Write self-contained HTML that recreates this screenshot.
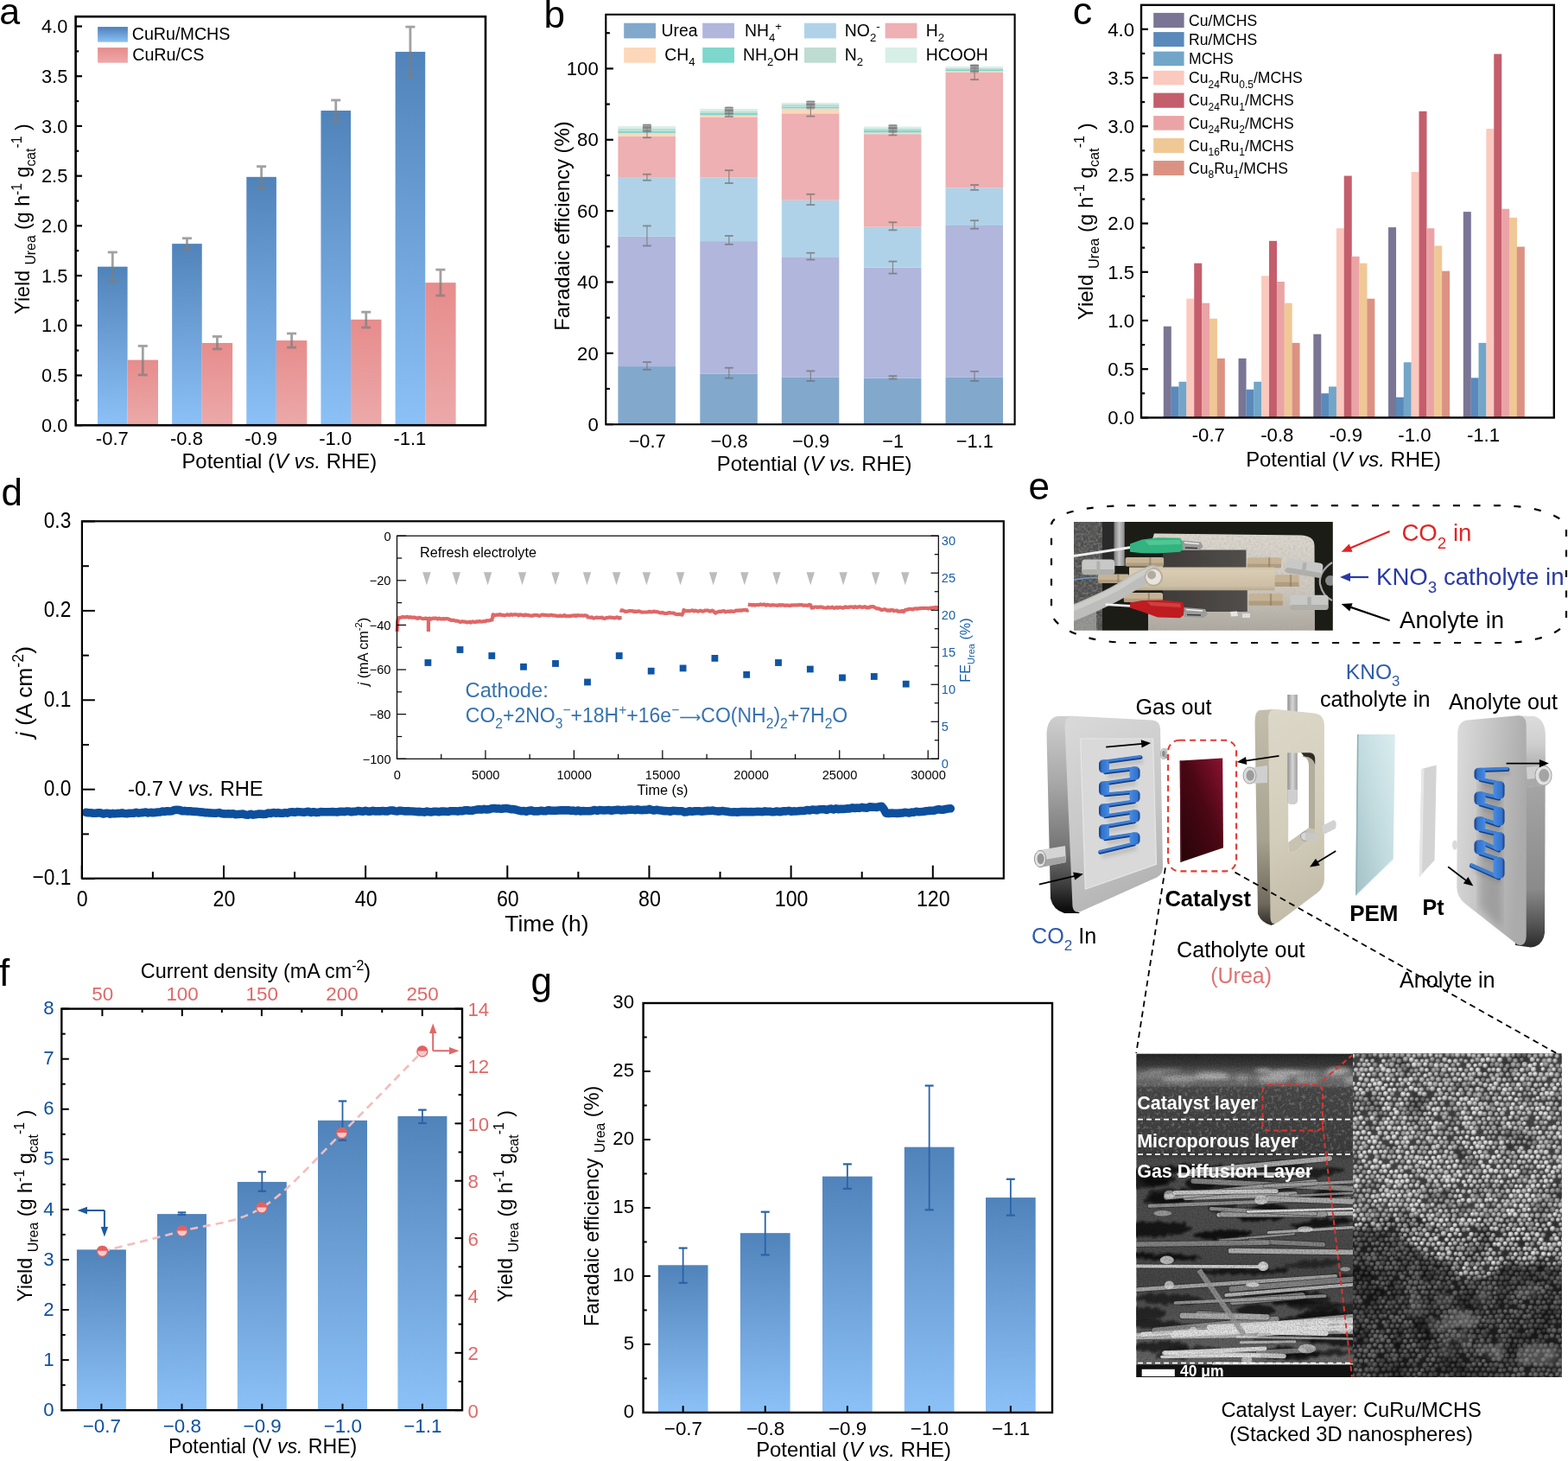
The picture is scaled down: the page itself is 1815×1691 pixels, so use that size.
<!DOCTYPE html>
<html><head><meta charset="utf-8"><title>Figure</title>
<style>html,body{margin:0;padding:0;background:#fff;} svg{display:block;}</style></head>
<body><svg width="1815" height="1691" viewBox="0 0 1815 1691" font-family="'Liberation Sans', Arial, sans-serif">
<defs><linearGradient id="lg1" x1="0" y1="0" x2="0" y2="1"><stop offset="0" stop-color="#5083ba"/><stop offset="1" stop-color="#8cc1f7"/></linearGradient><linearGradient id="lg2" x1="0" y1="0" x2="0" y2="1"><stop offset="0" stop-color="#e78c8c"/><stop offset="1" stop-color="#eca9a9"/></linearGradient><linearGradient id="lg3" x1="0" y1="0" x2="0" y2="1"><stop offset="0" stop-color="#4d7fba"/><stop offset="1" stop-color="#8cc1f7"/></linearGradient><linearGradient id="lg4" x1="0" y1="0" x2="0" y2="1"><stop offset="0" stop-color="#e78c8c"/><stop offset="1" stop-color="#eda9a9"/></linearGradient><clipPath id="phclip"><rect x="1243.0" y="604.0" width="299.8" height="125.7"/></clipPath><filter id="fabric" x="0" y="0" width="100%" height="100%"><feTurbulence type="fractalNoise" baseFrequency="0.35" numOctaves="2" seed="4"/><feColorMatrix type="matrix" values="0 0 0 0 0.45  0 0 0 0 0.43  0 0 0 0 0.4  1.0 1.0 1.0 0 -1.25"/><feComposite in2="SourceAlpha" operator="in"/></filter><filter id="pblur"><feGaussianBlur stdDeviation="0.5"/></filter><linearGradient id="lg5" x1="0" y1="0" x2="1" y2="0"><stop offset="0" stop-color="#7a7a7a"/><stop offset="0.5" stop-color="#c4c4c4"/><stop offset="1" stop-color="#8a8a8a"/></linearGradient><linearGradient id="lg6" x1="0" y1="0" x2="0" y2="1"><stop offset="0" stop-color="#dcd7ce"/><stop offset="0.55" stop-color="#cfc9bf"/><stop offset="1" stop-color="#a9a49b"/></linearGradient><linearGradient id="lg7" x1="0" y1="0" x2="1" y2="0"><stop offset="0" stop-color="#3e3b39"/><stop offset="1" stop-color="#524e4b"/></linearGradient><linearGradient id="lg8" x1="0" y1="0" x2="0" y2="1"><stop offset="0" stop-color="#cfc3ab"/><stop offset="0.15" stop-color="#d9ccb3"/><stop offset="0.8" stop-color="#cdbfa5"/><stop offset="1" stop-color="#b8aa90"/></linearGradient><linearGradient id="lg9" x1="0" y1="0" x2="0" y2="1"><stop offset="0" stop-color="#cfcfcf"/><stop offset="0.35" stop-color="#a6a6a6"/><stop offset="0.7" stop-color="#707070"/><stop offset="0.86" stop-color="#3c3c3c"/><stop offset="1" stop-color="#060606"/></linearGradient><linearGradient id="lg10" x1="0.2" y1="0" x2="0.5" y2="1"><stop offset="0" stop-color="#d8d8d8"/><stop offset="0.6" stop-color="#c6c6c6"/><stop offset="1" stop-color="#b2b2b2"/></linearGradient><filter id="blur2" x="-20%" y="-20%" width="140%" height="140%"><feGaussianBlur stdDeviation="2"/></filter><linearGradient id="bendL" x1="0" y1="0" x2="1" y2="0"><stop offset="0" stop-color="#143a7e"/><stop offset="0.3" stop-color="#3474cc"/><stop offset="0.7" stop-color="#3d80d8"/><stop offset="1" stop-color="#4a8ee2"/></linearGradient><linearGradient id="bendR" x1="0" y1="0" x2="1" y2="0"><stop offset="0" stop-color="#4a8ee2"/><stop offset="0.35" stop-color="#3d80d8"/><stop offset="0.75" stop-color="#3474cc"/><stop offset="1" stop-color="#143a7e"/></linearGradient><linearGradient id="lg11" x1="1" y1="0" x2="0" y2="1"><stop offset="0" stop-color="#8c1230"/><stop offset="0.45" stop-color="#4a0714"/><stop offset="1" stop-color="#250407"/></linearGradient><linearGradient id="lg12" x1="0" y1="0" x2="0" y2="1"><stop offset="0" stop-color="#c4beac"/><stop offset="0.6" stop-color="#a8a290"/><stop offset="0.9" stop-color="#6e695c"/><stop offset="1" stop-color="#2e2c26"/></linearGradient><linearGradient id="lg13" x1="0" y1="0" x2="1" y2="0"><stop offset="0" stop-color="#8e8e8e"/><stop offset="0.5" stop-color="#d6d6d6"/><stop offset="1" stop-color="#9c9c9c"/></linearGradient><linearGradient id="lg14" x1="0" y1="0" x2="0.15" y2="1"><stop offset="0" stop-color="#dcd8c9"/><stop offset="0.6" stop-color="#d3cdbb"/><stop offset="1" stop-color="#c2bca9"/></linearGradient><linearGradient id="lg15" x1="1" y1="0" x2="0" y2="1"><stop offset="0" stop-color="#daedf0"/><stop offset="0.5" stop-color="#c2dbdf"/><stop offset="1" stop-color="#a3c1c6"/></linearGradient><linearGradient id="lg16" x1="0" y1="0" x2="0" y2="1"><stop offset="0" stop-color="#dcdcdc"/><stop offset="0.12" stop-color="#cfcfcf"/><stop offset="0.25" stop-color="#a8a8a8"/><stop offset="0.75" stop-color="#8a8a8a"/><stop offset="0.9" stop-color="#555"/><stop offset="1" stop-color="#2a2a2a"/></linearGradient><linearGradient id="lg17" x1="0" y1="0" x2="1" y2="0.25"><stop offset="0" stop-color="#dcdcdc"/><stop offset="0.55" stop-color="#c2c2c2"/><stop offset="1" stop-color="#ababab"/></linearGradient><filter id="blur4"><feGaussianBlur stdDeviation="4"/></filter><clipPath id="semL"><rect x="1315.2" y="1219.4" width="250.8" height="374.6"/></clipPath><filter id="fine" x="0" y="0" width="100%" height="100%"><feTurbulence type="fractalNoise" baseFrequency="0.6" numOctaves="2" seed="2"/><feColorMatrix type="matrix" values="0 0 0 0 0  0 0 0 0 0  0 0 0 0 0  0 0 0 -1.6 1.0"/></filter><filter id="grain" x="0" y="0" width="100%" height="100%"><feTurbulence type="fractalNoise" baseFrequency="0.25" numOctaves="3" seed="9"/><feColorMatrix type="matrix" values="0 0 0 0 1  0 0 0 0 1  0 0 0 0 1  2.2 0 0 0 -1.15"/></filter><filter id="soft"><feGaussianBlur stdDeviation="0.7"/></filter><filter id="soft2"><feGaussianBlur stdDeviation="2.2"/></filter><linearGradient id="lg18" x1="0" y1="0" x2="0" y2="1"><stop offset="0" stop-color="#262626"/><stop offset="0.035" stop-color="#3c3c3c"/><stop offset="0.05" stop-color="#555555"/><stop offset="0.075" stop-color="#7c7c7c"/><stop offset="0.095" stop-color="#5c5c5c"/><stop offset="0.11" stop-color="#4a4a4a"/><stop offset="0.30" stop-color="#3e3e3e"/><stop offset="0.31" stop-color="#3a3a3a"/><stop offset="0.33" stop-color="#4c4c4c"/><stop offset="0.5" stop-color="#4e4e4e"/><stop offset="0.7" stop-color="#464646"/><stop offset="0.85" stop-color="#5a5a5a"/><stop offset="1" stop-color="#6a6a6a"/></linearGradient><filter id="edge2" x="-10%" y="-10%" width="120%" height="120%"><feTurbulence type="fractalNoise" baseFrequency="0.12" numOctaves="2" seed="17" result="t"/><feDisplacementMap in="SourceGraphic" in2="t" scale="9" xChannelSelector="R" yChannelSelector="G" result="d"/><feGaussianBlur in="d" stdDeviation="0.9"/></filter><clipPath id="semR"><rect x="1566.0" y="1219.2" width="241.9" height="374.8"/></clipPath><radialGradient id="sph" cx="0.4" cy="0.36" r="0.62"><stop offset="0" stop-color="#ececec"/><stop offset="0.5" stop-color="#b0b0b0"/><stop offset="1" stop-color="#404040"/></radialGradient><pattern id="spheres" x="0" y="0" width="6.0" height="10.4" patternUnits="userSpaceOnUse"><rect width="6.0" height="10.4" fill="#474747"/><circle cx="3.0" cy="2.6" r="2.85" fill="url(#sph)"/><circle cx="0" cy="7.8" r="2.85" fill="url(#sph)"/><circle cx="6.0" cy="7.8" r="2.85" fill="url(#sph)"/></pattern><filter id="warp" x="0" y="0" width="100%" height="100%"><feTurbulence type="fractalNoise" baseFrequency="0.035" numOctaves="2" seed="3" result="t"/><feDisplacementMap in="SourceGraphic" in2="t" scale="6" xChannelSelector="R" yChannelSelector="G"/></filter><filter id="blotch" x="0" y="0" width="100%" height="100%"><feTurbulence type="fractalNoise" baseFrequency="0.03" numOctaves="3" seed="8"/><feColorMatrix type="matrix" values="0 0 0 0 0  0 0 0 0 0  0 0 0 0 0  -2.4 0 0 0 1.3"/></filter><filter id="edge" x="-5%" y="-5%" width="110%" height="110%"><feTurbulence type="fractalNoise" baseFrequency="0.05" numOctaves="3" seed="6" result="t"/><feDisplacementMap in="SourceGraphic" in2="t" scale="28" xChannelSelector="R" yChannelSelector="G" result="d"/><feGaussianBlur in="d" stdDeviation="2"/></filter><radialGradient id="sA" cx="0.4" cy="0.35" r="0.65"><stop offset="0" stop-color="#f0f0f0"/><stop offset="0.45" stop-color="#bdbdbd"/><stop offset="1" stop-color="#3a3a3a"/></radialGradient><radialGradient id="sB" cx="0.4" cy="0.35" r="0.65"><stop offset="0" stop-color="#d2d2d2"/><stop offset="0.45" stop-color="#9e9e9e"/><stop offset="1" stop-color="#333"/></radialGradient><radialGradient id="sC" cx="0.4" cy="0.35" r="0.65"><stop offset="0" stop-color="#b0b0b0"/><stop offset="0.5" stop-color="#7c7c7c"/><stop offset="1" stop-color="#2c2c2c"/></radialGradient><linearGradient id="lg19" x1="0" y1="0" x2="0" y2="1"><stop offset="0" stop-color="#5083ba"/><stop offset="1" stop-color="#8cc1f7"/></linearGradient><linearGradient id="lg20" x1="0" y1="0" x2="0" y2="1"><stop offset="0" stop-color="#5083ba"/><stop offset="1" stop-color="#8cc1f7"/></linearGradient></defs>
<rect width="1815" height="1691" fill="#fff"/>
<text x="-0.80" y="27.70" font-size="43">a</text>
<rect x="113.00" y="308.67" width="34.60" height="183.53" fill="url(#lg1)"/>
<rect x="147.60" y="416.60" width="35.40" height="75.60" fill="url(#lg2)"/>
<rect x="199.15" y="282.13" width="34.60" height="210.07" fill="url(#lg1)"/>
<rect x="233.75" y="396.97" width="35.40" height="95.23" fill="url(#lg2)"/>
<rect x="285.30" y="204.79" width="34.60" height="287.41" fill="url(#lg1)"/>
<rect x="319.90" y="394.09" width="35.40" height="98.11" fill="url(#lg2)"/>
<rect x="371.45" y="128.03" width="34.60" height="364.17" fill="url(#lg1)"/>
<rect x="406.05" y="369.85" width="35.40" height="122.35" fill="url(#lg2)"/>
<rect x="457.60" y="59.93" width="34.60" height="432.27" fill="url(#lg1)"/>
<rect x="492.20" y="327.14" width="35.40" height="165.06" fill="url(#lg2)"/>
<g stroke="#7e7e7e" opacity="0.72"><line x1="130.30" y1="291.94" x2="130.30" y2="325.99" stroke-width="2.8"/><line x1="124.80" y1="291.94" x2="135.80" y2="291.94" stroke-width="2.8"/><line x1="124.80" y1="325.99" x2="135.80" y2="325.99" stroke-width="2.8"/></g>
<g stroke="#7e7e7e" opacity="0.72"><line x1="165.30" y1="400.44" x2="165.30" y2="433.91" stroke-width="2.8"/><line x1="159.80" y1="400.44" x2="170.80" y2="400.44" stroke-width="2.8"/><line x1="159.80" y1="433.91" x2="170.80" y2="433.91" stroke-width="2.8"/></g>
<g stroke="#7e7e7e" opacity="0.72"><line x1="216.45" y1="275.78" x2="216.45" y2="288.47" stroke-width="2.8"/><line x1="210.95" y1="275.78" x2="221.95" y2="275.78" stroke-width="2.8"/><line x1="210.95" y1="288.47" x2="221.95" y2="288.47" stroke-width="2.8"/></g>
<g stroke="#7e7e7e" opacity="0.72"><line x1="251.45" y1="389.47" x2="251.45" y2="403.90" stroke-width="2.8"/><line x1="245.95" y1="389.47" x2="256.95" y2="389.47" stroke-width="2.8"/><line x1="245.95" y1="403.90" x2="256.95" y2="403.90" stroke-width="2.8"/></g>
<g stroke="#7e7e7e" opacity="0.72"><line x1="302.60" y1="192.67" x2="302.60" y2="218.07" stroke-width="2.8"/><line x1="297.10" y1="192.67" x2="308.10" y2="192.67" stroke-width="2.8"/><line x1="297.10" y1="218.07" x2="308.10" y2="218.07" stroke-width="2.8"/></g>
<g stroke="#7e7e7e" opacity="0.72"><line x1="337.60" y1="386.01" x2="337.60" y2="402.17" stroke-width="2.8"/><line x1="332.10" y1="386.01" x2="343.10" y2="386.01" stroke-width="2.8"/><line x1="332.10" y1="402.17" x2="343.10" y2="402.17" stroke-width="2.8"/></g>
<g stroke="#7e7e7e" opacity="0.72"><line x1="388.75" y1="115.91" x2="388.75" y2="141.31" stroke-width="2.8"/><line x1="383.25" y1="115.91" x2="394.25" y2="115.91" stroke-width="2.8"/><line x1="383.25" y1="141.31" x2="394.25" y2="141.31" stroke-width="2.8"/></g>
<g stroke="#7e7e7e" opacity="0.72"><line x1="423.75" y1="361.19" x2="423.75" y2="379.08" stroke-width="2.8"/><line x1="418.25" y1="361.19" x2="429.25" y2="361.19" stroke-width="2.8"/><line x1="418.25" y1="379.08" x2="429.25" y2="379.08" stroke-width="2.8"/></g>
<g stroke="#7e7e7e" opacity="0.72"><line x1="474.90" y1="31.08" x2="474.90" y2="88.21" stroke-width="2.8"/><line x1="469.40" y1="31.08" x2="480.40" y2="31.08" stroke-width="2.8"/><line x1="469.40" y1="88.21" x2="480.40" y2="88.21" stroke-width="2.8"/></g>
<g stroke="#7e7e7e" opacity="0.72"><line x1="509.90" y1="312.14" x2="509.90" y2="342.15" stroke-width="2.8"/><line x1="504.40" y1="312.14" x2="515.40" y2="312.14" stroke-width="2.8"/><line x1="504.40" y1="342.15" x2="515.40" y2="342.15" stroke-width="2.8"/></g>
<rect x="87.60" y="19.20" width="474.40" height="473.00" fill="none" stroke="#000" stroke-width="2.6"/>
<line x1="87.60" y1="492.20" x2="95.00" y2="492.20" stroke="#000" stroke-width="2.2"/>
<text x="78.30" y="499.90" font-size="21.8" text-anchor="end">0.0</text>
<line x1="87.60" y1="463.34" x2="91.20" y2="463.34" stroke="#000" stroke-width="2.2"/>
<line x1="87.60" y1="434.49" x2="95.00" y2="434.49" stroke="#000" stroke-width="2.2"/>
<text x="78.30" y="442.19" font-size="21.8" text-anchor="end">0.5</text>
<line x1="87.60" y1="405.63" x2="91.20" y2="405.63" stroke="#000" stroke-width="2.2"/>
<line x1="87.60" y1="376.77" x2="95.00" y2="376.77" stroke="#000" stroke-width="2.2"/>
<text x="78.30" y="384.47" font-size="21.8" text-anchor="end">1.0</text>
<line x1="87.60" y1="347.92" x2="91.20" y2="347.92" stroke="#000" stroke-width="2.2"/>
<line x1="87.60" y1="319.06" x2="95.00" y2="319.06" stroke="#000" stroke-width="2.2"/>
<text x="78.30" y="326.76" font-size="21.8" text-anchor="end">1.5</text>
<line x1="87.60" y1="290.21" x2="91.20" y2="290.21" stroke="#000" stroke-width="2.2"/>
<line x1="87.60" y1="261.35" x2="95.00" y2="261.35" stroke="#000" stroke-width="2.2"/>
<text x="78.30" y="269.05" font-size="21.8" text-anchor="end">2.0</text>
<line x1="87.60" y1="232.49" x2="91.20" y2="232.49" stroke="#000" stroke-width="2.2"/>
<line x1="87.60" y1="203.64" x2="95.00" y2="203.64" stroke="#000" stroke-width="2.2"/>
<text x="78.30" y="211.34" font-size="21.8" text-anchor="end">2.5</text>
<line x1="87.60" y1="174.78" x2="91.20" y2="174.78" stroke="#000" stroke-width="2.2"/>
<line x1="87.60" y1="145.93" x2="95.00" y2="145.93" stroke="#000" stroke-width="2.2"/>
<text x="78.30" y="153.62" font-size="21.8" text-anchor="end">3.0</text>
<line x1="87.60" y1="117.07" x2="91.20" y2="117.07" stroke="#000" stroke-width="2.2"/>
<line x1="87.60" y1="88.21" x2="95.00" y2="88.21" stroke="#000" stroke-width="2.2"/>
<text x="78.30" y="95.91" font-size="21.8" text-anchor="end">3.5</text>
<line x1="87.60" y1="59.36" x2="91.20" y2="59.36" stroke="#000" stroke-width="2.2"/>
<line x1="87.60" y1="30.50" x2="95.00" y2="30.50" stroke="#000" stroke-width="2.2"/>
<text x="78.30" y="38.20" font-size="21.8" text-anchor="end">4.0</text>
<text x="129.80" y="514.60" font-size="22" text-anchor="middle">-0.7</text>
<text x="215.95" y="514.60" font-size="22" text-anchor="middle">-0.8</text>
<text x="302.10" y="514.60" font-size="22" text-anchor="middle">-0.9</text>
<text x="388.25" y="514.60" font-size="22" text-anchor="middle">-1.0</text>
<text x="474.40" y="514.60" font-size="22" text-anchor="middle">-1.1</text>
<text x="323.30" y="542.30" font-size="23.9" text-anchor="middle"><tspan>Potential (</tspan><tspan font-style="italic">V</tspan><tspan> </tspan><tspan font-style="italic">vs.</tspan><tspan> RHE)</tspan></text>
<text transform="translate(34.30,253.50) rotate(-90)" font-size="23.2" text-anchor="middle"><tspan>Yield </tspan><tspan dy="6.96" font-size="15.78">Urea</tspan><tspan dy="-6.96"> (g h</tspan><tspan dy="-9.28" font-size="15.78">-1</tspan><tspan dy="9.28"> g</tspan><tspan dy="6.96" font-size="15.78">cat</tspan><tspan dy="-16.24" font-size="15.78">-1</tspan><tspan dy="9.28"> )</tspan></text>
<rect x="113.10" y="31.10" width="34.80" height="17.60" fill="url(#lg3)"/>
<rect x="113.10" y="55.10" width="34.80" height="17.60" fill="url(#lg4)"/>
<text x="152.70" y="46.30" font-size="19.7">CuRu/MCHS</text>
<text x="153.20" y="70.30" font-size="19.7">CuRu/CS</text>
<text x="629.60" y="32.20" font-size="44">b</text>
<rect x="715.40" y="424.08" width="66.50" height="67.12" fill="#82a8cc"/>
<rect x="715.40" y="273.77" width="66.50" height="150.31" fill="#b0b6dc"/>
<rect x="715.40" y="205.82" width="66.50" height="67.95" fill="#b0d2e8"/>
<rect x="715.40" y="157.64" width="66.50" height="48.18" fill="#eeb0b2"/>
<rect x="715.40" y="153.94" width="66.50" height="3.71" fill="#fdd7b9"/>
<rect x="715.40" y="151.47" width="66.50" height="2.47" fill="#7dd7cd"/>
<rect x="715.40" y="148.99" width="66.50" height="2.47" fill="#bedcd2"/>
<rect x="715.40" y="146.11" width="66.50" height="2.88" fill="#d7efe7"/>
<rect x="810.30" y="432.72" width="66.50" height="58.48" fill="#82a8cc"/>
<rect x="810.30" y="279.12" width="66.50" height="153.60" fill="#b0b6dc"/>
<rect x="810.30" y="205.41" width="66.50" height="73.71" fill="#b0d2e8"/>
<rect x="810.30" y="135.40" width="66.50" height="70.01" fill="#eeb0b2"/>
<rect x="810.30" y="133.35" width="66.50" height="2.06" fill="#fdd7b9"/>
<rect x="810.30" y="130.88" width="66.50" height="2.47" fill="#7dd7cd"/>
<rect x="810.30" y="128.40" width="66.50" height="2.47" fill="#bedcd2"/>
<rect x="810.30" y="125.93" width="66.50" height="2.47" fill="#d7efe7"/>
<rect x="904.80" y="436.43" width="66.50" height="54.77" fill="#82a8cc"/>
<rect x="904.80" y="297.24" width="66.50" height="139.19" fill="#b0b6dc"/>
<rect x="904.80" y="231.77" width="66.50" height="65.48" fill="#b0d2e8"/>
<rect x="904.80" y="131.29" width="66.50" height="100.48" fill="#eeb0b2"/>
<rect x="904.80" y="125.52" width="66.50" height="5.77" fill="#fdd7b9"/>
<rect x="904.80" y="123.46" width="66.50" height="2.06" fill="#7dd7cd"/>
<rect x="904.80" y="120.99" width="66.50" height="2.47" fill="#bedcd2"/>
<rect x="904.80" y="118.93" width="66.50" height="2.06" fill="#d7efe7"/>
<rect x="999.90" y="437.67" width="66.50" height="53.53" fill="#82a8cc"/>
<rect x="999.90" y="309.60" width="66.50" height="128.07" fill="#b0b6dc"/>
<rect x="999.90" y="262.65" width="66.50" height="46.95" fill="#b0d2e8"/>
<rect x="999.90" y="155.17" width="66.50" height="107.48" fill="#eeb0b2"/>
<rect x="999.90" y="153.52" width="66.50" height="1.65" fill="#fdd7b9"/>
<rect x="999.90" y="151.05" width="66.50" height="2.47" fill="#7dd7cd"/>
<rect x="999.90" y="148.99" width="66.50" height="2.06" fill="#bedcd2"/>
<rect x="999.90" y="146.52" width="66.50" height="2.47" fill="#d7efe7"/>
<rect x="1094.50" y="436.43" width="66.50" height="54.77" fill="#82a8cc"/>
<rect x="1094.50" y="261.00" width="66.50" height="175.43" fill="#b0b6dc"/>
<rect x="1094.50" y="217.35" width="66.50" height="43.65" fill="#b0d2e8"/>
<rect x="1094.50" y="83.93" width="66.50" height="133.42" fill="#eeb0b2"/>
<rect x="1094.50" y="82.28" width="66.50" height="1.65" fill="#fdd7b9"/>
<rect x="1094.50" y="80.22" width="66.50" height="2.06" fill="#7dd7cd"/>
<rect x="1094.50" y="78.58" width="66.50" height="1.65" fill="#bedcd2"/>
<rect x="1094.50" y="76.93" width="66.50" height="1.65" fill="#d7efe7"/>
<g stroke="#707070" opacity="0.75"><line x1="748.95" y1="419.13" x2="748.95" y2="427.78" stroke-width="1.2"/><line x1="744.05" y1="419.13" x2="753.85" y2="419.13" stroke-width="1.8"/><line x1="744.05" y1="427.78" x2="753.85" y2="427.78" stroke-width="1.8"/></g>
<g stroke="#707070" opacity="0.75"><line x1="748.95" y1="261.42" x2="748.95" y2="284.48" stroke-width="1.2"/><line x1="744.05" y1="261.42" x2="753.85" y2="261.42" stroke-width="1.8"/><line x1="744.05" y1="284.48" x2="753.85" y2="284.48" stroke-width="1.8"/></g>
<g stroke="#707070" opacity="0.75"><line x1="748.95" y1="201.70" x2="748.95" y2="208.71" stroke-width="1.2"/><line x1="744.05" y1="201.70" x2="753.85" y2="201.70" stroke-width="1.8"/><line x1="744.05" y1="208.71" x2="753.85" y2="208.71" stroke-width="1.8"/></g>
<g stroke="#707070" opacity="0.75"><line x1="748.95" y1="146.94" x2="748.95" y2="159.29" stroke-width="1.2"/><line x1="744.05" y1="146.94" x2="753.85" y2="146.94" stroke-width="1.8"/><line x1="744.05" y1="159.29" x2="753.85" y2="159.29" stroke-width="1.8"/></g>
<rect x="743.9" y="143.6" width="10" height="10" rx="1.5" fill="#8a8a8a" opacity="0.7"/>
<line x1="743.95" y1="144.61" x2="753.95" y2="144.61" stroke="#6a6a6a" stroke-width="1.2" opacity="0.6"/>
<line x1="743.95" y1="148.11" x2="753.95" y2="148.11" stroke="#6a6a6a" stroke-width="1.2" opacity="0.6"/>
<line x1="743.95" y1="151.61" x2="753.95" y2="151.61" stroke="#6a6a6a" stroke-width="1.2" opacity="0.6"/>
<g stroke="#707070" opacity="0.75"><line x1="843.85" y1="425.72" x2="843.85" y2="437.67" stroke-width="1.2"/><line x1="838.95" y1="425.72" x2="848.75" y2="425.72" stroke-width="1.8"/><line x1="838.95" y1="437.67" x2="848.75" y2="437.67" stroke-width="1.8"/></g>
<g stroke="#707070" opacity="0.75"><line x1="843.85" y1="272.95" x2="843.85" y2="282.83" stroke-width="1.2"/><line x1="838.95" y1="272.95" x2="848.75" y2="272.95" stroke-width="1.8"/><line x1="838.95" y1="282.83" x2="848.75" y2="282.83" stroke-width="1.8"/></g>
<g stroke="#707070" opacity="0.75"><line x1="843.85" y1="197.17" x2="843.85" y2="212.00" stroke-width="1.2"/><line x1="838.95" y1="197.17" x2="848.75" y2="197.17" stroke-width="1.8"/><line x1="838.95" y1="212.00" x2="848.75" y2="212.00" stroke-width="1.8"/></g>
<g stroke="#707070" opacity="0.75"><line x1="843.85" y1="127.58" x2="843.85" y2="134.99" stroke-width="1.2"/><line x1="838.95" y1="127.58" x2="848.75" y2="127.58" stroke-width="1.8"/><line x1="838.95" y1="134.99" x2="848.75" y2="134.99" stroke-width="1.8"/></g>
<rect x="838.8" y="123.4" width="10" height="10" rx="1.5" fill="#8a8a8a" opacity="0.7"/>
<line x1="838.85" y1="124.43" x2="848.85" y2="124.43" stroke="#6a6a6a" stroke-width="1.2" opacity="0.6"/>
<line x1="838.85" y1="127.93" x2="848.85" y2="127.93" stroke="#6a6a6a" stroke-width="1.2" opacity="0.6"/>
<line x1="838.85" y1="131.43" x2="848.85" y2="131.43" stroke="#6a6a6a" stroke-width="1.2" opacity="0.6"/>
<g stroke="#707070" opacity="0.75"><line x1="938.35" y1="429.43" x2="938.35" y2="440.96" stroke-width="1.2"/><line x1="933.45" y1="429.43" x2="943.25" y2="429.43" stroke-width="1.8"/><line x1="933.45" y1="440.96" x2="943.25" y2="440.96" stroke-width="1.8"/></g>
<g stroke="#707070" opacity="0.75"><line x1="938.35" y1="292.71" x2="938.35" y2="300.54" stroke-width="1.2"/><line x1="933.45" y1="292.71" x2="943.25" y2="292.71" stroke-width="1.8"/><line x1="933.45" y1="300.54" x2="943.25" y2="300.54" stroke-width="1.8"/></g>
<g stroke="#707070" opacity="0.75"><line x1="938.35" y1="224.77" x2="938.35" y2="237.12" stroke-width="1.2"/><line x1="933.45" y1="224.77" x2="943.25" y2="224.77" stroke-width="1.8"/><line x1="933.45" y1="237.12" x2="943.25" y2="237.12" stroke-width="1.8"/></g>
<g stroke="#707070" opacity="0.75"><line x1="938.35" y1="120.58" x2="938.35" y2="134.58" stroke-width="1.2"/><line x1="933.45" y1="120.58" x2="943.25" y2="120.58" stroke-width="1.8"/><line x1="933.45" y1="134.58" x2="943.25" y2="134.58" stroke-width="1.8"/></g>
<rect x="933.3" y="116.4" width="10" height="10" rx="1.5" fill="#8a8a8a" opacity="0.7"/>
<line x1="933.35" y1="117.43" x2="943.35" y2="117.43" stroke="#6a6a6a" stroke-width="1.2" opacity="0.6"/>
<line x1="933.35" y1="120.93" x2="943.35" y2="120.93" stroke="#6a6a6a" stroke-width="1.2" opacity="0.6"/>
<line x1="933.35" y1="124.43" x2="943.35" y2="124.43" stroke="#6a6a6a" stroke-width="1.2" opacity="0.6"/>
<g stroke="#707070" opacity="0.75"><line x1="1033.45" y1="435.20" x2="1033.45" y2="438.49" stroke-width="1.2"/><line x1="1028.55" y1="435.20" x2="1038.35" y2="435.20" stroke-width="1.8"/><line x1="1028.55" y1="438.49" x2="1038.35" y2="438.49" stroke-width="1.8"/></g>
<g stroke="#707070" opacity="0.75"><line x1="1033.45" y1="302.60" x2="1033.45" y2="316.60" stroke-width="1.2"/><line x1="1028.55" y1="302.60" x2="1038.35" y2="302.60" stroke-width="1.8"/><line x1="1028.55" y1="316.60" x2="1038.35" y2="316.60" stroke-width="1.8"/></g>
<g stroke="#707070" opacity="0.75"><line x1="1033.45" y1="257.30" x2="1033.45" y2="266.36" stroke-width="1.2"/><line x1="1028.55" y1="257.30" x2="1038.35" y2="257.30" stroke-width="1.8"/><line x1="1028.55" y1="266.36" x2="1038.35" y2="266.36" stroke-width="1.8"/></g>
<g stroke="#707070" opacity="0.75"><line x1="1033.45" y1="147.76" x2="1033.45" y2="156.41" stroke-width="1.2"/><line x1="1028.55" y1="147.76" x2="1038.35" y2="147.76" stroke-width="1.8"/><line x1="1028.55" y1="156.41" x2="1038.35" y2="156.41" stroke-width="1.8"/></g>
<rect x="1028.5" y="144.0" width="10" height="10" rx="1.5" fill="#8a8a8a" opacity="0.7"/>
<line x1="1028.45" y1="145.02" x2="1038.45" y2="145.02" stroke="#6a6a6a" stroke-width="1.2" opacity="0.6"/>
<line x1="1028.45" y1="148.52" x2="1038.45" y2="148.52" stroke="#6a6a6a" stroke-width="1.2" opacity="0.6"/>
<line x1="1028.45" y1="152.02" x2="1038.45" y2="152.02" stroke="#6a6a6a" stroke-width="1.2" opacity="0.6"/>
<g stroke="#707070" opacity="0.75"><line x1="1128.05" y1="429.84" x2="1128.05" y2="440.96" stroke-width="1.2"/><line x1="1123.15" y1="429.84" x2="1132.95" y2="429.84" stroke-width="1.8"/><line x1="1123.15" y1="440.96" x2="1132.95" y2="440.96" stroke-width="1.8"/></g>
<g stroke="#707070" opacity="0.75"><line x1="1128.05" y1="255.24" x2="1128.05" y2="264.71" stroke-width="1.2"/><line x1="1123.15" y1="255.24" x2="1132.95" y2="255.24" stroke-width="1.8"/><line x1="1123.15" y1="264.71" x2="1132.95" y2="264.71" stroke-width="1.8"/></g>
<g stroke="#707070" opacity="0.75"><line x1="1128.05" y1="214.06" x2="1128.05" y2="219.82" stroke-width="1.2"/><line x1="1123.15" y1="214.06" x2="1132.95" y2="214.06" stroke-width="1.8"/><line x1="1123.15" y1="219.82" x2="1132.95" y2="219.82" stroke-width="1.8"/></g>
<g stroke="#707070" opacity="0.75"><line x1="1128.05" y1="76.11" x2="1128.05" y2="92.17" stroke-width="1.2"/><line x1="1123.15" y1="76.11" x2="1132.95" y2="76.11" stroke-width="1.8"/><line x1="1123.15" y1="92.17" x2="1132.95" y2="92.17" stroke-width="1.8"/></g>
<rect x="1123.0" y="74.4" width="10" height="10" rx="1.5" fill="#8a8a8a" opacity="0.7"/>
<line x1="1123.05" y1="75.43" x2="1133.05" y2="75.43" stroke="#6a6a6a" stroke-width="1.2" opacity="0.6"/>
<line x1="1123.05" y1="78.93" x2="1133.05" y2="78.93" stroke="#6a6a6a" stroke-width="1.2" opacity="0.6"/>
<line x1="1123.05" y1="82.43" x2="1133.05" y2="82.43" stroke="#6a6a6a" stroke-width="1.2" opacity="0.6"/>
<rect x="701.30" y="16.80" width="473.30" height="474.40" fill="none" stroke="#000" stroke-width="2.1"/>
<line x1="701.30" y1="491.20" x2="709.90" y2="491.20" stroke="#000" stroke-width="2.2"/>
<text x="692.80" y="498.90" font-size="22.2" text-anchor="end">0</text>
<line x1="701.30" y1="450.02" x2="705.90" y2="450.02" stroke="#000" stroke-width="2.2"/>
<line x1="701.30" y1="408.84" x2="709.90" y2="408.84" stroke="#000" stroke-width="2.2"/>
<text x="692.80" y="416.54" font-size="22.2" text-anchor="end">20</text>
<line x1="701.30" y1="367.66" x2="705.90" y2="367.66" stroke="#000" stroke-width="2.2"/>
<line x1="701.30" y1="326.48" x2="709.90" y2="326.48" stroke="#000" stroke-width="2.2"/>
<text x="692.80" y="334.18" font-size="22.2" text-anchor="end">40</text>
<line x1="701.30" y1="285.30" x2="705.90" y2="285.30" stroke="#000" stroke-width="2.2"/>
<line x1="701.30" y1="244.12" x2="709.90" y2="244.12" stroke="#000" stroke-width="2.2"/>
<text x="692.80" y="251.82" font-size="22.2" text-anchor="end">60</text>
<line x1="701.30" y1="202.94" x2="705.90" y2="202.94" stroke="#000" stroke-width="2.2"/>
<line x1="701.30" y1="161.76" x2="709.90" y2="161.76" stroke="#000" stroke-width="2.2"/>
<text x="692.80" y="169.46" font-size="22.2" text-anchor="end">80</text>
<line x1="701.30" y1="120.58" x2="705.90" y2="120.58" stroke="#000" stroke-width="2.2"/>
<line x1="701.30" y1="79.40" x2="709.90" y2="79.40" stroke="#000" stroke-width="2.2"/>
<text x="692.80" y="87.10" font-size="22.2" text-anchor="end">100</text>
<line x1="701.30" y1="38.22" x2="705.90" y2="38.22" stroke="#000" stroke-width="2.2"/>
<text x="749.15" y="518.40" font-size="21.8" text-anchor="middle">−0.7</text>
<text x="844.05" y="518.40" font-size="21.8" text-anchor="middle">−0.8</text>
<text x="938.55" y="518.40" font-size="21.8" text-anchor="middle">−0.9</text>
<text x="1033.65" y="518.40" font-size="21.8" text-anchor="middle">−1</text>
<text x="1128.25" y="518.40" font-size="21.8" text-anchor="middle">−1.1</text>
<text x="942.70" y="545.30" font-size="23.9" text-anchor="middle"><tspan>Potential (</tspan><tspan font-style="italic">V</tspan><tspan> </tspan><tspan font-style="italic">vs.</tspan><tspan> RHE)</tspan></text>
<text transform="translate(658.50,261.50) rotate(-90)" font-size="23.9" text-anchor="middle">Faradaic efficiency (%)</text>
<rect x="722.20" y="26.70" width="36.80" height="17.70" fill="#82a8cc"/>
<rect x="722.20" y="55.00" width="36.80" height="17.70" fill="#fdd7b9"/>
<text x="765.60" y="42.30" font-size="19.4"><tspan>Urea</tspan></text>
<text x="769.30" y="70.40" font-size="19.4"><tspan>CH</tspan><tspan dy="5.82" font-size="13.19">4</tspan></text>
<rect x="813.20" y="26.70" width="36.80" height="17.70" fill="#b0b6dc"/>
<rect x="813.20" y="55.00" width="36.80" height="17.70" fill="#7dd7cd"/>
<text x="862.00" y="42.30" font-size="19.4"><tspan>NH</tspan><tspan dy="5.82" font-size="13.19">4</tspan><tspan dy="-13.58" font-size="13.19">+</tspan></text>
<text x="860.00" y="70.40" font-size="19.4"><tspan>NH</tspan><tspan dy="5.82" font-size="13.19">2</tspan><tspan dy="-5.82">OH</tspan></text>
<rect x="931.00" y="26.70" width="36.80" height="17.70" fill="#b0d2e8"/>
<rect x="931.00" y="55.00" width="36.80" height="17.70" fill="#bedcd2"/>
<text x="977.80" y="42.30" font-size="19.4"><tspan>NO</tspan><tspan dy="5.82" font-size="13.19">2</tspan><tspan dy="-13.58" font-size="13.19">-</tspan></text>
<text x="977.80" y="70.40" font-size="19.4"><tspan>N</tspan><tspan dy="5.82" font-size="13.19">2</tspan></text>
<rect x="1024.60" y="26.70" width="36.80" height="17.70" fill="#eeb0b2"/>
<rect x="1024.60" y="55.00" width="36.80" height="17.70" fill="#d7efe7"/>
<text x="1071.70" y="42.30" font-size="19.4"><tspan>H</tspan><tspan dy="5.82" font-size="13.19">2</tspan></text>
<text x="1071.70" y="70.40" font-size="19.4"><tspan>HCOOH</tspan></text>
<text x="1241.80" y="27.60" font-size="45">c</text>
<rect x="1346.80" y="377.74" width="9.01" height="105.66" fill="#7a7594"/>
<rect x="1355.66" y="447.43" width="9.01" height="35.97" fill="#5a89bb"/>
<rect x="1364.52" y="441.81" width="9.01" height="41.59" fill="#72a6c8"/>
<rect x="1373.38" y="345.71" width="9.01" height="137.69" fill="#fbc9be"/>
<rect x="1382.24" y="304.68" width="9.01" height="178.72" fill="#c45e6c"/>
<rect x="1391.10" y="350.77" width="9.01" height="132.63" fill="#eba4a6"/>
<rect x="1399.96" y="368.75" width="9.01" height="114.65" fill="#f0c896"/>
<rect x="1408.82" y="414.84" width="9.01" height="68.56" fill="#dc9282"/>
<rect x="1433.55" y="414.84" width="9.01" height="68.56" fill="#7a7594"/>
<rect x="1442.41" y="450.80" width="9.01" height="32.60" fill="#5a89bb"/>
<rect x="1451.27" y="441.81" width="9.01" height="41.59" fill="#72a6c8"/>
<rect x="1460.13" y="319.30" width="9.01" height="164.10" fill="#fbc9be"/>
<rect x="1468.99" y="278.83" width="9.01" height="204.57" fill="#c45e6c"/>
<rect x="1477.85" y="326.04" width="9.01" height="157.36" fill="#eba4a6"/>
<rect x="1486.71" y="350.77" width="9.01" height="132.63" fill="#f0c896"/>
<rect x="1495.57" y="396.85" width="9.01" height="86.55" fill="#dc9282"/>
<rect x="1520.30" y="386.74" width="9.01" height="96.66" fill="#7a7594"/>
<rect x="1529.16" y="455.30" width="9.01" height="28.10" fill="#5a89bb"/>
<rect x="1538.02" y="447.43" width="9.01" height="35.97" fill="#72a6c8"/>
<rect x="1546.88" y="264.22" width="9.01" height="219.18" fill="#fbc9be"/>
<rect x="1555.74" y="203.52" width="9.01" height="279.88" fill="#c45e6c"/>
<rect x="1564.60" y="296.82" width="9.01" height="186.58" fill="#eba4a6"/>
<rect x="1573.46" y="304.68" width="9.01" height="178.72" fill="#f0c896"/>
<rect x="1582.32" y="345.71" width="9.01" height="137.69" fill="#dc9282"/>
<rect x="1607.05" y="263.10" width="9.01" height="220.30" fill="#7a7594"/>
<rect x="1615.91" y="459.80" width="9.01" height="23.60" fill="#5a89bb"/>
<rect x="1624.77" y="419.33" width="9.01" height="64.07" fill="#72a6c8"/>
<rect x="1633.63" y="199.03" width="9.01" height="284.37" fill="#fbc9be"/>
<rect x="1642.49" y="128.78" width="9.01" height="354.62" fill="#c45e6c"/>
<rect x="1651.35" y="264.22" width="9.01" height="219.18" fill="#eba4a6"/>
<rect x="1660.21" y="284.45" width="9.01" height="198.95" fill="#f0c896"/>
<rect x="1669.07" y="313.68" width="9.01" height="169.72" fill="#dc9282"/>
<rect x="1693.80" y="245.11" width="9.01" height="238.29" fill="#7a7594"/>
<rect x="1702.66" y="437.32" width="9.01" height="46.08" fill="#5a89bb"/>
<rect x="1711.52" y="396.85" width="9.01" height="86.55" fill="#72a6c8"/>
<rect x="1720.38" y="149.01" width="9.01" height="334.39" fill="#fbc9be"/>
<rect x="1729.24" y="62.46" width="9.01" height="420.94" fill="#c45e6c"/>
<rect x="1738.10" y="241.74" width="9.01" height="241.66" fill="#eba4a6"/>
<rect x="1746.96" y="251.86" width="9.01" height="231.54" fill="#f0c896"/>
<rect x="1755.82" y="285.58" width="9.01" height="197.82" fill="#dc9282"/>
<rect x="1321.00" y="5.80" width="477.80" height="477.60" fill="none" stroke="#000" stroke-width="2.4"/>
<line x1="1321.00" y1="483.40" x2="1329.00" y2="483.40" stroke="#000" stroke-width="2.2"/>
<text x="1313.00" y="491.20" font-size="22.2" text-anchor="end">0.0</text>
<line x1="1321.00" y1="455.30" x2="1325.20" y2="455.30" stroke="#000" stroke-width="2.2"/>
<line x1="1321.00" y1="427.20" x2="1329.00" y2="427.20" stroke="#000" stroke-width="2.2"/>
<text x="1313.00" y="435.00" font-size="22.2" text-anchor="end">0.5</text>
<line x1="1321.00" y1="399.10" x2="1325.20" y2="399.10" stroke="#000" stroke-width="2.2"/>
<line x1="1321.00" y1="371.00" x2="1329.00" y2="371.00" stroke="#000" stroke-width="2.2"/>
<text x="1313.00" y="378.80" font-size="22.2" text-anchor="end">1.0</text>
<line x1="1321.00" y1="342.90" x2="1325.20" y2="342.90" stroke="#000" stroke-width="2.2"/>
<line x1="1321.00" y1="314.80" x2="1329.00" y2="314.80" stroke="#000" stroke-width="2.2"/>
<text x="1313.00" y="322.60" font-size="22.2" text-anchor="end">1.5</text>
<line x1="1321.00" y1="286.70" x2="1325.20" y2="286.70" stroke="#000" stroke-width="2.2"/>
<line x1="1321.00" y1="258.60" x2="1329.00" y2="258.60" stroke="#000" stroke-width="2.2"/>
<text x="1313.00" y="266.40" font-size="22.2" text-anchor="end">2.0</text>
<line x1="1321.00" y1="230.50" x2="1325.20" y2="230.50" stroke="#000" stroke-width="2.2"/>
<line x1="1321.00" y1="202.40" x2="1329.00" y2="202.40" stroke="#000" stroke-width="2.2"/>
<text x="1313.00" y="210.20" font-size="22.2" text-anchor="end">2.5</text>
<line x1="1321.00" y1="174.30" x2="1325.20" y2="174.30" stroke="#000" stroke-width="2.2"/>
<line x1="1321.00" y1="146.20" x2="1329.00" y2="146.20" stroke="#000" stroke-width="2.2"/>
<text x="1313.00" y="154.00" font-size="22.2" text-anchor="end">3.0</text>
<line x1="1321.00" y1="118.10" x2="1325.20" y2="118.10" stroke="#000" stroke-width="2.2"/>
<line x1="1321.00" y1="90.00" x2="1329.00" y2="90.00" stroke="#000" stroke-width="2.2"/>
<text x="1313.00" y="97.80" font-size="22.2" text-anchor="end">3.5</text>
<line x1="1321.00" y1="61.90" x2="1325.20" y2="61.90" stroke="#000" stroke-width="2.2"/>
<line x1="1321.00" y1="33.80" x2="1329.00" y2="33.80" stroke="#000" stroke-width="2.2"/>
<text x="1313.00" y="41.60" font-size="22.2" text-anchor="end">4.0</text>
<text x="1398.80" y="510.60" font-size="22.2" text-anchor="middle">-0.7</text>
<text x="1478.35" y="510.60" font-size="22.2" text-anchor="middle">-0.8</text>
<text x="1557.90" y="510.60" font-size="22.2" text-anchor="middle">-0.9</text>
<text x="1637.45" y="510.60" font-size="22.2" text-anchor="middle">-1.0</text>
<text x="1717.00" y="510.60" font-size="22.2" text-anchor="middle">-1.1</text>
<text x="1555.00" y="540.00" font-size="23.9" text-anchor="middle"><tspan>Potential (</tspan><tspan font-style="italic">V</tspan><tspan> </tspan><tspan font-style="italic">vs.</tspan><tspan> RHE)</tspan></text>
<text transform="translate(1264.60,256.20) rotate(-90)" font-size="24.0" text-anchor="middle"><tspan>Yield </tspan><tspan dy="7.20" font-size="16.32">Urea</tspan><tspan dy="-7.20"> (g h</tspan><tspan dy="-9.60" font-size="16.32">-1</tspan><tspan dy="9.60"> g</tspan><tspan dy="7.20" font-size="16.32">cat</tspan><tspan dy="-16.80" font-size="16.32">-1</tspan><tspan dy="9.60"> )</tspan></text>
<rect x="1335.20" y="14.90" width="35.40" height="17.20" fill="#7a7594"/>
<text x="1376.00" y="29.70" font-size="17.6"><tspan>Cu/MCHS</tspan></text>
<rect x="1335.20" y="37.10" width="35.40" height="16.90" fill="#5a89bb"/>
<text x="1376.00" y="51.75" font-size="17.6"><tspan>Ru/MCHS</tspan></text>
<rect x="1335.20" y="59.60" width="35.40" height="16.60" fill="#72a6c8"/>
<text x="1376.00" y="74.10" font-size="17.6"><tspan>MCHS</tspan></text>
<rect x="1335.20" y="81.80" width="35.40" height="16.50" fill="#fbc9be"/>
<text x="1376.00" y="96.25" font-size="17.6"><tspan>Cu</tspan><tspan dy="5.28" font-size="11.97">24</tspan><tspan dy="-5.28">Ru</tspan><tspan dy="5.28" font-size="11.97">0.5</tspan><tspan dy="-5.28">/MCHS</tspan></text>
<rect x="1335.20" y="107.60" width="35.40" height="17.20" fill="#c45e6c"/>
<text x="1376.00" y="122.40" font-size="17.6"><tspan>Cu</tspan><tspan dy="5.28" font-size="11.97">24</tspan><tspan dy="-5.28">Ru</tspan><tspan dy="5.28" font-size="11.97">1</tspan><tspan dy="-5.28">/MCHS</tspan></text>
<rect x="1335.20" y="134.10" width="35.40" height="16.60" fill="#eba4a6"/>
<text x="1376.00" y="148.60" font-size="17.6"><tspan>Cu</tspan><tspan dy="5.28" font-size="11.97">24</tspan><tspan dy="-5.28">Ru</tspan><tspan dy="5.28" font-size="11.97">2</tspan><tspan dy="-5.28">/MCHS</tspan></text>
<rect x="1335.20" y="160.00" width="35.40" height="17.00" fill="#f0c896"/>
<text x="1376.00" y="174.70" font-size="17.6"><tspan>Cu</tspan><tspan dy="5.28" font-size="11.97">16</tspan><tspan dy="-5.28">Ru</tspan><tspan dy="5.28" font-size="11.97">1</tspan><tspan dy="-5.28">/MCHS</tspan></text>
<rect x="1335.20" y="186.00" width="35.40" height="17.00" fill="#dc9282"/>
<text x="1376.00" y="200.70" font-size="17.6"><tspan>Cu</tspan><tspan dy="5.28" font-size="11.97">8</tspan><tspan dy="-5.28">Ru</tspan><tspan dy="5.28" font-size="11.97">1</tspan><tspan dy="-5.28">/MCHS</tspan></text>
<text x="1.50" y="585.30" font-size="44">d</text>
<path d="M99.3,940.3 L102.2,940.8 L105.1,940.7 L107.9,941.2 L110.8,941.3 L113.7,940.8 L116.6,940.9 L119.4,942.0 L122.2,941.3 L124.9,941.2 L127.6,942.1 L130.4,941.4 L133.1,941.8 L135.8,941.4 L138.6,941.5 L141.3,940.9 L144.0,941.5 L146.8,941.7 L149.5,941.2 L152.3,941.3 L155.0,941.2 L157.7,940.4 L160.5,941.1 L163.2,940.8 L165.9,940.4 L168.7,940.0 L171.4,940.9 L174.1,940.4 L176.9,940.6 L179.7,940.5 L182.5,940.0 L185.3,940.0 L188.0,939.1 L190.8,939.4 L193.6,938.7 L196.4,939.0 L199.2,938.7 L202.0,937.5 L204.8,937.3 L207.8,937.6 L210.9,938.8 L213.9,938.4 L217.0,938.9 L220.0,938.7 L223.1,939.3 L226.1,939.4 L228.9,939.5 L231.6,939.9 L234.3,940.1 L237.1,940.6 L239.8,940.5 L242.5,940.9 L245.3,941.0 L248.0,941.3 L250.8,941.1 L253.5,940.6 L256.2,941.6 L259.0,941.9 L261.7,942.0 L264.4,941.7 L267.2,942.1 L269.9,941.7 L272.6,942.6 L275.4,942.5 L278.3,942.2 L281.2,942.0 L284.2,943.0 L287.1,943.2 L290.0,942.2 L293.0,943.1 L295.9,942.7 L298.8,942.1 L301.8,942.0 L304.7,942.4 L307.6,942.2 L310.6,941.0 L313.5,941.4 L316.4,940.5 L319.2,941.2 L321.9,940.6 L324.6,941.2 L327.4,941.2 L330.1,940.6 L332.8,941.1 L335.6,940.1 L338.3,939.8 L341.0,940.3 L343.8,939.6 L346.5,939.8 L349.3,940.0 L352.0,940.2 L354.7,939.6 L357.5,939.4 L360.2,940.4 L362.9,939.7 L365.7,940.4 L368.4,940.3 L371.1,939.6 L373.9,939.7 L376.6,939.7 L379.4,939.8 L382.1,939.7 L384.8,939.6 L387.6,939.7 L390.3,940.0 L393.0,939.4 L395.8,939.3 L398.5,939.6 L401.2,939.0 L404.0,939.0 L406.7,939.8 L409.5,939.2 L412.2,939.2 L414.9,938.5 L417.7,939.0 L420.4,939.1 L423.1,938.4 L426.0,939.1 L428.8,939.1 L431.7,938.3 L434.5,939.0 L437.3,938.7 L440.2,938.9 L443.0,938.5 L445.9,938.9 L448.7,938.9 L451.5,938.0 L454.4,938.0 L457.2,938.7 L460.1,939.0 L462.9,938.2 L465.8,938.6 L468.7,938.9 L471.6,938.7 L474.4,938.9 L477.3,939.0 L480.2,939.2 L483.1,939.6 L485.9,939.4 L488.8,939.7 L491.5,940.1 L494.3,939.1 L497.0,939.7 L499.7,939.9 L502.5,939.3 L505.2,939.2 L508.0,939.8 L510.7,939.1 L513.4,939.0 L516.2,939.2 L518.9,939.5 L521.6,938.7 L524.4,938.8 L527.1,938.7 L529.8,939.1 L532.6,938.5 L535.3,938.8 L538.0,937.9 L540.8,937.9 L543.5,938.1 L546.3,938.2 L549.0,937.6 L551.7,937.1 L554.5,936.8 L557.4,937.1 L560.3,936.4 L563.3,936.9 L566.2,936.7 L569.1,935.7 L572.1,935.6 L575.0,936.0 L577.7,935.9 L580.5,936.2 L583.2,935.7 L585.9,935.6 L588.7,935.9 L591.4,936.6 L594.5,936.6 L597.6,937.3 L600.6,938.1 L603.7,938.7 L606.6,938.6 L609.4,939.2 L612.2,938.2 L615.1,937.9 L617.9,939.0 L620.8,938.8 L623.6,938.9 L626.4,938.2 L629.3,938.7 L632.1,938.6 L635.0,937.7 L637.8,938.3 L640.7,938.3 L643.5,938.2 L646.4,938.0 L649.3,937.8 L652.1,937.9 L655.0,937.9 L657.9,937.7 L660.8,938.4 L663.6,938.1 L666.5,938.8 L669.4,938.0 L672.1,938.9 L674.9,938.6 L677.6,938.8 L680.3,938.7 L683.1,938.7 L685.8,938.2 L688.5,937.5 L691.3,938.3 L694.0,937.6 L696.7,937.7 L699.5,938.0 L702.2,937.8 L705.0,937.6 L707.7,938.2 L710.4,937.7 L713.2,937.4 L715.9,937.2 L718.6,937.9 L721.4,937.4 L724.1,937.7 L726.8,937.2 L729.6,937.0 L732.3,937.3 L735.0,937.6 L737.8,936.8 L740.5,937.5 L743.3,937.6 L746.0,937.4 L748.7,937.4 L751.5,936.4 L754.2,937.4 L756.9,938.0 L759.7,937.3 L762.4,937.8 L765.1,938.1 L767.9,938.6 L770.6,938.6 L773.4,938.7 L776.1,939.2 L778.8,938.4 L781.6,938.5 L784.3,938.7 L787.0,938.8 L789.8,938.8 L792.5,940.0 L795.2,939.8 L798.0,938.8 L800.7,939.2 L803.4,938.9 L806.2,938.8 L808.9,938.8 L811.7,939.1 L814.4,939.0 L817.1,938.6 L819.9,938.4 L822.6,938.5 L825.3,938.1 L828.1,938.8 L830.8,939.1 L833.5,938.9 L836.3,938.6 L839.0,938.9 L841.8,939.2 L844.5,939.7 L847.2,940.0 L850.0,939.7 L852.7,940.1 L855.4,939.9 L858.2,939.6 L860.9,939.5 L863.6,939.6 L866.4,939.8 L869.1,939.5 L871.9,939.8 L874.6,939.5 L877.3,939.2 L880.1,939.5 L882.8,939.6 L885.5,938.9 L888.3,939.2 L891.0,939.2 L893.7,939.7 L896.5,939.7 L899.2,939.0 L901.9,939.6 L904.7,939.4 L907.4,938.7 L910.2,938.9 L912.9,938.4 L915.6,939.2 L918.4,938.9 L921.1,939.0 L923.8,938.8 L926.6,938.5 L929.3,938.5 L932.0,938.2 L934.8,937.5 L937.5,937.9 L940.3,937.1 L943.0,937.2 L945.7,937.8 L948.5,936.8 L951.2,936.8 L953.9,936.6 L956.7,937.5 L959.4,936.5 L962.1,936.1 L964.9,937.0 L967.6,935.9 L970.4,936.7 L973.1,936.3 L975.8,936.4 L978.6,936.3 L981.3,935.7 L984.0,935.9 L986.8,934.8 L989.5,935.5 L992.3,935.1 L995.2,935.2 L998.0,934.3 L1000.8,935.0 L1003.7,935.1 L1006.5,933.9 L1009.4,934.1 L1012.2,934.3 L1015.0,934.4 L1017.9,933.6 L1020.7,933.4 L1023.2,936.7 L1025.6,941.1 L1028.9,941.4 L1032.2,941.1 L1035.5,941.2 L1038.8,941.4 L1041.5,941.1 L1044.2,941.0 L1047.0,940.3 L1049.7,940.6 L1052.4,941.0 L1055.2,940.1 L1057.9,940.2 L1060.6,939.3 L1063.4,939.7 L1066.3,939.5 L1069.2,939.2 L1072.2,938.7 L1075.1,938.4 L1078.0,938.3 L1081.0,938.3 L1083.9,937.2 L1086.6,936.8 L1089.4,937.3 L1092.1,937.2 L1094.8,936.4 L1097.6,936.0 L1100.3,935.8" fill="none" stroke="#0c4f9d" stroke-width="9.6" stroke-linejoin="round" stroke-linecap="round"/>
<rect x="94.90" y="603.30" width="1066.90" height="413.40" fill="none" stroke="#000" stroke-width="2.2"/>
<line x1="94.90" y1="603.50" x2="109.90" y2="603.50" stroke="#000" stroke-width="2.0"/>
<text transform="translate(82.30,610.80) scale(1,1.15)" font-size="22.7" text-anchor="end">0.3</text>
<line x1="94.90" y1="655.20" x2="102.90" y2="655.20" stroke="#000" stroke-width="2.0"/>
<line x1="94.90" y1="706.90" x2="109.90" y2="706.90" stroke="#000" stroke-width="2.0"/>
<text transform="translate(82.30,714.20) scale(1,1.15)" font-size="22.7" text-anchor="end">0.2</text>
<line x1="94.90" y1="758.60" x2="102.90" y2="758.60" stroke="#000" stroke-width="2.0"/>
<line x1="94.90" y1="810.30" x2="109.90" y2="810.30" stroke="#000" stroke-width="2.0"/>
<text transform="translate(82.30,817.60) scale(1,1.15)" font-size="22.7" text-anchor="end">0.1</text>
<line x1="94.90" y1="862.00" x2="102.90" y2="862.00" stroke="#000" stroke-width="2.0"/>
<line x1="94.90" y1="913.70" x2="109.90" y2="913.70" stroke="#000" stroke-width="2.0"/>
<text transform="translate(82.30,921.00) scale(1,1.15)" font-size="22.7" text-anchor="end">0.0</text>
<line x1="94.90" y1="965.40" x2="102.90" y2="965.40" stroke="#000" stroke-width="2.0"/>
<line x1="94.90" y1="1017.10" x2="109.90" y2="1017.10" stroke="#000" stroke-width="2.0"/>
<text transform="translate(82.30,1024.40) scale(1,1.15)" font-size="22.7" text-anchor="end">−0.1</text>
<line x1="94.80" y1="1016.70" x2="94.80" y2="1001.70" stroke="#000" stroke-width="2.0"/>
<text transform="translate(95.30,1049.40) scale(1,1.08)" font-size="23.2" text-anchor="middle">0</text>
<line x1="176.88" y1="1016.70" x2="176.88" y2="1008.90" stroke="#000" stroke-width="2.0"/>
<line x1="258.97" y1="1016.70" x2="258.97" y2="1001.70" stroke="#000" stroke-width="2.0"/>
<text transform="translate(259.47,1049.40) scale(1,1.08)" font-size="23.2" text-anchor="middle">20</text>
<line x1="341.05" y1="1016.70" x2="341.05" y2="1008.90" stroke="#000" stroke-width="2.0"/>
<line x1="423.13" y1="1016.70" x2="423.13" y2="1001.70" stroke="#000" stroke-width="2.0"/>
<text transform="translate(423.63,1049.40) scale(1,1.08)" font-size="23.2" text-anchor="middle">40</text>
<line x1="505.21" y1="1016.70" x2="505.21" y2="1008.90" stroke="#000" stroke-width="2.0"/>
<line x1="587.30" y1="1016.70" x2="587.30" y2="1001.70" stroke="#000" stroke-width="2.0"/>
<text transform="translate(587.80,1049.40) scale(1,1.08)" font-size="23.2" text-anchor="middle">60</text>
<line x1="669.38" y1="1016.70" x2="669.38" y2="1008.90" stroke="#000" stroke-width="2.0"/>
<line x1="751.46" y1="1016.70" x2="751.46" y2="1001.70" stroke="#000" stroke-width="2.0"/>
<text transform="translate(751.96,1049.40) scale(1,1.08)" font-size="23.2" text-anchor="middle">80</text>
<line x1="833.55" y1="1016.70" x2="833.55" y2="1008.90" stroke="#000" stroke-width="2.0"/>
<line x1="915.63" y1="1016.70" x2="915.63" y2="1001.70" stroke="#000" stroke-width="2.0"/>
<text transform="translate(916.13,1049.40) scale(1,1.08)" font-size="23.2" text-anchor="middle">100</text>
<line x1="997.71" y1="1016.70" x2="997.71" y2="1008.90" stroke="#000" stroke-width="2.0"/>
<line x1="1079.80" y1="1016.70" x2="1079.80" y2="1001.70" stroke="#000" stroke-width="2.0"/>
<text transform="translate(1080.30,1049.40) scale(1,1.08)" font-size="23.2" text-anchor="middle">120</text>
<text x="632.90" y="1078.40" font-size="26.4" text-anchor="middle">Time (h)</text>
<text transform="translate(37.40,800.60) rotate(-90)" font-size="26.4" text-anchor="middle"><tspan font-style="italic">j</tspan><tspan> (A cm</tspan><tspan dy="-10.56" font-size="17.95">-2</tspan><tspan dy="10.56">)</tspan></text>
<text x="148.00" y="920.60" font-size="23.7"><tspan>-0.7 V </tspan><tspan font-style="italic">vs.</tspan><tspan> RHE</tspan></text>
<path d="M489.2,662.3 L498.6,662.3 L493.9,677.2 Z" fill="#bcbcbc"/>
<path d="M523.6,662.3 L533.0,662.3 L528.3,677.2 Z" fill="#bcbcbc"/>
<path d="M559.9,662.3 L569.3,662.3 L564.6,677.2 Z" fill="#bcbcbc"/>
<path d="M599.8,662.3 L609.2,662.3 L604.5,677.2 Z" fill="#bcbcbc"/>
<path d="M638.3,662.3 L647.7,662.3 L643.0,677.2 Z" fill="#bcbcbc"/>
<path d="M674.8,662.3 L684.2,662.3 L679.5,677.2 Z" fill="#bcbcbc"/>
<path d="M708.9,662.3 L718.3,662.3 L713.6,677.2 Z" fill="#bcbcbc"/>
<path d="M743.7,662.3 L753.1,662.3 L748.4,677.2 Z" fill="#bcbcbc"/>
<path d="M782.9,662.3 L792.3,662.3 L787.6,677.2 Z" fill="#bcbcbc"/>
<path d="M820.9,662.3 L830.3,662.3 L825.6,677.2 Z" fill="#bcbcbc"/>
<path d="M857.1,662.3 L866.5,662.3 L861.8,677.2 Z" fill="#bcbcbc"/>
<path d="M894.3,662.3 L903.7,662.3 L899.0,677.2 Z" fill="#bcbcbc"/>
<path d="M933.5,662.3 L942.9,662.3 L938.2,677.2 Z" fill="#bcbcbc"/>
<path d="M971.4,662.3 L980.8,662.3 L976.1,677.2 Z" fill="#bcbcbc"/>
<path d="M1008.9,662.3 L1018.3,662.3 L1013.6,677.2 Z" fill="#bcbcbc"/>
<path d="M1043.1,662.3 L1052.5,662.3 L1047.8,677.2 Z" fill="#bcbcbc"/>
<path d="M459.6,731.0 L460.2,718.8 L461.5,715.0 L464.0,714.8 L466.0,713.9 L468.0,714.5 L470.0,714.2 L471.7,713.9 L473.3,714.7 L475.0,714.2 L476.7,714.8 L478.3,714.5 L480.0,714.6 L481.6,715.2 L483.3,715.8 L484.9,714.9 L486.6,715.1 L488.2,715.7 L489.9,716.2 L491.5,715.8 L493.2,715.6 L494.8,716.5 L497.0,715.6 L498.6,716.7 L500.2,715.8 L501.8,715.6 L503.4,715.5 L505.0,715.7 L506.7,716.5 L508.3,715.7 L510.0,716.3 L511.7,716.4 L513.3,716.1 L515.0,716.4 L516.8,716.0 L518.5,716.3 L520.2,716.9 L522.0,717.9 L523.7,717.8 L525.3,717.9 L527.0,718.6 L528.7,718.7 L530.3,718.8 L532.0,719.8 L533.6,719.8 L535.2,719.2 L536.9,719.7 L538.5,719.7 L540.1,720.3 L541.8,720.2 L543.4,719.6 L545.0,720.7 L546.7,719.4 L548.3,719.8 L550.0,720.2 L551.7,719.2 L553.3,719.7 L555.0,719.0 L556.7,719.6 L558.3,719.5 L560.0,719.0 L561.7,719.2 L563.3,718.2 L565.0,718.5 L567.1,717.9 L569.1,717.4 L571.2,716.8" fill="none" stroke="#e06767" stroke-width="4.2" stroke-linejoin="round"/>
<path d="M495.9,716.0 L495.9,731.0" fill="none" stroke="#e06767" stroke-width="4.2" stroke-linejoin="round"/>
<path d="M570.0,716.5 L570.6,711.3 L572.2,711.9 L573.8,712.1 L575.5,711.5 L577.1,711.8 L578.7,711.0 L580.3,711.9 L581.9,711.8 L583.5,712.4 L585.1,712.2 L586.8,711.4 L588.4,711.6 L590.0,712.0 L591.7,711.1 L593.3,711.8 L595.0,711.4 L596.7,711.3 L598.3,711.3 L600.0,712.3 L601.7,711.4 L603.3,711.6 L605.0,711.8 L606.7,712.5 L608.3,711.4 L610.0,711.9 L611.7,712.1 L613.3,712.6 L615.0,712.5 L616.7,712.6 L618.3,711.8 L620.0,712.0 L621.7,711.9 L623.3,712.7 L625.0,712.8 L626.7,711.7 L628.3,711.7 L630.0,711.8 L631.7,711.9 L633.3,712.2 L635.0,712.4 L636.7,712.0 L638.3,711.7 L640.0,712.3 L641.7,712.3 L643.3,712.6 L645.0,713.1 L646.7,712.8 L648.3,712.6 L650.0,712.8 L651.7,712.9 L653.3,712.0 L655.0,713.2 L656.7,713.1 L658.3,713.2 L660.0,713.2 L661.7,712.6 L663.3,712.6 L665.0,712.2 L666.6,713.0 L668.3,712.2 L669.9,712.3 L671.6,712.5 L673.2,712.4 L674.9,712.7 L676.5,712.3 L678.2,712.3 L679.8,713.0 L680.4,714.5 L682.0,714.5 L683.7,714.8 L685.3,714.4 L686.9,715.6 L688.6,715.2 L690.2,714.6 L691.8,714.8 L693.5,714.9 L695.1,715.0 L696.7,714.6 L698.4,715.7 L700.0,715.9 L701.6,715.1 L703.3,715.1 L704.9,714.6 L706.5,714.6 L708.2,714.9 L709.8,714.8 L711.4,715.5 L713.1,714.6 L714.7,714.4 L716.3,715.7 L718.0,715.1 L719.6,715.0" fill="none" stroke="#e06767" stroke-width="4.2" stroke-linejoin="round"/>
<path d="M717.5,706.3 L719.1,706.9 L720.7,706.3 L722.3,707.1 L723.9,707.8 L725.5,707.7 L727.1,707.5 L728.8,707.0 L730.4,707.2 L732.0,707.0 L733.6,707.9 L735.2,707.6 L736.8,708.0 L738.4,707.5 L740.0,707.4 L741.7,708.3 L743.3,708.6 L745.0,708.5 L746.7,708.5 L748.3,708.5 L750.0,708.5 L751.7,707.8 L753.3,708.3 L755.0,708.1 L756.7,707.7 L758.3,707.8 L760.0,708.2 L761.7,708.3 L763.3,709.0 L765.0,709.5 L766.7,708.9 L768.3,709.7 L770.0,709.9 L771.7,710.0 L773.3,709.3 L775.0,709.2 L776.6,709.4 L778.2,709.5 L779.8,709.7 L781.4,710.5 L783.1,711.0 L784.7,711.1 L786.3,710.8 L787.9,711.2 L789.5,711.6 L791.0,708.6 L791.5,706.0 L793.2,706.9 L794.9,707.2 L796.5,707.1 L798.2,707.1 L799.9,706.8 L801.6,706.4 L803.3,707.3 L805.0,706.7 L806.6,707.3 L808.3,707.6 L810.0,706.9 L811.6,706.9 L813.2,707.6 L814.8,707.3 L816.4,706.5 L818.0,706.5 L819.6,706.5 L821.2,707.6 L822.8,707.4 L824.4,706.5 L826.0,707.5 L828.0,709.7 L831.0,708.2 L832.7,707.7 L834.5,707.9 L836.2,707.3 L837.9,707.0 L839.6,708.3 L841.4,707.8 L843.1,707.5 L844.8,708.0 L846.5,707.3 L848.3,707.8 L850.0,707.7 L851.6,706.7 L853.3,706.6 L855.0,706.6 L856.6,706.4 L858.2,706.7 L859.9,706.1 L861.5,706.2 L863.2,705.7 L864.9,706.7 L866.5,706.0" fill="none" stroke="#e06767" stroke-width="4.2" stroke-linejoin="round"/>
<path d="M865.8,699.6 L867.4,699.8 L869.0,700.0 L870.6,700.5 L872.2,699.8 L873.8,700.6 L875.4,700.0 L877.0,700.1 L878.6,700.1 L880.2,699.4 L881.8,700.0 L883.4,699.7 L885.0,699.5 L886.7,700.7 L888.3,699.8 L890.0,700.3 L891.7,700.6 L893.3,700.4 L895.0,700.2 L896.7,700.5 L898.3,700.5 L900.0,700.9 L901.7,700.0 L903.3,700.7 L905.0,700.2 L906.7,700.3 L908.3,700.9 L910.0,700.5 L911.7,700.6 L913.3,700.8 L915.0,701.0 L916.7,700.3 L918.3,700.5 L920.0,700.3 L921.7,700.3 L923.3,700.5 L925.0,700.1 L926.7,700.2 L928.3,700.2 L930.0,700.8 L931.6,700.5 L933.3,700.7 L935.0,700.8 L936.6,699.9 L938.3,700.3 L939.5,703.6 L941.2,703.5 L942.9,702.5 L944.6,702.5 L946.3,703.0 L948.0,702.5 L949.8,702.7 L951.5,702.5 L953.2,703.4 L954.9,703.5 L956.6,703.7 L958.3,702.7 L960.0,703.5 L961.7,703.4 L963.3,702.6 L965.0,703.7 L966.7,703.7 L968.3,702.7 L970.0,703.7 L971.7,702.9 L973.3,703.0 L975.0,703.6 L976.7,703.4 L978.3,702.4 L980.0,702.8 L981.7,702.9 L983.3,702.6 L985.0,702.4 L986.6,702.5 L988.2,703.1 L989.9,702.1 L991.5,702.8 L993.1,702.7 L994.7,702.1 L996.3,702.5 L997.9,702.9 L999.6,702.7 L1001.2,702.1 L1002.8,703.3 L1004.4,703.1 L1006.0,703.3 L1007.6,702.1 L1009.3,702.3 L1010.9,702.0 L1012.5,703.0 L1015.0,704.3 L1016.7,704.3 L1018.3,704.9 L1020.0,705.8 L1021.7,705.9 L1023.3,705.3 L1025.0,705.4 L1026.7,706.7 L1028.3,706.4 L1030.0,706.8 L1031.6,706.0 L1033.2,706.1 L1034.8,707.1 L1036.4,706.8 L1038.0,706.5 L1039.6,707.8 L1041.2,707.5 L1042.8,707.8 L1044.4,706.9 L1046.0,708.1 L1048.0,705.8 L1050.0,705.7 L1051.7,705.1 L1053.3,704.8 L1055.0,705.1 L1056.7,705.5 L1058.3,704.5 L1060.0,704.3 L1061.7,704.8 L1063.3,704.3 L1065.0,704.1 L1066.6,704.0 L1068.2,703.8 L1069.8,703.9 L1071.5,704.0 L1073.1,703.9 L1074.7,704.4 L1076.3,703.7 L1077.9,703.9 L1079.5,703.3 L1081.2,703.5 L1082.8,702.9 L1084.4,703.1 L1086.0,703.4" fill="none" stroke="#e06767" stroke-width="4.2" stroke-linejoin="round"/>
<rect x="491.50" y="763.10" width="7.80" height="7.80" fill="#0f55a3"/>
<rect x="528.60" y="748.10" width="7.80" height="7.80" fill="#0f55a3"/>
<rect x="565.40" y="755.10" width="7.80" height="7.80" fill="#0f55a3"/>
<rect x="602.10" y="767.90" width="7.80" height="7.80" fill="#0f55a3"/>
<rect x="639.10" y="764.10" width="7.80" height="7.80" fill="#0f55a3"/>
<rect x="676.10" y="785.60" width="7.80" height="7.80" fill="#0f55a3"/>
<rect x="712.80" y="755.10" width="7.80" height="7.80" fill="#0f55a3"/>
<rect x="749.80" y="772.80" width="7.80" height="7.80" fill="#0f55a3"/>
<rect x="786.70" y="769.50" width="7.80" height="7.80" fill="#0f55a3"/>
<rect x="823.50" y="758.00" width="7.80" height="7.80" fill="#0f55a3"/>
<rect x="860.30" y="777.00" width="7.80" height="7.80" fill="#0f55a3"/>
<rect x="897.10" y="763.10" width="7.80" height="7.80" fill="#0f55a3"/>
<rect x="933.90" y="770.60" width="7.80" height="7.80" fill="#0f55a3"/>
<rect x="971.10" y="780.50" width="7.80" height="7.80" fill="#0f55a3"/>
<rect x="1007.90" y="779.10" width="7.80" height="7.80" fill="#0f55a3"/>
<rect x="1044.80" y="787.80" width="7.80" height="7.80" fill="#0f55a3"/>
<rect x="459.5" y="620.2" width="626.8" height="258.1" fill="none" stroke="#000" stroke-width="1.2"/>
<line x1="459.50" y1="620.20" x2="470.10" y2="620.20" stroke="#000" stroke-width="1.2"/>
<text x="452.50" y="625.50" font-size="14.6" text-anchor="end">0</text>
<line x1="459.50" y1="646.01" x2="465.20" y2="646.01" stroke="#000" stroke-width="1.2"/>
<line x1="459.50" y1="671.82" x2="470.10" y2="671.82" stroke="#000" stroke-width="1.2"/>
<text x="452.50" y="677.12" font-size="14.6" text-anchor="end">−20</text>
<line x1="459.50" y1="697.63" x2="465.20" y2="697.63" stroke="#000" stroke-width="1.2"/>
<line x1="459.50" y1="723.44" x2="470.10" y2="723.44" stroke="#000" stroke-width="1.2"/>
<text x="452.50" y="728.74" font-size="14.6" text-anchor="end">−40</text>
<line x1="459.50" y1="749.25" x2="465.20" y2="749.25" stroke="#000" stroke-width="1.2"/>
<line x1="459.50" y1="775.06" x2="470.10" y2="775.06" stroke="#000" stroke-width="1.2"/>
<text x="452.50" y="780.36" font-size="14.6" text-anchor="end">−60</text>
<line x1="459.50" y1="800.87" x2="465.20" y2="800.87" stroke="#000" stroke-width="1.2"/>
<line x1="459.50" y1="826.68" x2="470.10" y2="826.68" stroke="#000" stroke-width="1.2"/>
<text x="452.50" y="831.98" font-size="14.6" text-anchor="end">−80</text>
<line x1="459.50" y1="852.49" x2="465.20" y2="852.49" stroke="#000" stroke-width="1.2"/>
<line x1="459.50" y1="878.30" x2="470.10" y2="878.30" stroke="#000" stroke-width="1.2"/>
<text x="452.50" y="883.60" font-size="14.6" text-anchor="end">−100</text>
<line x1="459.50" y1="878.30" x2="459.50" y2="868.30" stroke="#000" stroke-width="1.2"/>
<text x="459.80" y="902.40" font-size="14.6" text-anchor="middle">0</text>
<line x1="510.73" y1="878.30" x2="510.73" y2="872.80" stroke="#000" stroke-width="1.2"/>
<line x1="561.95" y1="878.30" x2="561.95" y2="868.30" stroke="#000" stroke-width="1.2"/>
<text x="562.25" y="902.40" font-size="14.6" text-anchor="middle">5000</text>
<line x1="613.17" y1="878.30" x2="613.17" y2="872.80" stroke="#000" stroke-width="1.2"/>
<line x1="664.40" y1="878.30" x2="664.40" y2="868.30" stroke="#000" stroke-width="1.2"/>
<text x="664.70" y="902.40" font-size="14.6" text-anchor="middle">10000</text>
<line x1="715.62" y1="878.30" x2="715.62" y2="872.80" stroke="#000" stroke-width="1.2"/>
<line x1="766.85" y1="878.30" x2="766.85" y2="868.30" stroke="#000" stroke-width="1.2"/>
<text x="767.15" y="902.40" font-size="14.6" text-anchor="middle">15000</text>
<line x1="818.08" y1="878.30" x2="818.08" y2="872.80" stroke="#000" stroke-width="1.2"/>
<line x1="869.30" y1="878.30" x2="869.30" y2="868.30" stroke="#000" stroke-width="1.2"/>
<text x="869.60" y="902.40" font-size="14.6" text-anchor="middle">20000</text>
<line x1="920.53" y1="878.30" x2="920.53" y2="872.80" stroke="#000" stroke-width="1.2"/>
<line x1="971.75" y1="878.30" x2="971.75" y2="868.30" stroke="#000" stroke-width="1.2"/>
<text x="972.05" y="902.40" font-size="14.6" text-anchor="middle">25000</text>
<line x1="1022.98" y1="878.30" x2="1022.98" y2="872.80" stroke="#000" stroke-width="1.2"/>
<line x1="1074.20" y1="878.30" x2="1074.20" y2="868.30" stroke="#000" stroke-width="1.2"/>
<text x="1074.50" y="902.40" font-size="14.6" text-anchor="middle">30000</text>
<line x1="1086.30" y1="878.30" x2="1077.50" y2="878.30" stroke="#000" stroke-width="1.2"/>
<text x="1089.80" y="888.70" font-size="14.6" fill="#1a5fa8">0</text>
<line x1="1086.30" y1="856.79" x2="1081.70" y2="856.79" stroke="#000" stroke-width="1.2"/>
<line x1="1086.30" y1="835.28" x2="1077.50" y2="835.28" stroke="#000" stroke-width="1.2"/>
<text x="1089.80" y="845.68" font-size="14.6" fill="#1a5fa8">5</text>
<line x1="1086.30" y1="813.77" x2="1081.70" y2="813.77" stroke="#000" stroke-width="1.2"/>
<line x1="1086.30" y1="792.27" x2="1077.50" y2="792.27" stroke="#000" stroke-width="1.2"/>
<text x="1089.80" y="802.67" font-size="14.6" fill="#1a5fa8">10</text>
<line x1="1086.30" y1="770.76" x2="1081.70" y2="770.76" stroke="#000" stroke-width="1.2"/>
<line x1="1086.30" y1="749.25" x2="1077.50" y2="749.25" stroke="#000" stroke-width="1.2"/>
<text x="1089.80" y="759.65" font-size="14.6" fill="#1a5fa8">15</text>
<line x1="1086.30" y1="727.74" x2="1081.70" y2="727.74" stroke="#000" stroke-width="1.2"/>
<line x1="1086.30" y1="706.23" x2="1077.50" y2="706.23" stroke="#000" stroke-width="1.2"/>
<text x="1089.80" y="716.63" font-size="14.6" fill="#1a5fa8">20</text>
<line x1="1086.30" y1="684.73" x2="1081.70" y2="684.73" stroke="#000" stroke-width="1.2"/>
<line x1="1086.30" y1="663.22" x2="1077.50" y2="663.22" stroke="#000" stroke-width="1.2"/>
<text x="1089.80" y="673.62" font-size="14.6" fill="#1a5fa8">25</text>
<line x1="1086.30" y1="641.71" x2="1081.70" y2="641.71" stroke="#000" stroke-width="1.2"/>
<line x1="1086.30" y1="620.20" x2="1077.50" y2="620.20" stroke="#000" stroke-width="1.2"/>
<text x="1089.80" y="630.60" font-size="14.6" fill="#1a5fa8">30</text>
<text x="767.00" y="919.90" font-size="16.3" text-anchor="middle">Time (s)</text>
<text transform="translate(426.00,754.20) rotate(-90)" font-size="16.3" text-anchor="middle"><tspan font-style="italic">j</tspan><tspan> (mA cm</tspan><tspan dy="-6.52" font-size="11.08">-2</tspan><tspan dy="6.52">)</tspan></text>
<text transform="translate(1123.00,752.50) rotate(-90)" font-size="16.2" text-anchor="middle" fill="#1a5fa8"><tspan>FE</tspan><tspan dy="4.86" font-size="11.02">Urea</tspan><tspan dy="-4.86"> (%)</tspan></text>
<text x="486.00" y="645.20" font-size="16.2">Refresh electrolyte</text>
<text x="538.60" y="807.30" font-size="23.7" fill="#3773af">Cathode:</text>
<text x="538.80" y="835.70" font-size="23.0" fill="#3773af"><tspan>CO</tspan><tspan dy="6.90" font-size="15.64">2</tspan><tspan dy="-6.90">+2NO</tspan><tspan dy="6.90" font-size="15.64">3</tspan><tspan dy="-16.10" font-size="15.64">−</tspan><tspan dy="9.20">+18H</tspan><tspan dy="-9.20" font-size="15.64">+</tspan><tspan dy="9.20">+16e</tspan><tspan dy="-9.20" font-size="15.64">−</tspan><tspan dy="9.20" font-family="DejaVu Sans" font-size="17.5">⟶</tspan><tspan>CO(NH</tspan><tspan dy="6.90" font-size="15.64">2</tspan><tspan dy="-6.90">)</tspan><tspan dy="6.90" font-size="15.64">2</tspan><tspan dy="-6.90">+7H</tspan><tspan dy="6.90" font-size="15.64">2</tspan><tspan dy="-6.90">O</tspan></text>
<text x="1190.50" y="578.30" font-size="44">e</text>
<path d="M1306,585.2 L1735,585.2 A78,27 0 0 1 1813,612 L1813,716 A75,28 0 0 1 1738,744 L1310,744 A93,37 0 0 1 1217,707 L1217,607 A89,22 0 0 1 1306,585.2 Z" fill="none" stroke="#000" stroke-width="2.2" stroke-dasharray="8,15.5"/>
<g clip-path="url(#phclip)"><g filter="url(#pblur)">
<rect x="1241.00" y="602.00" width="303.80" height="129.70" fill="#1c1a18"/>
<rect x="1241.00" y="602.00" width="35.00" height="129.70" fill="#4e4e4e"/>
<rect x="1241.00" y="700.00" width="28.00" height="32.00" fill="#8e8e8c"/>
<rect x="1241.00" y="602.00" width="35.00" height="129.70" fill="#000" filter="url(#fabric)" opacity="0.5"/>
<rect x="1276.00" y="602.00" width="13.00" height="60.00" fill="#2a2a2a"/>
<rect x="1289.40" y="602.00" width="12.30" height="53.00" fill="url(#lg5)"/>
<path d="M1329,732.7 L1329,640 L1336,617.6 L1505,619.6 Q1521.5,620 1521.5,632 L1522,732.7 Z" fill="url(#lg6)"/>
<path d="M1329,732.7 L1329,640 L1336,617.6 L1505,619.6 Q1521.5,620 1521.5,632 L1522,732.7 Z" fill="#000" filter="url(#fabric)" opacity="0.5"/>
<path d="M1542,651 Q1526,662 1528,676 Q1531,690 1542,695" fill="none" stroke="#a6a6a6" stroke-width="2.2"/>
<circle cx="1540" cy="672" r="6" fill="#8a8a8a"/>
<rect x="1326.00" y="638.00" width="21.00" height="8.00" fill="#1e1c1a"/>
<rect x="1326.00" y="682.50" width="21.00" height="5.00" fill="#1e1c1a"/>
<rect x="1346.00" y="636.50" width="96.50" height="20.50" fill="url(#lg7)"/>
<rect x="1346.00" y="683.00" width="97.80" height="25.00" fill="url(#lg7)"/>
<rect x="1302.6" y="645.0" width="44.5" height="10.6" rx="2" fill="#c6b395"/>
<rect x="1302.6" y="651.6" width="44.5" height="4.0" fill="#9c8b70" opacity="0.55"/>
<rect x="1330.2" y="645.0" width="2.2" height="10.6" fill="#8a7a60" opacity="0.6"/>
<rect x="1443.8" y="645.3" width="39.2" height="11.9" rx="2" fill="#c6b395"/>
<rect x="1443.8" y="652.7" width="39.2" height="4.5" fill="#9c8b70" opacity="0.55"/>
<rect x="1468.1" y="645.3" width="2.2" height="11.9" fill="#8a7a60" opacity="0.6"/>
<rect x="1475.4" y="665.3" width="28.2" height="13.7" rx="2" fill="#c6b395"/>
<rect x="1475.4" y="673.8" width="28.2" height="5.2" fill="#9c8b70" opacity="0.55"/>
<rect x="1492.9" y="665.3" width="2.2" height="13.7" fill="#8a7a60" opacity="0.6"/>
<rect x="1300.8" y="686.0" width="45.0" height="11.0" rx="2" fill="#c6b395"/>
<rect x="1300.8" y="692.8" width="45.0" height="4.2" fill="#9c8b70" opacity="0.55"/>
<rect x="1328.7" y="686.0" width="2.2" height="11.0" fill="#8a7a60" opacity="0.6"/>
<rect x="1445.5" y="687.1" width="39.3" height="13.7" rx="2" fill="#c6b395"/>
<rect x="1445.5" y="695.6" width="39.3" height="5.2" fill="#9c8b70" opacity="0.55"/>
<rect x="1469.9" y="687.1" width="2.2" height="13.7" fill="#8a7a60" opacity="0.6"/>
<rect x="1270.9" y="664.4" width="36.1" height="10.6" rx="2" fill="#c6b395"/>
<rect x="1270.9" y="671.0" width="36.1" height="4.0" fill="#9c8b70" opacity="0.55"/>
<rect x="1293.3" y="664.4" width="2.2" height="10.6" fill="#8a7a60" opacity="0.6"/>
<g transform="rotate(0 1271.3 656.5)"><rect x="1252.3" y="647.6" width="38.0" height="17.7" rx="4" fill="#c8c8c6"/><rect x="1252.3" y="659.1" width="38.0" height="6.2" rx="3" fill="#a2a2a0" opacity="0.7"/><rect x="1269.4" y="649.6" width="3.8" height="13.7" fill="#b0b0ae"/></g>
<g transform="rotate(9 1509.6 657.5)"><rect x="1488.2" y="649.0" width="42.7" height="17.0" rx="4" fill="#c8c8c6"/><rect x="1488.2" y="660.0" width="42.7" height="5.9" rx="3" fill="#a2a2a0" opacity="0.7"/><rect x="1507.4" y="651.0" width="4.3" height="13.0" fill="#b0b0ae"/></g>
<g transform="rotate(0 1515.5 697.3)"><rect x="1493.3" y="688.8" width="44.4" height="17.1" rx="4" fill="#c8c8c6"/><rect x="1493.3" y="699.9" width="44.4" height="6.0" rx="3" fill="#a2a2a0" opacity="0.7"/><rect x="1513.3" y="690.8" width="4.4" height="13.1" fill="#b0b0ae"/></g>
<rect x="1307.00" y="656.50" width="168.40" height="26.80" fill="url(#lg8)"/>
<path d="M1243,671 Q1262,668 1271,669" stroke="#6f9bd0" stroke-width="1.6" fill="none"/>
<path d="M1236,712 C1258,703 1285,692 1303,680 C1315,672 1325,666 1334,663" fill="none" stroke="#bdbdbb" stroke-width="18" stroke-linecap="round"/>
<path d="M1236,707 C1258,698 1285,687 1303,675 C1315,667 1324,662 1332,659" fill="none" stroke="#cfcfcd" stroke-width="6" stroke-linecap="round" opacity="0.8"/>
<circle cx="1335.5" cy="668" r="10.6" fill="#b8ab92"/><circle cx="1335.2" cy="667.8" r="9" fill="#e8e4de"/><circle cx="1333" cy="665.5" r="5" fill="#b0aca4"/>
<path d="M1243,643.5 L1309,633.5" stroke="#eeeeee" stroke-width="2.8"/>
<path d="M1279.7,699.6 L1309,701.4" stroke="#eeeeee" stroke-width="2.8"/>
<path d="M1308,629.5 L1322,624.5 L1340,622.2 L1366,622.8 L1369,627 L1369,636 L1366,638.8 L1340,640.6 L1322,640.2 L1308,638.8 Z" fill="#33b37f"/>
<path d="M1325,625.5 L1366,624.5 L1367,630 L1330,631 Z" fill="#62d3a4" opacity="0.6"/>
<path d="M1308,697.5 L1322,695 L1345,694.6 L1369,697 L1371,703 L1370,712 L1366,715.2 L1340,714.6 L1322,708 L1308,703.5 Z" fill="#bf1f24"/>
<path d="M1328,696.5 L1366,698.5 L1367,703 L1332,701 Z" fill="#e0524f" opacity="0.6"/>
<path d="M1368.7,625.6 L1390,627.5 L1392.6,633 L1388,637 L1368.7,636.5 Z" fill="#9c9c9a"/>
<path d="M1371,628 L1388,629.5" stroke="#f0f0f0" stroke-width="1.4"/><path d="M1372,634 L1386,634.5" stroke="#3a3a3a" stroke-width="1.4"/>
<path d="M1370.5,703 L1395,705 L1398,711 L1393,715 L1370.5,714 Z" fill="#9c9c9a"/>
<path d="M1373,705.5 L1392,707" stroke="#f0f0f0" stroke-width="1.4"/><path d="M1374,711.5 L1390,712" stroke="#3a3a3a" stroke-width="1.4"/>
<path d="M1424,708 L1432,707.5 L1433,713 L1425,713.5 Z" fill="#e6e6e6"/><path d="M1438,710 L1447,710 L1447,715 L1438,715 Z" fill="#dedede"/>
</g></g>
<line x1="1608.6" y1="615.0" x2="1562.7" y2="634.5" stroke="#e02424" stroke-width="2.2"/>
<path d="M1552.6,638.8 L1561.7,629.5 L1565.6,638.7 Z" fill="#e02424"/>
<line x1="1584.0" y1="668.0" x2="1562.0" y2="668.0" stroke="#2a39a6" stroke-width="2.2"/>
<path d="M1551.0,668.0 L1563.0,663.0 L1563.0,673.0 Z" fill="#2a39a6"/>
<line x1="1608.6" y1="718.2" x2="1563.0" y2="702.6" stroke="#000" stroke-width="2.2"/>
<path d="M1552.6,699.0 L1565.6,698.2 L1562.3,707.6 Z" fill="#000"/>
<text x="1622.40" y="626.30" font-size="27.6" fill="#e02424"><tspan>CO</tspan><tspan dy="8.28" font-size="18.77">2</tspan><tspan dy="-8.28"> in</tspan></text>
<text x="1593.00" y="677.40" font-size="27.6" fill="#2a39a6"><tspan>KNO</tspan><tspan dy="8.28" font-size="18.77">3</tspan><tspan dy="-8.28"> catholyte in</tspan></text>
<text x="1620.00" y="727.20" font-size="27.6">Anolyte in</text>
<path d="M1224,829 L1242,828.7 L1244,1052 L1250,1057 L1232,1057 Q1219,1053 1216,1040 L1211.5,850 Q1212,831 1224,829 Z" fill="url(#lg9)"/>
<path d="M1241,828.7 L1334,833.5 Q1342.5,834.5 1343,843 L1346,1004 Q1346,1012 1339,1015.5 L1251,1055 Q1243,1058 1241.5,1049 L1232.5,841 Q1232.5,829 1241,828.7 Z" fill="url(#lg10)"/>
<path d="M1250.7,855 L1334.5,855 L1338.5,1000.4 L1256.3,1029.2 Z" fill="#d9d9d9" stroke="#e6e6e6" stroke-width="1.2"/>
<path d="M1346.5,866.5 L1351.5,865.5 L1351.5,877.5 L1346.5,878.5 Z" fill="#cfcfcf"/>
<path d="M1346.5,874.3 L1351.5,873.3 L1351.5,877.5 L1346.5,878.5 Z" fill="#a8a8a8"/>
<ellipse cx="1346.5" cy="872.5" rx="3.0" ry="6.0" fill="#dadada" stroke="#9a9a9a" stroke-width="0.8"/>
<ellipse cx="1346.9" cy="872.5" rx="1.8" ry="3.7" fill="#8c8c8c"/>
<path d="M1320.0,875.5 L1279.0,881.0 M1279.0,893.0 L1312.5,889.0 M1312.5,901.0 L1279.0,906.0 M1279.0,919.0 L1312.5,916.0 M1312.5,927.0 L1279.0,932.0 M1279.0,944.0 L1312.5,939.0 M1312.5,950.0 L1279.0,956.0 M1279.0,970.0 L1312.5,965.0 M1312.5,976.0 L1273.0,985.5" fill="none" stroke="#555" stroke-width="6" opacity="0.2" transform="translate(3,5)" filter="url(#blur2)"/>
<path d="M1320.0,875.5 L1279.0,881.0 M1279.0,893.0 L1312.5,889.0 M1312.5,901.0 L1279.0,906.0 M1279.0,919.0 L1312.5,916.0 M1312.5,927.0 L1279.0,932.0 M1279.0,944.0 L1312.5,939.0 M1312.5,950.0 L1279.0,956.0 M1279.0,970.0 L1312.5,965.0 M1312.5,976.0 L1273.0,985.5" fill="none" stroke="#173f86" stroke-width="4.3" stroke-linecap="round" transform="translate(0.4,1.1)"/>
<path d="M1320.0,875.5 L1279.0,881.0 M1279.0,893.0 L1312.5,889.0 M1312.5,901.0 L1279.0,906.0 M1279.0,919.0 L1312.5,916.0 M1312.5,927.0 L1279.0,932.0 M1279.0,944.0 L1312.5,939.0 M1312.5,950.0 L1279.0,956.0 M1279.0,970.0 L1312.5,965.0 M1312.5,976.0 L1273.0,985.5" fill="none" stroke="#3b7fd5" stroke-width="3.0" stroke-linecap="round"/>
<rect x="1272.0" y="879.2" width="12.0" height="15.6" rx="5" fill="url(#bendL)"/>
<rect x="1307.5" y="887.2" width="12.0" height="15.6" rx="5" fill="url(#bendR)"/>
<rect x="1272.0" y="904.2" width="12.0" height="16.6" rx="5" fill="url(#bendL)"/>
<rect x="1307.5" y="914.2" width="12.0" height="14.6" rx="5" fill="url(#bendR)"/>
<rect x="1272.0" y="930.2" width="12.0" height="15.6" rx="5" fill="url(#bendL)"/>
<rect x="1307.5" y="937.2" width="12.0" height="14.6" rx="5" fill="url(#bendR)"/>
<rect x="1272.0" y="954.2" width="12.0" height="17.6" rx="5" fill="url(#bendL)"/>
<rect x="1307.5" y="963.2" width="12.0" height="14.6" rx="5" fill="url(#bendR)"/>
<path d="M1203,984 L1233,979 L1234,998 L1204,1004 Z" fill="#d4d4d4"/>
<path d="M1203,996 L1233,991 L1234,998 L1204,1004 Z" fill="#a4a4a4"/>
<ellipse cx="1204" cy="994" rx="6.6" ry="9.6" fill="#e2e2e2" stroke="#8a8a8a" stroke-width="0.9"/><ellipse cx="1204.6" cy="994" rx="4.0" ry="6.2" fill="#929292"/>
<line x1="1280.2" y1="864.7" x2="1322.1" y2="860.8" stroke="#000" stroke-width="1.8"/>
<path d="M1332.1,859.9 L1321.6,865.5 L1320.7,856.3 Z" fill="#000"/>
<line x1="1202.8" y1="1023.6" x2="1244.2" y2="1013.9" stroke="#000" stroke-width="1.8"/>
<path d="M1253.9,1011.6 L1244.2,1018.6 L1242.1,1009.6 Z" fill="#000"/>
<path d="M1365.7,880.6 L1415.2,877.5 L1416,981.3 L1366.5,998 Z" fill="url(#lg11)"/>
<path d="M1365.7,880.6 L1367.4,880.5 L1368,997.4 L1366.5,998 Z" fill="#5a1020"/>
<rect x="1352.1" y="856.7" width="79" height="151.7" rx="13" fill="none" stroke="#e23b33" stroke-width="2.1" stroke-dasharray="7,5"/>
<path d="M1458,822 L1474,821 L1476,1069 L1471.5,1071 Q1460,1068 1456,1058 L1452.5,836 Q1452.5,823 1458,822 Z" fill="url(#lg12)"/>
<rect x="1490.30" y="804.00" width="11.50" height="20.00" fill="url(#lg13)"/>
<path d="M1476,820.8 L1521,825.5 Q1532.9,827 1532.9,839 L1532.9,1018 Q1532.5,1029 1522,1035.4 L1480,1067 Q1471,1073 1470.5,1062 L1468.1,831 Q1468,821 1476,820.8 Z" fill="url(#lg14)"/>
<path d="M1498,871.3 L1516,871.3 Q1522.2,871.3 1522.2,879 L1522.2,966 L1500,985 Q1491.2,991 1491.2,980 L1491.2,879 Q1491.2,871.3 1498,871.3 Z" fill="#ffffff"/>
<path d="M1508,871.3 L1516,871.3 Q1522.2,871.3 1522.2,879 L1522.2,966 L1515,972 L1515,885 Q1514,876 1508,876 Z" fill="#b3ad9b"/>
<path d="M1506,871.3 L1516,871.3 Q1522.2,871.3 1522.2,879 L1522.2,885 Q1520,876 1510,875.5 Z" fill="#2f2c26"/>
<path d="M1491.2,975 L1515,958 L1522.2,960 L1522.2,966 L1500,985 Q1491.2,991 1491.2,980 Z" fill="#c8c2b0"/>
<path d="M1490.3,871.3 L1501.8,871.3 L1501.8,926 Q1501.8,931 1496,931 Q1490.3,931 1490.3,926 Z" fill="url(#lg13)"/>
<path d="M1490.3,914 L1501.8,914 L1501.8,926 Q1501.8,931 1496,931 Q1490.3,931 1490.3,926 Z" fill="#cfcfcf"/>
<ellipse cx="1511" cy="968" rx="5.5" ry="5.2" fill="#d6d6d6" stroke="#8e8e8e" stroke-width="0.8"/><path d="M1511,962.8 L1524,965 L1524,971 L1511,973.2 Z" fill="#c8c8c8"/>
<path d="M1530,956 L1544,949 Q1548,951 1546,959 L1532,966 Z" fill="#d2d2d2"/>
<path d="M1446,889 L1467,886 L1467,906 L1446,907 Z" fill="#cfcfcf"/>
<ellipse cx="1446.5" cy="897.5" rx="7.5" ry="9.6" fill="#dcdcdc" stroke="#9a9a9a" stroke-width="0.9"/><ellipse cx="1447.2" cy="897.5" rx="4.6" ry="6.2" fill="#9c9c9c"/>
<line x1="1480.5" y1="874.9" x2="1441.7" y2="880.6" stroke="#000" stroke-width="1.8"/>
<path d="M1431.8,882.0 L1442.0,875.9 L1443.3,885.0 Z" fill="#000"/>
<line x1="1546.2" y1="984.9" x2="1524.5" y2="998.3" stroke="#000" stroke-width="1.8"/>
<path d="M1516.0,1003.5 L1523.0,993.8 L1527.8,1001.6 Z" fill="#000"/>
<path d="M1571,850.1 L1614.8,850.1 L1612.7,994.6 L1569.2,1037.2 Z" fill="url(#lg15)"/>
<path d="M1571,850.1 L1572.6,850.1 L1570.8,1035.8 L1569.2,1037.2 Z" fill="#8fb1b7"/>
<path d="M1612.7,994.6 L1569.2,1037.2" stroke="#e6f4f6" stroke-width="1.2"/>
<path d="M1645.5,890 L1662.7,885.5 L1660.6,995.5 L1642.8,1015 Z" fill="#d3d3d3"/>
<path d="M1645.5,890 L1648.5,889.3 L1646,1011.8 L1642.8,1015 Z" fill="#e6e6e6"/>
<path d="M1756,828.3 L1776,829 Q1788,832 1788.9,850 L1788,1080 Q1786,1095 1772,1096.5 L1754,1094 Z" fill="url(#lg16)"/>
<path d="M1701,833.3 L1757,828.3 Q1766.7,828 1766.7,840 L1766.7,1084 Q1766,1097 1756,1093 L1696,1046 Q1686.3,1038 1686.3,1027 L1687.3,847 Q1688,834 1701,833.3 Z" fill="url(#lg17)"/>
<path d="M1712,900 L1738,900 L1738,1075 L1712,1050 Z" fill="#6a6a6a" opacity="0.35" filter="url(#blur4)"/>
<ellipse cx="1684" cy="978" rx="3" ry="5.5" fill="#dadada"/>
<path d="M1744.6,889.5 L1713.5,890.5 M1713.5,901.5 L1734.5,906.0 M1734.5,923.0 L1713.5,918.0 M1713.5,930.0 L1734.5,936.0 M1734.5,954.0 L1713.5,947.0 M1713.5,960.0 L1734.5,965.0 M1734.5,983.0 L1713.5,974.0 M1713.5,987.0 L1734.5,994.0 M1734.5,1015.0 L1703.0,1001.0" fill="none" stroke="#555" stroke-width="6" opacity="0.2" transform="translate(3,5)" filter="url(#blur2)"/>
<path d="M1744.6,889.5 L1713.5,890.5 M1713.5,901.5 L1734.5,906.0 M1734.5,923.0 L1713.5,918.0 M1713.5,930.0 L1734.5,936.0 M1734.5,954.0 L1713.5,947.0 M1713.5,960.0 L1734.5,965.0 M1734.5,983.0 L1713.5,974.0 M1713.5,987.0 L1734.5,994.0 M1734.5,1015.0 L1703.0,1001.0" fill="none" stroke="#173f86" stroke-width="4.9" stroke-linecap="round" transform="translate(0.4,1.1)"/>
<path d="M1744.6,889.5 L1713.5,890.5 M1713.5,901.5 L1734.5,906.0 M1734.5,923.0 L1713.5,918.0 M1713.5,930.0 L1734.5,936.0 M1734.5,954.0 L1713.5,947.0 M1713.5,960.0 L1734.5,965.0 M1734.5,983.0 L1713.5,974.0 M1713.5,987.0 L1734.5,994.0 M1734.5,1015.0 L1703.0,1001.0" fill="none" stroke="#3b7fd5" stroke-width="3.6" stroke-linecap="round"/>
<rect x="1706.5" y="888.7" width="13.0" height="14.6" rx="5" fill="url(#bendL)"/>
<rect x="1728.5" y="904.2" width="13.0" height="20.6" rx="5" fill="url(#bendR)"/>
<rect x="1706.5" y="916.2" width="13.0" height="15.6" rx="5" fill="url(#bendL)"/>
<rect x="1728.5" y="934.2" width="13.0" height="21.6" rx="5" fill="url(#bendR)"/>
<rect x="1706.5" y="945.2" width="13.0" height="16.6" rx="5" fill="url(#bendL)"/>
<rect x="1728.5" y="963.2" width="13.0" height="21.6" rx="5" fill="url(#bendR)"/>
<rect x="1706.5" y="972.2" width="13.0" height="16.6" rx="5" fill="url(#bendL)"/>
<rect x="1728.5" y="992.2" width="13.0" height="24.6" rx="5" fill="url(#bendR)"/>
<path d="M1767,888 L1786,886 L1787,909 L1768,911 Z" fill="#cfcfcf"/>
<path d="M1767,902 L1786,900 L1787,909 L1768,911 Z" fill="#a9a9a9"/>
<ellipse cx="1786.5" cy="897.5" rx="9.6" ry="11.6" fill="#e0e0e0" stroke="#a0a0a0" stroke-width="1"/><ellipse cx="1787.2" cy="897.5" rx="6.0" ry="7.6" fill="#a4a4a4"/>
<line x1="1743.6" y1="883.6" x2="1782.9" y2="883.6" stroke="#000" stroke-width="1.8"/>
<path d="M1792.9,883.6 L1781.9,888.2 L1781.9,879.0 Z" fill="#000"/>
<line x1="1676.2" y1="1003.3" x2="1697.4" y2="1019.4" stroke="#000" stroke-width="1.8"/>
<path d="M1705.4,1025.4 L1693.9,1022.4 L1699.4,1015.1 Z" fill="#000"/>
<line x1="1348.9" y1="1004.4" x2="1315.2" y2="1218.9" stroke="#000" stroke-width="1.8" stroke-dasharray="7,5"/>
<line x1="1429.5" y1="1009.6" x2="1801.3" y2="1218.9" stroke="#000" stroke-width="1.8" stroke-dasharray="7,5"/>
<text x="1557.80" y="786.30" font-size="24.6" fill="#2f5ca8"><tspan>KNO</tspan><tspan dy="7.38" font-size="16.73">3</tspan></text>
<text x="1528.00" y="817.70" font-size="25.2">catholyte in</text>
<text x="1314.40" y="826.50" font-size="25.2">Gas out</text>
<text x="1677.00" y="821.20" font-size="25.2">Anolyte out</text>
<text x="1348.40" y="1048.70" font-size="25.6" font-weight="bold">Catalyst</text>
<text x="1562.20" y="1066.00" font-size="26.0" font-weight="bold">PEM</text>
<text x="1646.50" y="1059.20" font-size="25.0" font-weight="bold">Pt</text>
<text x="1194.00" y="1092.40" font-size="25.2"><tspan fill="#2f5ca8">CO</tspan><tspan dy="7.56" font-size="17.14" fill="#2f5ca8">2</tspan><tspan dy="-7.56"> In</tspan></text>
<text x="1362.00" y="1108.10" font-size="25.2">Catholyte out</text>
<text x="1401.20" y="1137.60" font-size="25.0" fill="#e07272">(Urea)</text>
<text x="1620.00" y="1143.00" font-size="25.2">Anolyte in</text>
<g clip-path="url(#semL)">
<rect x="1315.20" y="1219.40" width="250.80" height="374.60" fill="url(#lg18)"/>
<g filter="url(#soft2)">
<ellipse cx="1474.0" cy="1248.6" rx="18.7" ry="4.3" fill="#c4c4c4" opacity="0.65"/>
<ellipse cx="1550.4" cy="1239.4" rx="13.4" ry="4.3" fill="#c4c4c4" opacity="0.61"/>
<ellipse cx="1544.9" cy="1240.5" rx="13.5" ry="2.2" fill="#c4c4c4" opacity="0.57"/>
<ellipse cx="1461.6" cy="1239.2" rx="9.5" ry="2.3" fill="#c4c4c4" opacity="0.72"/>
<ellipse cx="1510.5" cy="1241.1" rx="18.8" ry="1.9" fill="#c4c4c4" opacity="0.60"/>
<ellipse cx="1347.5" cy="1239.0" rx="19.9" ry="2.1" fill="#c4c4c4" opacity="0.44"/>
<ellipse cx="1565.7" cy="1250.3" rx="10.6" ry="4.4" fill="#c4c4c4" opacity="0.57"/>
<ellipse cx="1488.0" cy="1241.7" rx="21.1" ry="3.6" fill="#c4c4c4" opacity="0.74"/>
<ellipse cx="1543.1" cy="1242.9" rx="11.8" ry="2.0" fill="#c4c4c4" opacity="0.41"/>
<ellipse cx="1331.8" cy="1242.9" rx="15.6" ry="1.5" fill="#c4c4c4" opacity="0.62"/>
<ellipse cx="1401.4" cy="1243.0" rx="19.1" ry="2.9" fill="#c4c4c4" opacity="0.48"/>
<ellipse cx="1437.9" cy="1248.2" rx="6.9" ry="4.4" fill="#c4c4c4" opacity="0.36"/>
<ellipse cx="1506.4" cy="1250.0" rx="6.3" ry="3.9" fill="#c4c4c4" opacity="0.50"/>
<ellipse cx="1462.7" cy="1239.1" rx="6.7" ry="2.0" fill="#c4c4c4" opacity="0.73"/>
<ellipse cx="1365.3" cy="1248.8" rx="20.9" ry="4.3" fill="#c4c4c4" opacity="0.49"/>
<ellipse cx="1405.7" cy="1245.8" rx="18.4" ry="1.8" fill="#c4c4c4" opacity="0.65"/>
<ellipse cx="1518.5" cy="1250.2" rx="6.6" ry="4.3" fill="#c4c4c4" opacity="0.39"/>
<ellipse cx="1402.1" cy="1246.9" rx="20.7" ry="2.5" fill="#c4c4c4" opacity="0.72"/>
<line x1="1315" y1="1255.5" x2="1566" y2="1255" stroke="#a8a8a8" stroke-width="1.6" opacity="0.7"/>
</g>
<rect x="1315.20" y="1254.00" width="250.80" height="82.00" fill="#fff" filter="url(#grain)" opacity="0.35"/>
<g filter="url(#edge2)">
<ellipse cx="1352.9" cy="1503.6" rx="40.4" ry="5.9" fill="#0e0e0e" opacity="0.68" transform="rotate(1.1 1352.9 1503.6)"/>
<ellipse cx="1520.0" cy="1462.9" rx="35.2" ry="4.4" fill="#0e0e0e" opacity="0.60" transform="rotate(-2.7 1520.0 1462.9)"/>
<ellipse cx="1462.2" cy="1360.9" rx="46.8" ry="4.4" fill="#0e0e0e" opacity="0.68" transform="rotate(-5.6 1462.2 1360.9)"/>
<ellipse cx="1569.4" cy="1514.9" rx="50.0" ry="6.7" fill="#0e0e0e" opacity="0.61" transform="rotate(-3.0 1569.4 1514.9)"/>
<ellipse cx="1439.4" cy="1371.6" rx="53.1" ry="5.2" fill="#0e0e0e" opacity="0.65" transform="rotate(1.4 1439.4 1371.6)"/>
<ellipse cx="1342.5" cy="1558.4" rx="33.1" ry="6.3" fill="#0e0e0e" opacity="0.72" transform="rotate(-1.6 1342.5 1558.4)"/>
<ellipse cx="1358.6" cy="1353.5" rx="49.6" ry="4.4" fill="#0e0e0e" opacity="0.87" transform="rotate(-4.1 1358.6 1353.5)"/>
<ellipse cx="1561.9" cy="1550.6" rx="45.2" ry="7.6" fill="#0e0e0e" opacity="0.80" transform="rotate(0.6 1561.9 1550.6)"/>
<ellipse cx="1341.8" cy="1454.6" rx="48.1" ry="4.2" fill="#0e0e0e" opacity="0.92" transform="rotate(2.0 1341.8 1454.6)"/>
<ellipse cx="1416.5" cy="1429.0" rx="33.1" ry="5.3" fill="#0e0e0e" opacity="0.95" transform="rotate(-2.5 1416.5 1429.0)"/>
<ellipse cx="1317.0" cy="1366.5" rx="43.7" ry="9.0" fill="#0e0e0e" opacity="0.77" transform="rotate(-1.6 1317.0 1366.5)"/>
<ellipse cx="1453.1" cy="1517.1" rx="23.9" ry="6.7" fill="#0e0e0e" opacity="0.79" transform="rotate(-0.4 1453.1 1517.1)"/>
<ellipse cx="1357.0" cy="1384.1" rx="28.9" ry="8.6" fill="#0e0e0e" opacity="0.72" transform="rotate(-0.6 1357.0 1384.1)"/>
<ellipse cx="1389.7" cy="1368.8" rx="17.6" ry="7.9" fill="#0e0e0e" opacity="0.87" transform="rotate(-2.6 1389.7 1368.8)"/>
<ellipse cx="1487.7" cy="1500.5" rx="50.9" ry="8.7" fill="#0e0e0e" opacity="0.74" transform="rotate(2.9 1487.7 1500.5)"/>
<ellipse cx="1560.0" cy="1480.8" rx="50.3" ry="5.9" fill="#0e0e0e" opacity="0.73" transform="rotate(-3.8 1560.0 1480.8)"/>
<ellipse cx="1537.8" cy="1382.3" rx="17.8" ry="7.8" fill="#0e0e0e" opacity="0.87" transform="rotate(-1.7 1537.8 1382.3)"/>
<ellipse cx="1527.6" cy="1357.0" rx="25.3" ry="4.7" fill="#0e0e0e" opacity="0.75" transform="rotate(-4.5 1527.6 1357.0)"/>
<ellipse cx="1328.1" cy="1422.8" rx="51.0" ry="8.9" fill="#0e0e0e" opacity="0.86" transform="rotate(-1.7 1328.1 1422.8)"/>
<ellipse cx="1375.6" cy="1565.5" rx="36.0" ry="7.4" fill="#0e0e0e" opacity="0.61" transform="rotate(-4.1 1375.6 1565.5)"/>
<ellipse cx="1527.9" cy="1527.9" rx="50.3" ry="6.6" fill="#0e0e0e" opacity="0.75" transform="rotate(-0.8 1527.9 1527.9)"/>
<ellipse cx="1530.8" cy="1415.8" rx="36.4" ry="4.7" fill="#0e0e0e" opacity="0.87" transform="rotate(-5.9 1530.8 1415.8)"/>
<ellipse cx="1488.2" cy="1564.4" rx="15.9" ry="6.6" fill="#0e0e0e" opacity="0.83" transform="rotate(1.7 1488.2 1564.4)"/>
<ellipse cx="1461.9" cy="1404.2" rx="31.2" ry="8.8" fill="#0e0e0e" opacity="0.92" transform="rotate(-4.8 1461.9 1404.2)"/>
<ellipse cx="1334.7" cy="1366.6" rx="16.0" ry="5.7" fill="#0e0e0e" opacity="0.65" transform="rotate(1.8 1334.7 1366.6)"/>
<ellipse cx="1480.4" cy="1374.1" rx="36.5" ry="4.9" fill="#0e0e0e" opacity="0.77" transform="rotate(-4.0 1480.4 1374.1)"/>
<ellipse cx="1353.2" cy="1387.3" rx="30.1" ry="7.3" fill="#0e0e0e" opacity="0.79" transform="rotate(-5.6 1353.2 1387.3)"/>
<ellipse cx="1494.8" cy="1546.0" rx="46.0" ry="7.7" fill="#0e0e0e" opacity="0.60" transform="rotate(-1.8 1494.8 1546.0)"/>
<ellipse cx="1326.5" cy="1520.7" rx="22.0" ry="7.3" fill="#0e0e0e" opacity="0.69" transform="rotate(0.3 1326.5 1520.7)"/>
<ellipse cx="1391.5" cy="1354.6" rx="30.6" ry="4.9" fill="#0e0e0e" opacity="0.92" transform="rotate(-3.3 1391.5 1354.6)"/>
<ellipse cx="1440.8" cy="1471.3" rx="52.9" ry="3.6" fill="#0e0e0e" opacity="0.81" transform="rotate(-1.4 1440.8 1471.3)"/>
<ellipse cx="1501.0" cy="1567.4" rx="27.4" ry="7.2" fill="#0e0e0e" opacity="0.78" transform="rotate(-1.0 1501.0 1567.4)"/>
<ellipse cx="1326.6" cy="1532.4" rx="54.1" ry="5.1" fill="#0e0e0e" opacity="0.71" transform="rotate(2.9 1326.6 1532.4)"/>
<ellipse cx="1338.0" cy="1362.5" rx="17.9" ry="7.9" fill="#0e0e0e" opacity="0.87" transform="rotate(-2.0 1338.0 1362.5)"/>
<ellipse cx="1471.6" cy="1349.5" rx="40.8" ry="5.7" fill="#0e0e0e" opacity="0.78" transform="rotate(-2.5 1471.6 1349.5)"/>
<ellipse cx="1414.4" cy="1396.9" rx="17.0" ry="5.6" fill="#0e0e0e" opacity="0.69" transform="rotate(0.3 1414.4 1396.9)"/>
<ellipse cx="1522.5" cy="1511.5" rx="33.2" ry="4.4" fill="#0e0e0e" opacity="0.73" transform="rotate(-1.6 1522.5 1511.5)"/>
<ellipse cx="1474.3" cy="1566.5" rx="18.4" ry="5.9" fill="#0e0e0e" opacity="0.77" transform="rotate(0.5 1474.3 1566.5)"/>
<ellipse cx="1541.5" cy="1524.3" rx="40.1" ry="7.6" fill="#0e0e0e" opacity="0.83" transform="rotate(1.7 1541.5 1524.3)"/>
<ellipse cx="1491.7" cy="1502.1" rx="24.8" ry="8.5" fill="#0e0e0e" opacity="0.74" transform="rotate(-0.5 1491.7 1502.1)"/>
<ellipse cx="1524.5" cy="1566.7" rx="54.6" ry="3.0" fill="#0e0e0e" opacity="0.71" transform="rotate(-3.2 1524.5 1566.7)"/>
<ellipse cx="1411.7" cy="1378.4" rx="37.1" ry="3.5" fill="#0e0e0e" opacity="0.71" transform="rotate(2.5 1411.7 1378.4)"/>
</g><g filter="url(#soft)">
<line x1="1387.1" y1="1520.7" x2="1457.7" y2="1523.8" stroke="#2a2a2a" stroke-width="8.0" stroke-linecap="round" opacity="0.5"/>
<line x1="1387.1" y1="1520.7" x2="1457.7" y2="1523.8" stroke="#c0c0c0" stroke-width="6.0" stroke-linecap="round" opacity="0.84"/>
<line x1="1412.2" y1="1435.6" x2="1498.0" y2="1428.0" stroke="#2a2a2a" stroke-width="4.6" stroke-linecap="round" opacity="0.5"/>
<line x1="1412.2" y1="1435.6" x2="1498.0" y2="1428.0" stroke="#b8b8b8" stroke-width="2.6" stroke-linecap="round" opacity="0.69"/>
<line x1="1322.2" y1="1544.4" x2="1501.6" y2="1531.9" stroke="#2a2a2a" stroke-width="7.5" stroke-linecap="round" opacity="0.5"/>
<line x1="1322.2" y1="1544.4" x2="1501.6" y2="1531.9" stroke="#ececec" stroke-width="5.5" stroke-linecap="round" opacity="0.85"/>
<line x1="1372.5" y1="1386.1" x2="1498.8" y2="1382.2" stroke="#2a2a2a" stroke-width="7.8" stroke-linecap="round" opacity="0.5"/>
<line x1="1372.5" y1="1386.1" x2="1498.8" y2="1382.2" stroke="#c0c0c0" stroke-width="5.8" stroke-linecap="round" opacity="0.83"/>
<line x1="1310.8" y1="1493.0" x2="1546.1" y2="1477.1" stroke="#2a2a2a" stroke-width="6.3" stroke-linecap="round" opacity="0.5"/>
<line x1="1310.8" y1="1493.0" x2="1546.1" y2="1477.1" stroke="#ececec" stroke-width="4.3" stroke-linecap="round" opacity="0.61"/>
<line x1="1298.2" y1="1465.3" x2="1463.7" y2="1466.1" stroke="#2a2a2a" stroke-width="5.7" stroke-linecap="round" opacity="0.5"/>
<line x1="1298.2" y1="1465.3" x2="1463.7" y2="1466.1" stroke="#d8d8d8" stroke-width="3.7" stroke-linecap="round" opacity="0.93"/>
<line x1="1494.3" y1="1384.0" x2="1580.5" y2="1380.2" stroke="#2a2a2a" stroke-width="4.5" stroke-linecap="round" opacity="0.5"/>
<line x1="1494.3" y1="1384.0" x2="1580.5" y2="1380.2" stroke="#c0c0c0" stroke-width="2.5" stroke-linecap="round" opacity="0.65"/>
<line x1="1462.7" y1="1532.1" x2="1613.3" y2="1518.1" stroke="#2a2a2a" stroke-width="5.4" stroke-linecap="round" opacity="0.5"/>
<line x1="1462.7" y1="1532.1" x2="1613.3" y2="1518.1" stroke="#a8a8a8" stroke-width="3.4" stroke-linecap="round" opacity="0.91"/>
<line x1="1410.7" y1="1406.2" x2="1617.2" y2="1403.7" stroke="#2a2a2a" stroke-width="6.8" stroke-linecap="round" opacity="0.5"/>
<line x1="1410.7" y1="1406.2" x2="1617.2" y2="1403.7" stroke="#d8d8d8" stroke-width="4.8" stroke-linecap="round" opacity="0.83"/>
<line x1="1381.5" y1="1366.8" x2="1589.7" y2="1376.9" stroke="#2a2a2a" stroke-width="7.8" stroke-linecap="round" opacity="0.5"/>
<line x1="1381.5" y1="1366.8" x2="1589.7" y2="1376.9" stroke="#c0c0c0" stroke-width="5.8" stroke-linecap="round" opacity="0.62"/>
<line x1="1417.4" y1="1537.5" x2="1585.2" y2="1532.6" stroke="#2a2a2a" stroke-width="8.5" stroke-linecap="round" opacity="0.5"/>
<line x1="1417.4" y1="1537.5" x2="1585.2" y2="1532.6" stroke="#ececec" stroke-width="6.5" stroke-linecap="round" opacity="0.65"/>
<line x1="1350.5" y1="1385.3" x2="1522.1" y2="1368.4" stroke="#2a2a2a" stroke-width="8.5" stroke-linecap="round" opacity="0.5"/>
<line x1="1350.5" y1="1385.3" x2="1522.1" y2="1368.4" stroke="#d8d8d8" stroke-width="6.5" stroke-linecap="round" opacity="0.67"/>
<line x1="1463.9" y1="1372.6" x2="1582.4" y2="1367.0" stroke="#2a2a2a" stroke-width="5.3" stroke-linecap="round" opacity="0.5"/>
<line x1="1463.9" y1="1372.6" x2="1582.4" y2="1367.0" stroke="#b8b8b8" stroke-width="3.3" stroke-linecap="round" opacity="0.77"/>
<line x1="1427.2" y1="1506.6" x2="1507.2" y2="1499.8" stroke="#2a2a2a" stroke-width="9.2" stroke-linecap="round" opacity="0.5"/>
<line x1="1427.2" y1="1506.6" x2="1507.2" y2="1499.8" stroke="#b8b8b8" stroke-width="7.2" stroke-linecap="round" opacity="0.69"/>
<line x1="1330.6" y1="1395.8" x2="1561.9" y2="1387.3" stroke="#2a2a2a" stroke-width="6.1" stroke-linecap="round" opacity="0.5"/>
<line x1="1330.6" y1="1395.8" x2="1561.9" y2="1387.3" stroke="#c0c0c0" stroke-width="4.1" stroke-linecap="round" opacity="0.67"/>
<line x1="1364.0" y1="1359.3" x2="1515.2" y2="1358.4" stroke="#2a2a2a" stroke-width="5.4" stroke-linecap="round" opacity="0.5"/>
<line x1="1364.0" y1="1359.3" x2="1515.2" y2="1358.4" stroke="#ececec" stroke-width="3.4" stroke-linecap="round" opacity="0.77"/>
<line x1="1468.7" y1="1387.3" x2="1672.0" y2="1394.6" stroke="#2a2a2a" stroke-width="7.9" stroke-linecap="round" opacity="0.5"/>
<line x1="1468.7" y1="1387.3" x2="1672.0" y2="1394.6" stroke="#c0c0c0" stroke-width="5.9" stroke-linecap="round" opacity="0.84"/>
<line x1="1419.4" y1="1499.0" x2="1584.0" y2="1485.3" stroke="#2a2a2a" stroke-width="6.1" stroke-linecap="round" opacity="0.5"/>
<line x1="1419.4" y1="1499.0" x2="1584.0" y2="1485.3" stroke="#c0c0c0" stroke-width="4.1" stroke-linecap="round" opacity="0.93"/>
<line x1="1456.7" y1="1565.5" x2="1508.9" y2="1563.0" stroke="#2a2a2a" stroke-width="7.6" stroke-linecap="round" opacity="0.5"/>
<line x1="1456.7" y1="1565.5" x2="1508.9" y2="1563.0" stroke="#b8b8b8" stroke-width="5.6" stroke-linecap="round" opacity="0.61"/>
<line x1="1447.2" y1="1436.5" x2="1531.8" y2="1440.4" stroke="#2a2a2a" stroke-width="7.0" stroke-linecap="round" opacity="0.5"/>
<line x1="1447.2" y1="1436.5" x2="1531.8" y2="1440.4" stroke="#a8a8a8" stroke-width="5.0" stroke-linecap="round" opacity="0.67"/>
<line x1="1406.5" y1="1579.6" x2="1603.9" y2="1581.7" stroke="#2a2a2a" stroke-width="8.9" stroke-linecap="round" opacity="0.5"/>
<line x1="1406.5" y1="1579.6" x2="1603.9" y2="1581.7" stroke="#ececec" stroke-width="6.9" stroke-linecap="round" opacity="0.92"/>
<line x1="1415.9" y1="1405.2" x2="1532.7" y2="1405.3" stroke="#2a2a2a" stroke-width="8.8" stroke-linecap="round" opacity="0.5"/>
<line x1="1415.9" y1="1405.2" x2="1532.7" y2="1405.3" stroke="#b8b8b8" stroke-width="6.8" stroke-linecap="round" opacity="0.65"/>
<line x1="1378.8" y1="1356.2" x2="1539.1" y2="1340.8" stroke="#2a2a2a" stroke-width="7.8" stroke-linecap="round" opacity="0.5"/>
<line x1="1378.8" y1="1356.2" x2="1539.1" y2="1340.8" stroke="#c0c0c0" stroke-width="5.8" stroke-linecap="round" opacity="0.86"/>
<line x1="1401.8" y1="1398.9" x2="1522.2" y2="1404.8" stroke="#2a2a2a" stroke-width="6.0" stroke-linecap="round" opacity="0.5"/>
<line x1="1401.8" y1="1398.9" x2="1522.2" y2="1404.8" stroke="#c0c0c0" stroke-width="4.0" stroke-linecap="round" opacity="0.68"/>
<line x1="1424.6" y1="1447.6" x2="1621.0" y2="1450.1" stroke="#2a2a2a" stroke-width="7.8" stroke-linecap="round" opacity="0.5"/>
<line x1="1424.6" y1="1447.6" x2="1621.0" y2="1450.1" stroke="#ececec" stroke-width="5.8" stroke-linecap="round" opacity="0.66"/>
<line x1="1336.7" y1="1540.2" x2="1477.3" y2="1527.0" stroke="#2a2a2a" stroke-width="8.8" stroke-linecap="round" opacity="0.5"/>
<line x1="1336.7" y1="1540.2" x2="1477.3" y2="1527.0" stroke="#c0c0c0" stroke-width="6.8" stroke-linecap="round" opacity="0.61"/>
<line x1="1413.2" y1="1539.3" x2="1615.7" y2="1541.4" stroke="#2a2a2a" stroke-width="8.2" stroke-linecap="round" opacity="0.5"/>
<line x1="1413.2" y1="1539.3" x2="1615.7" y2="1541.4" stroke="#c0c0c0" stroke-width="6.2" stroke-linecap="round" opacity="0.73"/>
<line x1="1290.8" y1="1440.5" x2="1467.0" y2="1438.3" stroke="#2a2a2a" stroke-width="7.4" stroke-linecap="round" opacity="0.5"/>
<line x1="1290.8" y1="1440.5" x2="1467.0" y2="1438.3" stroke="#a8a8a8" stroke-width="5.4" stroke-linecap="round" opacity="0.67"/>
<line x1="1444.2" y1="1402.3" x2="1648.5" y2="1396.6" stroke="#2a2a2a" stroke-width="4.8" stroke-linecap="round" opacity="0.5"/>
<line x1="1444.2" y1="1402.3" x2="1648.5" y2="1396.6" stroke="#ececec" stroke-width="2.8" stroke-linecap="round" opacity="0.92"/>
<line x1="1360.1" y1="1380.4" x2="1477.4" y2="1378.6" stroke="#2a2a2a" stroke-width="6.7" stroke-linecap="round" opacity="0.5"/>
<line x1="1360.1" y1="1380.4" x2="1477.4" y2="1378.6" stroke="#d8d8d8" stroke-width="4.7" stroke-linecap="round" opacity="0.90"/>
<line x1="1368.7" y1="1522.8" x2="1466.3" y2="1524.5" stroke="#2a2a2a" stroke-width="8.5" stroke-linecap="round" opacity="0.5"/>
<line x1="1368.7" y1="1522.8" x2="1466.3" y2="1524.5" stroke="#c0c0c0" stroke-width="6.5" stroke-linecap="round" opacity="0.81"/>
<line x1="1468.2" y1="1426.6" x2="1660.0" y2="1414.6" stroke="#2a2a2a" stroke-width="5.1" stroke-linecap="round" opacity="0.5"/>
<line x1="1468.2" y1="1426.6" x2="1660.0" y2="1414.6" stroke="#ececec" stroke-width="3.1" stroke-linecap="round" opacity="0.64"/>
<line x1="1425.7" y1="1491.9" x2="1573.3" y2="1480.1" stroke="#2a2a2a" stroke-width="8.4" stroke-linecap="round" opacity="0.5"/>
<line x1="1425.7" y1="1491.9" x2="1573.3" y2="1480.1" stroke="#a8a8a8" stroke-width="6.4" stroke-linecap="round" opacity="0.68"/>
<line x1="1360.4" y1="1507.9" x2="1533.7" y2="1500.1" stroke="#2a2a2a" stroke-width="5.5" stroke-linecap="round" opacity="0.5"/>
<line x1="1360.4" y1="1507.9" x2="1533.7" y2="1500.1" stroke="#c0c0c0" stroke-width="3.5" stroke-linecap="round" opacity="0.70"/>
<ellipse cx="1380.9" cy="1540.9" rx="4.5" ry="5.1" fill="#e0e0e0" opacity="0.74"/>
<ellipse cx="1443.3" cy="1574.3" rx="6.1" ry="5.0" fill="#e0e0e0" opacity="0.70"/>
<ellipse cx="1449.9" cy="1487.0" rx="7.9" ry="2.6" fill="#e0e0e0" opacity="0.88"/>
<ellipse cx="1350.8" cy="1458.4" rx="8.0" ry="4.8" fill="#e0e0e0" opacity="0.79"/>
<ellipse cx="1462.1" cy="1465.6" rx="6.1" ry="5.5" fill="#e0e0e0" opacity="0.86"/>
<ellipse cx="1526.7" cy="1531.1" rx="12.1" ry="5.1" fill="#e0e0e0" opacity="0.64"/>
<ellipse cx="1353.8" cy="1382.6" rx="6.4" ry="4.9" fill="#e0e0e0" opacity="0.62"/>
<ellipse cx="1557.1" cy="1469.1" rx="5.8" ry="2.5" fill="#e0e0e0" opacity="0.56"/>
<ellipse cx="1353.4" cy="1487.4" rx="5.5" ry="4.8" fill="#e0e0e0" opacity="0.75"/>
<ellipse cx="1345.7" cy="1404.2" rx="10.3" ry="3.2" fill="#e0e0e0" opacity="0.51"/>
<ellipse cx="1510.8" cy="1422.8" rx="9.1" ry="3.4" fill="#e0e0e0" opacity="0.67"/>
<ellipse cx="1512.9" cy="1561.1" rx="10.3" ry="5.3" fill="#e0e0e0" opacity="0.66"/>
<ellipse cx="1555.8" cy="1537.3" rx="10.2" ry="5.6" fill="#e0e0e0" opacity="0.67"/>
<ellipse cx="1459.8" cy="1389.0" rx="7.6" ry="5.3" fill="#e0e0e0" opacity="0.69"/>
<line x1="1411.7" y1="1536.6" x2="1580.8" y2="1528.8" stroke="#e4e4e4" stroke-width="4.2" stroke-linecap="round" opacity="0.69"/>
<line x1="1344.9" y1="1570.5" x2="1456.9" y2="1568.7" stroke="#e4e4e4" stroke-width="3.4" stroke-linecap="round" opacity="0.92"/>
<line x1="1311.9" y1="1547.6" x2="1453.8" y2="1545.2" stroke="#e4e4e4" stroke-width="5.4" stroke-linecap="round" opacity="0.65"/>
<line x1="1349.2" y1="1566.0" x2="1463.9" y2="1560.9" stroke="#e4e4e4" stroke-width="4.9" stroke-linecap="round" opacity="0.92"/>
<line x1="1431.7" y1="1537.1" x2="1607.5" y2="1534.8" stroke="#e4e4e4" stroke-width="2.9" stroke-linecap="round" opacity="0.94"/>
<line x1="1457.8" y1="1544.4" x2="1619.4" y2="1532.4" stroke="#e4e4e4" stroke-width="4.7" stroke-linecap="round" opacity="0.81"/>
<line x1="1436.4" y1="1553.7" x2="1499.0" y2="1552.8" stroke="#e4e4e4" stroke-width="3.1" stroke-linecap="round" opacity="0.68"/>
<line x1="1473.1" y1="1542.1" x2="1534.9" y2="1543.4" stroke="#e4e4e4" stroke-width="5.5" stroke-linecap="round" opacity="0.94"/>
<line x1="1357.4" y1="1545.7" x2="1535.8" y2="1535.8" stroke="#e4e4e4" stroke-width="5.0" stroke-linecap="round" opacity="0.91"/>
<line x1="1360.0" y1="1542.8" x2="1440.1" y2="1540.2" stroke="#e4e4e4" stroke-width="5.7" stroke-linecap="round" opacity="0.83"/>
<line x1="1432.5" y1="1547.4" x2="1590.0" y2="1549.8" stroke="#e4e4e4" stroke-width="2.8" stroke-linecap="round" opacity="0.62"/>
<line x1="1347.8" y1="1565.9" x2="1486.2" y2="1569.6" stroke="#e4e4e4" stroke-width="5.2" stroke-linecap="round" opacity="0.85"/>
<line x1="1399.8" y1="1536.2" x2="1588.1" y2="1526.3" stroke="#e4e4e4" stroke-width="5.9" stroke-linecap="round" opacity="0.87"/>
<line x1="1313.0" y1="1544.9" x2="1376.4" y2="1541.6" stroke="#e4e4e4" stroke-width="3.8" stroke-linecap="round" opacity="0.67"/>
<line x1="1388" y1="1470" x2="1440" y2="1545" stroke="#9a9a9a" stroke-width="6" opacity="0.8"/>
</g>
<rect x="1315.20" y="1219.40" width="250.80" height="374.60" fill="#000" filter="url(#fine)" opacity="0.3"/>
<rect x="1315.20" y="1579.50" width="250.80" height="15.00" fill="#111111"/>
<rect x="1321.70" y="1584.80" width="38.10" height="8.20" fill="#ffffff"/>
</g>
<line x1="1317" y1="1295.7" x2="1566" y2="1295.7" stroke="#ffffff" stroke-width="1.8" stroke-dasharray="6,4"/>
<line x1="1317" y1="1336.2" x2="1566" y2="1336.2" stroke="#ffffff" stroke-width="1.8" stroke-dasharray="6,4"/>
<line x1="1317" y1="1577.6" x2="1566" y2="1577.6" stroke="#ffffff" stroke-width="1.8" stroke-dasharray="6,4"/>
<text x="1316.20" y="1283.50" font-size="21.5" fill="#ffffff" font-weight="bold">Catalyst layer</text>
<text x="1316.20" y="1327.50" font-size="21.5" fill="#ffffff" font-weight="bold">Microporous layer</text>
<text x="1316.20" y="1363.20" font-size="21.5" fill="#ffffff" font-weight="bold">Gas Diffusion Layer</text>
<text x="1366.00" y="1593.40" font-size="17.5" fill="#ffffff" font-weight="bold">40 μm</text>
<g clip-path="url(#semR)">
<rect x="1566.00" y="1219.20" width="241.90" height="374.80" fill="#353535"/>
<circle cx="1562.4" cy="1215.7" r="3.3" fill="url(#sA)"/><circle cx="1569.8" cy="1216.3" r="3.4" fill="url(#sA)"/><circle cx="1576.0" cy="1215.6" r="3.4" fill="url(#sA)"/><circle cx="1582.6" cy="1215.5" r="3.2" fill="url(#sA)"/><circle cx="1589.5" cy="1216.3" r="3.3" fill="url(#sA)"/><circle cx="1594.5" cy="1215.2" r="2.8" fill="url(#sA)"/><circle cx="1601.3" cy="1217.0" r="3.1" fill="url(#sB)"/><circle cx="1607.2" cy="1217.0" r="2.7" fill="url(#sA)"/><circle cx="1615.2" cy="1217.1" r="3.2" fill="url(#sB)"/><circle cx="1632.6" cy="1216.1" r="2.7" fill="url(#sB)"/><circle cx="1639.5" cy="1216.2" r="2.8" fill="url(#sA)"/><circle cx="1645.6" cy="1215.7" r="3.0" fill="url(#sA)"/><circle cx="1653.0" cy="1217.0" r="2.7" fill="url(#sA)"/><circle cx="1659.5" cy="1216.4" r="3.0" fill="url(#sB)"/><circle cx="1664.7" cy="1215.6" r="2.7" fill="url(#sA)"/><circle cx="1672.3" cy="1216.8" r="3.4" fill="url(#sB)"/><circle cx="1677.6" cy="1215.3" r="2.9" fill="url(#sB)"/><circle cx="1684.0" cy="1216.0" r="3.3" fill="url(#sA)"/><circle cx="1690.7" cy="1215.4" r="3.4" fill="url(#sA)"/><circle cx="1697.2" cy="1216.1" r="2.9" fill="url(#sB)"/><circle cx="1703.4" cy="1216.9" r="3.2" fill="url(#sB)"/><circle cx="1710.5" cy="1215.7" r="2.9" fill="url(#sB)"/><circle cx="1716.5" cy="1217.1" r="2.8" fill="url(#sA)"/><circle cx="1723.7" cy="1216.8" r="3.1" fill="url(#sC)"/><circle cx="1730.2" cy="1216.0" r="3.2" fill="url(#sA)"/><circle cx="1736.2" cy="1216.4" r="3.5" fill="url(#sA)"/><circle cx="1742.0" cy="1217.0" r="2.9" fill="url(#sA)"/><circle cx="1749.5" cy="1215.6" r="3.2" fill="url(#sB)"/><circle cx="1755.3" cy="1216.7" r="3.4" fill="url(#sB)"/><circle cx="1761.1" cy="1216.0" r="2.7" fill="url(#sC)"/><circle cx="1767.4" cy="1216.5" r="3.3" fill="url(#sA)"/><circle cx="1774.1" cy="1215.6" r="3.3" fill="url(#sB)"/><circle cx="1780.7" cy="1216.4" r="3.2" fill="url(#sB)"/><circle cx="1786.4" cy="1215.2" r="2.7" fill="url(#sB)"/><circle cx="1794.3" cy="1216.0" r="2.9" fill="url(#sB)"/><circle cx="1800.0" cy="1215.8" r="3.3" fill="url(#sC)"/><circle cx="1806.0" cy="1215.5" r="3.0" fill="url(#sB)"/><circle cx="1566.1" cy="1222.5" r="3.2" fill="url(#sA)"/><circle cx="1572.0" cy="1221.3" r="2.8" fill="url(#sC)"/><circle cx="1578.8" cy="1222.5" r="3.4" fill="url(#sC)"/><circle cx="1586.2" cy="1221.8" r="2.8" fill="url(#sC)"/><circle cx="1591.7" cy="1220.8" r="2.9" fill="url(#sA)"/><circle cx="1598.7" cy="1221.9" r="3.1" fill="url(#sA)"/><circle cx="1604.4" cy="1221.1" r="3.1" fill="url(#sB)"/><circle cx="1610.7" cy="1221.3" r="3.3" fill="url(#sA)"/><circle cx="1617.8" cy="1221.6" r="3.3" fill="url(#sA)"/><circle cx="1623.4" cy="1221.5" r="3.1" fill="url(#sA)"/><circle cx="1630.6" cy="1222.1" r="3.3" fill="url(#sB)"/><circle cx="1637.0" cy="1222.5" r="2.7" fill="url(#sB)"/><circle cx="1643.3" cy="1221.1" r="3.4" fill="url(#sB)"/><circle cx="1649.9" cy="1222.0" r="2.9" fill="url(#sB)"/><circle cx="1656.1" cy="1221.2" r="2.8" fill="url(#sA)"/><circle cx="1663.1" cy="1222.3" r="2.6" fill="url(#sB)"/><circle cx="1667.8" cy="1222.4" r="2.8" fill="url(#sB)"/><circle cx="1675.7" cy="1221.0" r="3.3" fill="url(#sB)"/><circle cx="1681.9" cy="1221.5" r="2.9" fill="url(#sC)"/><circle cx="1687.4" cy="1221.1" r="3.4" fill="url(#sA)"/><circle cx="1693.8" cy="1221.0" r="3.0" fill="url(#sB)"/><circle cx="1700.8" cy="1221.4" r="2.9" fill="url(#sA)"/><circle cx="1706.1" cy="1222.4" r="3.1" fill="url(#sB)"/><circle cx="1712.4" cy="1222.5" r="2.9" fill="url(#sB)"/><circle cx="1720.6" cy="1221.3" r="3.1" fill="url(#sB)"/><circle cx="1726.5" cy="1221.1" r="3.1" fill="url(#sA)"/><circle cx="1731.7" cy="1221.2" r="3.4" fill="url(#sB)"/><circle cx="1740.0" cy="1221.3" r="3.1" fill="url(#sA)"/><circle cx="1745.7" cy="1221.8" r="3.4" fill="url(#sA)"/><circle cx="1752.0" cy="1221.5" r="2.7" fill="url(#sA)"/><circle cx="1758.2" cy="1221.3" r="3.1" fill="url(#sA)"/><circle cx="1764.5" cy="1221.2" r="3.3" fill="url(#sC)"/><circle cx="1770.5" cy="1222.5" r="2.8" fill="url(#sB)"/><circle cx="1777.4" cy="1222.5" r="3.1" fill="url(#sB)"/><circle cx="1784.2" cy="1221.6" r="3.1" fill="url(#sB)"/><circle cx="1790.7" cy="1221.5" r="2.8" fill="url(#sA)"/><circle cx="1795.7" cy="1220.9" r="2.8" fill="url(#sA)"/><circle cx="1802.5" cy="1222.6" r="2.8" fill="url(#sA)"/><circle cx="1809.9" cy="1221.0" r="2.9" fill="url(#sA)"/><circle cx="1562.5" cy="1227.3" r="3.4" fill="url(#sA)"/><circle cx="1576.5" cy="1227.2" r="2.9" fill="url(#sB)"/><circle cx="1582.3" cy="1228.0" r="2.6" fill="url(#sA)"/><circle cx="1588.8" cy="1227.9" r="2.7" fill="url(#sA)"/><circle cx="1601.8" cy="1228.3" r="2.9" fill="url(#sA)"/><circle cx="1608.3" cy="1228.2" r="2.8" fill="url(#sC)"/><circle cx="1613.7" cy="1226.9" r="3.4" fill="url(#sB)"/><circle cx="1619.8" cy="1228.2" r="3.2" fill="url(#sA)"/><circle cx="1626.9" cy="1226.4" r="3.3" fill="url(#sA)"/><circle cx="1633.9" cy="1227.0" r="3.3" fill="url(#sA)"/><circle cx="1639.7" cy="1228.3" r="2.9" fill="url(#sB)"/><circle cx="1646.3" cy="1228.1" r="2.7" fill="url(#sB)"/><circle cx="1651.7" cy="1228.3" r="3.0" fill="url(#sB)"/><circle cx="1658.2" cy="1226.4" r="3.1" fill="url(#sC)"/><circle cx="1664.8" cy="1228.2" r="3.2" fill="url(#sC)"/><circle cx="1672.4" cy="1226.8" r="3.2" fill="url(#sA)"/><circle cx="1678.1" cy="1228.3" r="2.9" fill="url(#sA)"/><circle cx="1685.0" cy="1228.4" r="3.2" fill="url(#sB)"/><circle cx="1691.5" cy="1227.2" r="2.7" fill="url(#sC)"/><circle cx="1696.9" cy="1228.4" r="2.7" fill="url(#sB)"/><circle cx="1704.3" cy="1228.1" r="2.8" fill="url(#sA)"/><circle cx="1710.4" cy="1226.8" r="3.5" fill="url(#sC)"/><circle cx="1716.5" cy="1227.4" r="3.2" fill="url(#sA)"/><circle cx="1722.7" cy="1226.7" r="3.1" fill="url(#sA)"/><circle cx="1728.5" cy="1227.5" r="3.3" fill="url(#sB)"/><circle cx="1736.4" cy="1227.2" r="3.3" fill="url(#sA)"/><circle cx="1747.8" cy="1226.8" r="3.4" fill="url(#sB)"/><circle cx="1754.2" cy="1227.9" r="3.2" fill="url(#sA)"/><circle cx="1761.7" cy="1226.6" r="2.7" fill="url(#sB)"/><circle cx="1773.9" cy="1226.5" r="3.2" fill="url(#sA)"/><circle cx="1780.3" cy="1227.1" r="2.6" fill="url(#sB)"/><circle cx="1787.9" cy="1228.2" r="3.4" fill="url(#sC)"/><circle cx="1793.6" cy="1227.8" r="3.5" fill="url(#sB)"/><circle cx="1800.3" cy="1228.1" r="3.1" fill="url(#sB)"/><circle cx="1565.5" cy="1232.1" r="3.1" fill="url(#sA)"/><circle cx="1573.3" cy="1232.3" r="2.9" fill="url(#sB)"/><circle cx="1579.5" cy="1232.6" r="3.2" fill="url(#sB)"/><circle cx="1584.7" cy="1232.4" r="2.7" fill="url(#sA)"/><circle cx="1591.9" cy="1232.7" r="3.2" fill="url(#sC)"/><circle cx="1599.0" cy="1234.0" r="2.9" fill="url(#sA)"/><circle cx="1605.4" cy="1232.7" r="2.9" fill="url(#sB)"/><circle cx="1611.3" cy="1232.6" r="3.4" fill="url(#sA)"/><circle cx="1617.7" cy="1234.0" r="2.7" fill="url(#sA)"/><circle cx="1624.3" cy="1233.9" r="3.1" fill="url(#sB)"/><circle cx="1630.0" cy="1233.1" r="2.8" fill="url(#sA)"/><circle cx="1637.3" cy="1232.7" r="3.4" fill="url(#sA)"/><circle cx="1643.0" cy="1232.6" r="3.3" fill="url(#sB)"/><circle cx="1650.0" cy="1232.1" r="2.9" fill="url(#sA)"/><circle cx="1656.7" cy="1232.7" r="3.3" fill="url(#sC)"/><circle cx="1662.9" cy="1233.4" r="3.4" fill="url(#sA)"/><circle cx="1669.1" cy="1233.0" r="3.2" fill="url(#sB)"/><circle cx="1674.4" cy="1234.0" r="3.0" fill="url(#sA)"/><circle cx="1682.2" cy="1233.1" r="2.9" fill="url(#sC)"/><circle cx="1688.2" cy="1232.1" r="2.7" fill="url(#sB)"/><circle cx="1700.3" cy="1233.5" r="3.3" fill="url(#sA)"/><circle cx="1707.8" cy="1233.4" r="2.6" fill="url(#sA)"/><circle cx="1713.5" cy="1232.4" r="3.0" fill="url(#sB)"/><circle cx="1719.3" cy="1233.7" r="3.0" fill="url(#sA)"/><circle cx="1727.1" cy="1232.6" r="2.6" fill="url(#sC)"/><circle cx="1733.0" cy="1232.5" r="3.4" fill="url(#sC)"/><circle cx="1738.0" cy="1233.1" r="2.8" fill="url(#sB)"/><circle cx="1745.2" cy="1233.8" r="2.9" fill="url(#sA)"/><circle cx="1751.7" cy="1232.6" r="3.4" fill="url(#sA)"/><circle cx="1757.6" cy="1233.1" r="3.2" fill="url(#sB)"/><circle cx="1764.9" cy="1232.3" r="3.5" fill="url(#sA)"/><circle cx="1771.4" cy="1234.0" r="3.3" fill="url(#sA)"/><circle cx="1776.8" cy="1232.1" r="2.8" fill="url(#sA)"/><circle cx="1784.8" cy="1232.3" r="2.8" fill="url(#sA)"/><circle cx="1789.9" cy="1232.4" r="3.3" fill="url(#sC)"/><circle cx="1796.0" cy="1234.0" r="3.0" fill="url(#sB)"/><circle cx="1803.3" cy="1234.0" r="3.0" fill="url(#sC)"/><circle cx="1809.0" cy="1233.9" r="3.2" fill="url(#sA)"/><circle cx="1563.4" cy="1237.9" r="3.0" fill="url(#sB)"/><circle cx="1569.8" cy="1238.6" r="3.1" fill="url(#sA)"/><circle cx="1576.4" cy="1238.6" r="3.5" fill="url(#sB)"/><circle cx="1581.4" cy="1238.6" r="2.9" fill="url(#sB)"/><circle cx="1587.7" cy="1238.0" r="3.4" fill="url(#sA)"/><circle cx="1594.9" cy="1238.7" r="3.3" fill="url(#sC)"/><circle cx="1601.6" cy="1238.0" r="3.5" fill="url(#sA)"/><circle cx="1607.5" cy="1239.6" r="3.5" fill="url(#sA)"/><circle cx="1613.6" cy="1238.8" r="2.8" fill="url(#sA)"/><circle cx="1620.5" cy="1238.6" r="3.3" fill="url(#sA)"/><circle cx="1626.5" cy="1237.6" r="3.0" fill="url(#sC)"/><circle cx="1634.0" cy="1239.5" r="2.8" fill="url(#sC)"/><circle cx="1639.4" cy="1239.2" r="2.9" fill="url(#sC)"/><circle cx="1645.9" cy="1238.2" r="3.2" fill="url(#sB)"/><circle cx="1651.7" cy="1238.7" r="2.7" fill="url(#sA)"/><circle cx="1659.9" cy="1239.0" r="3.4" fill="url(#sC)"/><circle cx="1664.4" cy="1238.3" r="2.9" fill="url(#sC)"/><circle cx="1671.4" cy="1239.1" r="3.5" fill="url(#sA)"/><circle cx="1678.4" cy="1238.1" r="2.9" fill="url(#sA)"/><circle cx="1683.8" cy="1238.6" r="3.3" fill="url(#sB)"/><circle cx="1690.8" cy="1238.2" r="2.8" fill="url(#sA)"/><circle cx="1697.5" cy="1239.2" r="3.0" fill="url(#sC)"/><circle cx="1703.5" cy="1238.0" r="2.8" fill="url(#sA)"/><circle cx="1711.0" cy="1238.8" r="3.4" fill="url(#sA)"/><circle cx="1724.0" cy="1238.5" r="2.7" fill="url(#sA)"/><circle cx="1728.9" cy="1238.2" r="2.8" fill="url(#sA)"/><circle cx="1735.0" cy="1238.8" r="3.3" fill="url(#sA)"/><circle cx="1742.6" cy="1238.2" r="2.9" fill="url(#sB)"/><circle cx="1749.6" cy="1239.2" r="2.8" fill="url(#sB)"/><circle cx="1754.6" cy="1239.5" r="3.4" fill="url(#sB)"/><circle cx="1761.9" cy="1238.6" r="3.2" fill="url(#sA)"/><circle cx="1768.4" cy="1238.0" r="3.1" fill="url(#sC)"/><circle cx="1775.2" cy="1238.1" r="3.4" fill="url(#sA)"/><circle cx="1786.2" cy="1237.7" r="2.7" fill="url(#sA)"/><circle cx="1794.0" cy="1239.2" r="3.3" fill="url(#sC)"/><circle cx="1798.9" cy="1238.0" r="2.8" fill="url(#sA)"/><circle cx="1805.9" cy="1239.0" r="3.2" fill="url(#sC)"/><circle cx="1565.6" cy="1243.6" r="3.1" fill="url(#sA)"/><circle cx="1572.8" cy="1243.4" r="3.4" fill="url(#sB)"/><circle cx="1578.1" cy="1244.2" r="2.7" fill="url(#sA)"/><circle cx="1584.7" cy="1244.1" r="2.7" fill="url(#sA)"/><circle cx="1591.0" cy="1243.7" r="3.3" fill="url(#sC)"/><circle cx="1598.6" cy="1244.1" r="3.1" fill="url(#sB)"/><circle cx="1605.5" cy="1244.2" r="2.7" fill="url(#sB)"/><circle cx="1611.1" cy="1245.1" r="3.3" fill="url(#sC)"/><circle cx="1617.6" cy="1243.4" r="2.7" fill="url(#sB)"/><circle cx="1623.1" cy="1243.7" r="3.4" fill="url(#sB)"/><circle cx="1630.7" cy="1243.8" r="2.6" fill="url(#sB)"/><circle cx="1637.4" cy="1244.4" r="2.7" fill="url(#sB)"/><circle cx="1642.5" cy="1243.5" r="2.7" fill="url(#sB)"/><circle cx="1650.1" cy="1245.1" r="2.9" fill="url(#sA)"/><circle cx="1655.4" cy="1243.6" r="3.1" fill="url(#sA)"/><circle cx="1662.6" cy="1243.5" r="2.9" fill="url(#sB)"/><circle cx="1669.4" cy="1243.6" r="3.2" fill="url(#sC)"/><circle cx="1674.6" cy="1244.9" r="2.6" fill="url(#sB)"/><circle cx="1681.6" cy="1243.7" r="2.7" fill="url(#sB)"/><circle cx="1687.9" cy="1243.6" r="2.9" fill="url(#sB)"/><circle cx="1694.2" cy="1244.2" r="3.1" fill="url(#sA)"/><circle cx="1701.5" cy="1244.0" r="3.1" fill="url(#sB)"/><circle cx="1706.0" cy="1243.4" r="3.1" fill="url(#sB)"/><circle cx="1713.1" cy="1243.4" r="3.2" fill="url(#sA)"/><circle cx="1719.1" cy="1243.7" r="2.9" fill="url(#sA)"/><circle cx="1726.3" cy="1244.8" r="2.9" fill="url(#sB)"/><circle cx="1733.3" cy="1245.0" r="3.2" fill="url(#sB)"/><circle cx="1738.2" cy="1243.6" r="3.0" fill="url(#sB)"/><circle cx="1745.3" cy="1243.8" r="2.7" fill="url(#sA)"/><circle cx="1752.4" cy="1243.5" r="3.3" fill="url(#sB)"/><circle cx="1757.7" cy="1243.8" r="2.8" fill="url(#sA)"/><circle cx="1764.8" cy="1245.0" r="3.1" fill="url(#sB)"/><circle cx="1771.5" cy="1243.5" r="3.0" fill="url(#sA)"/><circle cx="1777.2" cy="1243.4" r="3.1" fill="url(#sA)"/><circle cx="1783.9" cy="1244.1" r="3.4" fill="url(#sB)"/><circle cx="1791.1" cy="1244.1" r="3.4" fill="url(#sB)"/><circle cx="1796.0" cy="1243.7" r="3.2" fill="url(#sA)"/><circle cx="1802.6" cy="1244.5" r="3.4" fill="url(#sB)"/><circle cx="1809.6" cy="1244.3" r="3.0" fill="url(#sB)"/><circle cx="1562.8" cy="1250.4" r="3.3" fill="url(#sA)"/><circle cx="1575.3" cy="1249.0" r="3.0" fill="url(#sA)"/><circle cx="1582.0" cy="1250.4" r="3.3" fill="url(#sB)"/><circle cx="1589.2" cy="1250.7" r="3.1" fill="url(#sA)"/><circle cx="1594.6" cy="1250.4" r="3.0" fill="url(#sC)"/><circle cx="1601.3" cy="1249.1" r="2.9" fill="url(#sB)"/><circle cx="1607.2" cy="1249.3" r="3.0" fill="url(#sA)"/><circle cx="1613.3" cy="1250.0" r="2.7" fill="url(#sB)"/><circle cx="1621.0" cy="1249.8" r="2.7" fill="url(#sA)"/><circle cx="1627.4" cy="1250.6" r="3.5" fill="url(#sB)"/><circle cx="1633.5" cy="1249.6" r="3.3" fill="url(#sA)"/><circle cx="1639.1" cy="1249.1" r="2.8" fill="url(#sC)"/><circle cx="1646.0" cy="1249.9" r="3.4" fill="url(#sB)"/><circle cx="1652.9" cy="1250.2" r="2.6" fill="url(#sB)"/><circle cx="1658.3" cy="1248.8" r="3.3" fill="url(#sB)"/><circle cx="1665.1" cy="1249.7" r="3.4" fill="url(#sB)"/><circle cx="1672.5" cy="1250.5" r="3.3" fill="url(#sB)"/><circle cx="1677.5" cy="1250.6" r="3.3" fill="url(#sB)"/><circle cx="1684.4" cy="1249.5" r="3.4" fill="url(#sB)"/><circle cx="1690.2" cy="1250.1" r="2.9" fill="url(#sA)"/><circle cx="1697.3" cy="1249.0" r="3.1" fill="url(#sB)"/><circle cx="1703.1" cy="1249.1" r="3.5" fill="url(#sB)"/><circle cx="1710.2" cy="1250.6" r="3.0" fill="url(#sA)"/><circle cx="1716.8" cy="1249.8" r="2.8" fill="url(#sC)"/><circle cx="1722.5" cy="1250.8" r="3.0" fill="url(#sB)"/><circle cx="1728.7" cy="1248.9" r="3.4" fill="url(#sB)"/><circle cx="1735.2" cy="1250.0" r="3.3" fill="url(#sA)"/><circle cx="1741.6" cy="1250.0" r="2.9" fill="url(#sA)"/><circle cx="1747.6" cy="1250.0" r="2.9" fill="url(#sC)"/><circle cx="1754.6" cy="1249.0" r="2.7" fill="url(#sA)"/><circle cx="1762.3" cy="1249.5" r="3.4" fill="url(#sA)"/><circle cx="1768.7" cy="1249.2" r="3.1" fill="url(#sB)"/><circle cx="1773.3" cy="1249.7" r="2.8" fill="url(#sA)"/><circle cx="1781.2" cy="1249.3" r="3.4" fill="url(#sB)"/><circle cx="1787.8" cy="1249.0" r="3.5" fill="url(#sB)"/><circle cx="1800.0" cy="1250.6" r="3.2" fill="url(#sB)"/><circle cx="1807.1" cy="1250.4" r="3.2" fill="url(#sB)"/><circle cx="1566.4" cy="1254.7" r="3.0" fill="url(#sA)"/><circle cx="1573.1" cy="1254.9" r="3.0" fill="url(#sA)"/><circle cx="1579.0" cy="1255.9" r="3.2" fill="url(#sB)"/><circle cx="1585.6" cy="1256.3" r="3.0" fill="url(#sA)"/><circle cx="1591.8" cy="1255.0" r="2.9" fill="url(#sA)"/><circle cx="1597.4" cy="1254.5" r="3.5" fill="url(#sA)"/><circle cx="1604.5" cy="1256.1" r="2.7" fill="url(#sA)"/><circle cx="1610.9" cy="1255.3" r="2.6" fill="url(#sA)"/><circle cx="1617.8" cy="1255.6" r="2.6" fill="url(#sB)"/><circle cx="1623.3" cy="1255.0" r="3.2" fill="url(#sB)"/><circle cx="1630.8" cy="1254.6" r="2.7" fill="url(#sA)"/><circle cx="1636.7" cy="1255.7" r="2.6" fill="url(#sC)"/><circle cx="1643.0" cy="1255.8" r="2.9" fill="url(#sC)"/><circle cx="1649.9" cy="1254.5" r="2.9" fill="url(#sB)"/><circle cx="1655.5" cy="1255.0" r="3.4" fill="url(#sA)"/><circle cx="1661.8" cy="1255.2" r="3.4" fill="url(#sB)"/><circle cx="1667.8" cy="1255.6" r="3.0" fill="url(#sA)"/><circle cx="1674.7" cy="1254.8" r="3.4" fill="url(#sA)"/><circle cx="1680.8" cy="1255.3" r="2.9" fill="url(#sA)"/><circle cx="1687.7" cy="1255.6" r="2.8" fill="url(#sC)"/><circle cx="1695.2" cy="1255.4" r="3.4" fill="url(#sB)"/><circle cx="1700.7" cy="1254.6" r="3.1" fill="url(#sC)"/><circle cx="1706.1" cy="1254.4" r="3.0" fill="url(#sA)"/><circle cx="1713.7" cy="1254.6" r="3.2" fill="url(#sB)"/><circle cx="1719.7" cy="1256.1" r="3.2" fill="url(#sA)"/><circle cx="1725.7" cy="1256.4" r="2.6" fill="url(#sA)"/><circle cx="1731.7" cy="1254.8" r="3.4" fill="url(#sA)"/><circle cx="1739.5" cy="1256.1" r="2.7" fill="url(#sB)"/><circle cx="1745.1" cy="1255.7" r="2.9" fill="url(#sA)"/><circle cx="1751.7" cy="1255.6" r="3.1" fill="url(#sC)"/><circle cx="1758.0" cy="1256.0" r="3.3" fill="url(#sA)"/><circle cx="1765.3" cy="1255.2" r="3.5" fill="url(#sC)"/><circle cx="1770.3" cy="1254.9" r="3.2" fill="url(#sA)"/><circle cx="1778.0" cy="1256.3" r="3.1" fill="url(#sA)"/><circle cx="1783.4" cy="1255.6" r="2.6" fill="url(#sB)"/><circle cx="1789.8" cy="1255.9" r="2.7" fill="url(#sA)"/><circle cx="1797.0" cy="1256.3" r="3.2" fill="url(#sB)"/><circle cx="1803.5" cy="1255.4" r="2.6" fill="url(#sA)"/><circle cx="1809.8" cy="1254.5" r="3.1" fill="url(#sA)"/><circle cx="1562.8" cy="1260.4" r="2.7" fill="url(#sB)"/><circle cx="1569.5" cy="1260.2" r="2.9" fill="url(#sA)"/><circle cx="1575.3" cy="1261.7" r="2.8" fill="url(#sA)"/><circle cx="1583.0" cy="1261.8" r="3.0" fill="url(#sB)"/><circle cx="1588.2" cy="1261.4" r="2.6" fill="url(#sB)"/><circle cx="1594.6" cy="1260.6" r="3.3" fill="url(#sA)"/><circle cx="1601.3" cy="1260.1" r="3.2" fill="url(#sA)"/><circle cx="1608.7" cy="1261.9" r="3.0" fill="url(#sA)"/><circle cx="1614.2" cy="1261.6" r="2.8" fill="url(#sA)"/><circle cx="1621.3" cy="1261.6" r="3.2" fill="url(#sC)"/><circle cx="1627.8" cy="1261.7" r="2.7" fill="url(#sB)"/><circle cx="1633.7" cy="1260.0" r="3.3" fill="url(#sA)"/><circle cx="1639.3" cy="1261.6" r="3.0" fill="url(#sA)"/><circle cx="1645.4" cy="1261.4" r="3.1" fill="url(#sB)"/><circle cx="1653.3" cy="1260.4" r="2.9" fill="url(#sC)"/><circle cx="1658.3" cy="1260.6" r="3.3" fill="url(#sA)"/><circle cx="1665.8" cy="1261.7" r="3.0" fill="url(#sA)"/><circle cx="1671.9" cy="1260.3" r="2.7" fill="url(#sA)"/><circle cx="1678.6" cy="1261.2" r="3.3" fill="url(#sA)"/><circle cx="1683.7" cy="1260.2" r="3.1" fill="url(#sC)"/><circle cx="1691.0" cy="1261.8" r="3.0" fill="url(#sA)"/><circle cx="1698.1" cy="1260.4" r="3.2" fill="url(#sB)"/><circle cx="1702.9" cy="1261.6" r="2.8" fill="url(#sA)"/><circle cx="1710.7" cy="1261.1" r="3.3" fill="url(#sA)"/><circle cx="1715.6" cy="1262.0" r="2.9" fill="url(#sB)"/><circle cx="1723.7" cy="1260.7" r="2.6" fill="url(#sA)"/><circle cx="1729.2" cy="1260.0" r="3.3" fill="url(#sA)"/><circle cx="1735.6" cy="1260.3" r="2.8" fill="url(#sB)"/><circle cx="1742.1" cy="1261.8" r="3.5" fill="url(#sA)"/><circle cx="1748.3" cy="1260.9" r="3.2" fill="url(#sB)"/><circle cx="1755.5" cy="1260.6" r="3.4" fill="url(#sC)"/><circle cx="1761.0" cy="1260.7" r="2.7" fill="url(#sA)"/><circle cx="1768.8" cy="1260.5" r="3.2" fill="url(#sC)"/><circle cx="1774.4" cy="1261.5" r="2.8" fill="url(#sA)"/><circle cx="1781.0" cy="1261.9" r="2.6" fill="url(#sC)"/><circle cx="1786.5" cy="1261.0" r="3.1" fill="url(#sA)"/><circle cx="1793.7" cy="1261.1" r="2.6" fill="url(#sC)"/><circle cx="1799.9" cy="1260.3" r="3.2" fill="url(#sA)"/><circle cx="1806.8" cy="1261.2" r="2.8" fill="url(#sB)"/><circle cx="1565.3" cy="1267.2" r="3.3" fill="url(#sC)"/><circle cx="1571.9" cy="1266.3" r="3.2" fill="url(#sB)"/><circle cx="1578.1" cy="1265.8" r="3.3" fill="url(#sA)"/><circle cx="1590.9" cy="1265.8" r="3.3" fill="url(#sA)"/><circle cx="1597.6" cy="1266.3" r="2.7" fill="url(#sB)"/><circle cx="1604.1" cy="1266.0" r="3.2" fill="url(#sA)"/><circle cx="1611.7" cy="1266.5" r="3.2" fill="url(#sC)"/><circle cx="1624.4" cy="1266.7" r="3.4" fill="url(#sA)"/><circle cx="1630.1" cy="1267.0" r="2.8" fill="url(#sA)"/><circle cx="1643.7" cy="1266.0" r="3.1" fill="url(#sA)"/><circle cx="1649.0" cy="1266.8" r="3.2" fill="url(#sA)"/><circle cx="1662.4" cy="1267.0" r="2.8" fill="url(#sB)"/><circle cx="1667.8" cy="1266.0" r="3.4" fill="url(#sB)"/><circle cx="1674.7" cy="1266.6" r="2.8" fill="url(#sB)"/><circle cx="1681.8" cy="1266.1" r="2.8" fill="url(#sB)"/><circle cx="1688.0" cy="1266.5" r="3.0" fill="url(#sA)"/><circle cx="1693.2" cy="1265.9" r="2.8" fill="url(#sC)"/><circle cx="1700.6" cy="1266.1" r="3.4" fill="url(#sB)"/><circle cx="1707.9" cy="1267.3" r="3.2" fill="url(#sC)"/><circle cx="1712.7" cy="1267.3" r="3.5" fill="url(#sA)"/><circle cx="1720.0" cy="1267.0" r="3.0" fill="url(#sB)"/><circle cx="1726.1" cy="1265.8" r="2.7" fill="url(#sA)"/><circle cx="1732.4" cy="1267.2" r="3.1" fill="url(#sC)"/><circle cx="1740.0" cy="1265.8" r="3.1" fill="url(#sB)"/><circle cx="1745.9" cy="1266.3" r="2.8" fill="url(#sB)"/><circle cx="1752.1" cy="1266.0" r="2.7" fill="url(#sA)"/><circle cx="1759.0" cy="1267.4" r="2.9" fill="url(#sB)"/><circle cx="1765.4" cy="1266.0" r="2.7" fill="url(#sC)"/><circle cx="1770.8" cy="1266.2" r="2.6" fill="url(#sB)"/><circle cx="1777.0" cy="1265.6" r="2.8" fill="url(#sA)"/><circle cx="1784.6" cy="1266.6" r="2.8" fill="url(#sA)"/><circle cx="1790.8" cy="1266.0" r="3.4" fill="url(#sA)"/><circle cx="1796.6" cy="1266.1" r="3.5" fill="url(#sA)"/><circle cx="1803.1" cy="1267.2" r="3.5" fill="url(#sC)"/><circle cx="1808.8" cy="1265.9" r="3.3" fill="url(#sC)"/><circle cx="1563.0" cy="1271.7" r="2.9" fill="url(#sA)"/><circle cx="1569.8" cy="1271.5" r="2.8" fill="url(#sC)"/><circle cx="1575.7" cy="1271.8" r="3.4" fill="url(#sB)"/><circle cx="1581.4" cy="1273.0" r="3.2" fill="url(#sA)"/><circle cx="1589.5" cy="1272.1" r="3.2" fill="url(#sB)"/><circle cx="1595.8" cy="1271.3" r="2.8" fill="url(#sB)"/><circle cx="1600.6" cy="1272.4" r="2.7" fill="url(#sA)"/><circle cx="1608.0" cy="1271.3" r="3.1" fill="url(#sA)"/><circle cx="1614.5" cy="1272.5" r="2.7" fill="url(#sC)"/><circle cx="1620.7" cy="1272.7" r="2.7" fill="url(#sB)"/><circle cx="1627.6" cy="1272.6" r="2.8" fill="url(#sB)"/><circle cx="1634.3" cy="1272.3" r="2.8" fill="url(#sB)"/><circle cx="1640.2" cy="1272.7" r="2.6" fill="url(#sA)"/><circle cx="1646.9" cy="1272.9" r="3.0" fill="url(#sC)"/><circle cx="1652.5" cy="1273.2" r="2.7" fill="url(#sC)"/><circle cx="1659.7" cy="1272.3" r="2.8" fill="url(#sA)"/><circle cx="1666.3" cy="1272.0" r="2.8" fill="url(#sA)"/><circle cx="1672.5" cy="1271.3" r="3.4" fill="url(#sA)"/><circle cx="1678.9" cy="1271.4" r="3.0" fill="url(#sA)"/><circle cx="1683.9" cy="1272.6" r="3.1" fill="url(#sB)"/><circle cx="1691.9" cy="1272.6" r="3.1" fill="url(#sA)"/><circle cx="1697.1" cy="1272.2" r="3.3" fill="url(#sA)"/><circle cx="1704.4" cy="1272.8" r="2.7" fill="url(#sA)"/><circle cx="1709.9" cy="1272.6" r="3.1" fill="url(#sA)"/><circle cx="1716.9" cy="1271.6" r="3.2" fill="url(#sC)"/><circle cx="1722.4" cy="1271.3" r="3.2" fill="url(#sA)"/><circle cx="1729.9" cy="1272.0" r="3.2" fill="url(#sA)"/><circle cx="1736.2" cy="1271.4" r="2.8" fill="url(#sA)"/><circle cx="1742.6" cy="1272.6" r="2.9" fill="url(#sB)"/><circle cx="1748.3" cy="1271.6" r="3.1" fill="url(#sA)"/><circle cx="1755.4" cy="1273.0" r="2.9" fill="url(#sA)"/><circle cx="1760.7" cy="1272.4" r="2.7" fill="url(#sC)"/><circle cx="1768.1" cy="1272.7" r="3.3" fill="url(#sC)"/><circle cx="1775.0" cy="1272.8" r="2.6" fill="url(#sB)"/><circle cx="1780.1" cy="1271.3" r="2.7" fill="url(#sA)"/><circle cx="1786.9" cy="1271.3" r="3.4" fill="url(#sC)"/><circle cx="1793.3" cy="1271.2" r="2.7" fill="url(#sB)"/><circle cx="1798.8" cy="1272.0" r="2.6" fill="url(#sC)"/><circle cx="1805.7" cy="1271.4" r="2.6" fill="url(#sA)"/><circle cx="1565.5" cy="1278.7" r="3.4" fill="url(#sB)"/><circle cx="1572.2" cy="1278.1" r="2.8" fill="url(#sA)"/><circle cx="1578.4" cy="1277.7" r="3.2" fill="url(#sC)"/><circle cx="1584.5" cy="1277.4" r="2.8" fill="url(#sA)"/><circle cx="1592.8" cy="1277.3" r="3.0" fill="url(#sB)"/><circle cx="1598.3" cy="1277.2" r="2.7" fill="url(#sB)"/><circle cx="1605.0" cy="1278.1" r="3.0" fill="url(#sA)"/><circle cx="1610.1" cy="1278.3" r="3.1" fill="url(#sC)"/><circle cx="1617.9" cy="1278.8" r="3.4" fill="url(#sB)"/><circle cx="1622.8" cy="1278.1" r="3.1" fill="url(#sA)"/><circle cx="1629.5" cy="1277.7" r="3.0" fill="url(#sB)"/><circle cx="1636.0" cy="1278.3" r="2.6" fill="url(#sB)"/><circle cx="1643.4" cy="1278.3" r="3.0" fill="url(#sB)"/><circle cx="1650.2" cy="1278.6" r="3.0" fill="url(#sB)"/><circle cx="1656.3" cy="1277.7" r="3.0" fill="url(#sA)"/><circle cx="1662.1" cy="1277.1" r="2.8" fill="url(#sB)"/><circle cx="1669.6" cy="1277.7" r="3.1" fill="url(#sB)"/><circle cx="1680.9" cy="1277.9" r="3.5" fill="url(#sC)"/><circle cx="1688.7" cy="1277.8" r="3.4" fill="url(#sA)"/><circle cx="1694.9" cy="1278.2" r="2.7" fill="url(#sB)"/><circle cx="1701.3" cy="1277.0" r="3.4" fill="url(#sA)"/><circle cx="1707.4" cy="1277.5" r="3.3" fill="url(#sB)"/><circle cx="1714.1" cy="1278.3" r="3.3" fill="url(#sA)"/><circle cx="1719.6" cy="1278.2" r="3.1" fill="url(#sA)"/><circle cx="1726.8" cy="1278.7" r="3.1" fill="url(#sC)"/><circle cx="1732.7" cy="1277.6" r="3.4" fill="url(#sA)"/><circle cx="1738.9" cy="1278.7" r="3.2" fill="url(#sB)"/><circle cx="1745.7" cy="1278.7" r="3.5" fill="url(#sC)"/><circle cx="1751.6" cy="1278.3" r="2.8" fill="url(#sA)"/><circle cx="1759.2" cy="1277.1" r="2.6" fill="url(#sC)"/><circle cx="1765.2" cy="1278.5" r="3.4" fill="url(#sB)"/><circle cx="1771.6" cy="1277.9" r="2.8" fill="url(#sC)"/><circle cx="1778.3" cy="1278.2" r="3.1" fill="url(#sB)"/><circle cx="1783.7" cy="1278.6" r="2.9" fill="url(#sB)"/><circle cx="1791.1" cy="1277.7" r="2.7" fill="url(#sB)"/><circle cx="1795.7" cy="1277.8" r="3.2" fill="url(#sB)"/><circle cx="1802.1" cy="1277.9" r="2.7" fill="url(#sA)"/><circle cx="1810.1" cy="1278.6" r="2.9" fill="url(#sC)"/><circle cx="1563.1" cy="1283.7" r="2.9" fill="url(#sA)"/><circle cx="1570.0" cy="1283.0" r="2.9" fill="url(#sB)"/><circle cx="1576.4" cy="1283.2" r="2.9" fill="url(#sA)"/><circle cx="1582.7" cy="1283.2" r="3.1" fill="url(#sC)"/><circle cx="1588.4" cy="1283.0" r="3.4" fill="url(#sA)"/><circle cx="1594.5" cy="1283.7" r="2.7" fill="url(#sB)"/><circle cx="1602.0" cy="1283.6" r="3.0" fill="url(#sA)"/><circle cx="1607.7" cy="1283.1" r="3.1" fill="url(#sA)"/><circle cx="1614.6" cy="1284.2" r="2.6" fill="url(#sA)"/><circle cx="1621.5" cy="1283.2" r="2.8" fill="url(#sC)"/><circle cx="1626.4" cy="1284.1" r="3.3" fill="url(#sC)"/><circle cx="1634.3" cy="1283.6" r="3.4" fill="url(#sB)"/><circle cx="1639.9" cy="1284.2" r="2.8" fill="url(#sB)"/><circle cx="1646.8" cy="1282.8" r="2.8" fill="url(#sA)"/><circle cx="1653.5" cy="1282.5" r="3.2" fill="url(#sA)"/><circle cx="1660.0" cy="1284.3" r="3.1" fill="url(#sA)"/><circle cx="1664.9" cy="1284.0" r="3.4" fill="url(#sA)"/><circle cx="1672.2" cy="1283.5" r="2.8" fill="url(#sA)"/><circle cx="1678.0" cy="1283.9" r="3.2" fill="url(#sB)"/><circle cx="1684.7" cy="1283.6" r="3.3" fill="url(#sB)"/><circle cx="1691.2" cy="1283.4" r="2.8" fill="url(#sC)"/><circle cx="1696.4" cy="1283.3" r="3.0" fill="url(#sB)"/><circle cx="1704.8" cy="1283.2" r="2.8" fill="url(#sA)"/><circle cx="1709.9" cy="1283.7" r="3.2" fill="url(#sA)"/><circle cx="1715.9" cy="1282.7" r="2.7" fill="url(#sA)"/><circle cx="1722.8" cy="1282.7" r="3.4" fill="url(#sA)"/><circle cx="1728.7" cy="1283.9" r="3.5" fill="url(#sB)"/><circle cx="1735.4" cy="1284.3" r="2.8" fill="url(#sA)"/><circle cx="1741.7" cy="1284.3" r="3.2" fill="url(#sB)"/><circle cx="1749.5" cy="1283.0" r="2.9" fill="url(#sA)"/><circle cx="1755.8" cy="1283.0" r="3.4" fill="url(#sC)"/><circle cx="1761.5" cy="1282.4" r="3.3" fill="url(#sA)"/><circle cx="1768.4" cy="1284.0" r="3.1" fill="url(#sB)"/><circle cx="1773.8" cy="1283.1" r="2.7" fill="url(#sB)"/><circle cx="1779.9" cy="1283.6" r="3.2" fill="url(#sA)"/><circle cx="1786.3" cy="1282.7" r="3.1" fill="url(#sA)"/><circle cx="1792.6" cy="1283.4" r="3.1" fill="url(#sA)"/><circle cx="1800.0" cy="1283.2" r="3.1" fill="url(#sC)"/><circle cx="1806.9" cy="1283.8" r="3.3" fill="url(#sA)"/><circle cx="1565.9" cy="1289.2" r="2.6" fill="url(#sB)"/><circle cx="1572.8" cy="1288.6" r="2.6" fill="url(#sB)"/><circle cx="1586.0" cy="1288.9" r="2.9" fill="url(#sB)"/><circle cx="1592.1" cy="1289.3" r="3.4" fill="url(#sA)"/><circle cx="1598.3" cy="1288.7" r="3.0" fill="url(#sC)"/><circle cx="1603.8" cy="1289.2" r="2.6" fill="url(#sC)"/><circle cx="1610.6" cy="1289.4" r="2.9" fill="url(#sB)"/><circle cx="1616.9" cy="1288.1" r="3.5" fill="url(#sA)"/><circle cx="1624.5" cy="1288.9" r="3.0" fill="url(#sC)"/><circle cx="1630.0" cy="1288.5" r="3.0" fill="url(#sC)"/><circle cx="1637.6" cy="1288.8" r="3.1" fill="url(#sA)"/><circle cx="1643.3" cy="1288.9" r="2.9" fill="url(#sA)"/><circle cx="1649.7" cy="1289.5" r="2.8" fill="url(#sA)"/><circle cx="1654.9" cy="1288.8" r="2.6" fill="url(#sA)"/><circle cx="1662.0" cy="1289.5" r="3.0" fill="url(#sA)"/><circle cx="1669.4" cy="1289.6" r="3.0" fill="url(#sC)"/><circle cx="1674.1" cy="1289.5" r="3.4" fill="url(#sB)"/><circle cx="1687.9" cy="1289.6" r="2.9" fill="url(#sC)"/><circle cx="1694.0" cy="1288.4" r="3.4" fill="url(#sA)"/><circle cx="1699.7" cy="1288.6" r="2.8" fill="url(#sC)"/><circle cx="1706.7" cy="1288.5" r="3.1" fill="url(#sA)"/><circle cx="1713.7" cy="1289.0" r="3.5" fill="url(#sA)"/><circle cx="1718.8" cy="1289.4" r="3.0" fill="url(#sB)"/><circle cx="1725.3" cy="1289.0" r="3.2" fill="url(#sA)"/><circle cx="1732.2" cy="1289.7" r="2.8" fill="url(#sB)"/><circle cx="1739.2" cy="1289.1" r="3.3" fill="url(#sB)"/><circle cx="1750.9" cy="1288.9" r="3.2" fill="url(#sA)"/><circle cx="1758.8" cy="1288.2" r="3.2" fill="url(#sB)"/><circle cx="1764.2" cy="1289.0" r="2.7" fill="url(#sB)"/><circle cx="1770.4" cy="1288.3" r="3.2" fill="url(#sB)"/><circle cx="1777.1" cy="1289.1" r="2.7" fill="url(#sB)"/><circle cx="1783.7" cy="1288.8" r="3.1" fill="url(#sA)"/><circle cx="1789.3" cy="1289.4" r="3.2" fill="url(#sA)"/><circle cx="1796.4" cy="1289.0" r="3.4" fill="url(#sC)"/><circle cx="1803.0" cy="1289.2" r="2.8" fill="url(#sA)"/><circle cx="1810.2" cy="1289.7" r="2.7" fill="url(#sA)"/><circle cx="1563.4" cy="1294.7" r="2.7" fill="url(#sB)"/><circle cx="1569.2" cy="1295.5" r="3.2" fill="url(#sA)"/><circle cx="1575.5" cy="1294.2" r="3.3" fill="url(#sA)"/><circle cx="1582.4" cy="1295.6" r="2.8" fill="url(#sC)"/><circle cx="1588.8" cy="1294.4" r="3.5" fill="url(#sA)"/><circle cx="1594.4" cy="1295.1" r="2.6" fill="url(#sC)"/><circle cx="1601.9" cy="1295.4" r="2.8" fill="url(#sB)"/><circle cx="1607.2" cy="1295.2" r="2.8" fill="url(#sA)"/><circle cx="1614.3" cy="1294.1" r="2.8" fill="url(#sA)"/><circle cx="1621.4" cy="1294.3" r="3.4" fill="url(#sC)"/><circle cx="1626.6" cy="1294.4" r="3.2" fill="url(#sA)"/><circle cx="1633.3" cy="1294.5" r="3.0" fill="url(#sA)"/><circle cx="1639.6" cy="1294.2" r="3.0" fill="url(#sA)"/><circle cx="1646.1" cy="1295.3" r="3.1" fill="url(#sA)"/><circle cx="1652.4" cy="1294.8" r="2.9" fill="url(#sA)"/><circle cx="1658.3" cy="1295.0" r="2.8" fill="url(#sC)"/><circle cx="1672.2" cy="1293.8" r="3.3" fill="url(#sB)"/><circle cx="1678.2" cy="1294.5" r="2.9" fill="url(#sB)"/><circle cx="1684.9" cy="1295.4" r="3.1" fill="url(#sC)"/><circle cx="1691.4" cy="1294.4" r="2.8" fill="url(#sB)"/><circle cx="1697.2" cy="1294.5" r="3.4" fill="url(#sA)"/><circle cx="1702.8" cy="1294.3" r="2.8" fill="url(#sA)"/><circle cx="1710.1" cy="1295.4" r="3.1" fill="url(#sC)"/><circle cx="1717.3" cy="1295.4" r="2.7" fill="url(#sB)"/><circle cx="1723.6" cy="1294.9" r="2.9" fill="url(#sA)"/><circle cx="1728.9" cy="1295.5" r="3.3" fill="url(#sC)"/><circle cx="1735.1" cy="1294.9" r="2.6" fill="url(#sB)"/><circle cx="1741.9" cy="1295.2" r="3.3" fill="url(#sB)"/><circle cx="1748.6" cy="1293.8" r="2.7" fill="url(#sA)"/><circle cx="1755.9" cy="1293.7" r="3.3" fill="url(#sC)"/><circle cx="1762.3" cy="1295.5" r="3.1" fill="url(#sB)"/><circle cx="1767.1" cy="1294.6" r="3.4" fill="url(#sC)"/><circle cx="1779.9" cy="1294.4" r="2.9" fill="url(#sA)"/><circle cx="1787.8" cy="1294.0" r="3.2" fill="url(#sC)"/><circle cx="1793.4" cy="1294.3" r="3.3" fill="url(#sA)"/><circle cx="1799.8" cy="1294.5" r="2.9" fill="url(#sC)"/><circle cx="1805.9" cy="1295.4" r="3.4" fill="url(#sC)"/><circle cx="1566.7" cy="1301.2" r="3.0" fill="url(#sB)"/><circle cx="1571.9" cy="1300.1" r="3.3" fill="url(#sC)"/><circle cx="1578.7" cy="1300.0" r="2.7" fill="url(#sA)"/><circle cx="1591.6" cy="1299.8" r="3.1" fill="url(#sB)"/><circle cx="1598.8" cy="1300.5" r="3.2" fill="url(#sB)"/><circle cx="1604.7" cy="1300.0" r="3.3" fill="url(#sA)"/><circle cx="1611.2" cy="1299.9" r="3.4" fill="url(#sB)"/><circle cx="1617.6" cy="1299.5" r="3.1" fill="url(#sC)"/><circle cx="1624.4" cy="1299.8" r="3.4" fill="url(#sB)"/><circle cx="1630.6" cy="1300.9" r="2.6" fill="url(#sB)"/><circle cx="1636.4" cy="1300.6" r="2.6" fill="url(#sC)"/><circle cx="1643.9" cy="1299.8" r="2.8" fill="url(#sB)"/><circle cx="1649.3" cy="1300.2" r="2.9" fill="url(#sB)"/><circle cx="1655.8" cy="1299.4" r="2.7" fill="url(#sA)"/><circle cx="1662.4" cy="1300.8" r="3.4" fill="url(#sA)"/><circle cx="1668.0" cy="1301.2" r="3.0" fill="url(#sA)"/><circle cx="1675.0" cy="1299.3" r="3.0" fill="url(#sA)"/><circle cx="1681.8" cy="1301.0" r="2.9" fill="url(#sC)"/><circle cx="1687.9" cy="1299.9" r="3.0" fill="url(#sB)"/><circle cx="1695.0" cy="1300.6" r="3.2" fill="url(#sA)"/><circle cx="1700.3" cy="1300.3" r="3.1" fill="url(#sA)"/><circle cx="1706.4" cy="1300.6" r="3.4" fill="url(#sB)"/><circle cx="1712.7" cy="1299.3" r="2.8" fill="url(#sB)"/><circle cx="1718.9" cy="1300.1" r="2.9" fill="url(#sB)"/><circle cx="1726.3" cy="1300.7" r="3.1" fill="url(#sB)"/><circle cx="1732.8" cy="1299.9" r="2.6" fill="url(#sC)"/><circle cx="1739.6" cy="1300.2" r="3.0" fill="url(#sB)"/><circle cx="1746.3" cy="1300.9" r="3.2" fill="url(#sA)"/><circle cx="1752.1" cy="1300.4" r="2.9" fill="url(#sB)"/><circle cx="1758.7" cy="1300.4" r="3.5" fill="url(#sB)"/><circle cx="1764.7" cy="1300.7" r="2.8" fill="url(#sA)"/><circle cx="1777.9" cy="1299.7" r="2.7" fill="url(#sC)"/><circle cx="1784.6" cy="1299.9" r="3.3" fill="url(#sC)"/><circle cx="1789.4" cy="1299.7" r="2.7" fill="url(#sB)"/><circle cx="1803.8" cy="1300.3" r="2.9" fill="url(#sA)"/><circle cx="1809.3" cy="1299.6" r="2.7" fill="url(#sA)"/><circle cx="1563.2" cy="1306.5" r="2.7" fill="url(#sC)"/><circle cx="1568.7" cy="1305.1" r="2.9" fill="url(#sB)"/><circle cx="1575.7" cy="1305.5" r="3.1" fill="url(#sB)"/><circle cx="1583.0" cy="1306.0" r="3.1" fill="url(#sB)"/><circle cx="1589.4" cy="1305.9" r="2.8" fill="url(#sC)"/><circle cx="1595.3" cy="1306.7" r="3.1" fill="url(#sA)"/><circle cx="1601.0" cy="1305.8" r="3.0" fill="url(#sB)"/><circle cx="1608.4" cy="1305.7" r="3.5" fill="url(#sA)"/><circle cx="1614.6" cy="1306.2" r="3.0" fill="url(#sB)"/><circle cx="1619.9" cy="1306.3" r="3.2" fill="url(#sA)"/><circle cx="1626.6" cy="1305.8" r="3.2" fill="url(#sA)"/><circle cx="1633.4" cy="1306.8" r="3.5" fill="url(#sB)"/><circle cx="1639.2" cy="1305.2" r="3.1" fill="url(#sB)"/><circle cx="1647.0" cy="1306.1" r="3.0" fill="url(#sB)"/><circle cx="1652.9" cy="1305.5" r="2.8" fill="url(#sC)"/><circle cx="1659.8" cy="1305.6" r="3.3" fill="url(#sA)"/><circle cx="1666.3" cy="1305.0" r="3.5" fill="url(#sC)"/><circle cx="1671.6" cy="1304.9" r="3.5" fill="url(#sC)"/><circle cx="1678.4" cy="1306.6" r="2.9" fill="url(#sB)"/><circle cx="1685.5" cy="1306.7" r="3.2" fill="url(#sA)"/><circle cx="1697.9" cy="1304.9" r="3.2" fill="url(#sB)"/><circle cx="1703.5" cy="1305.7" r="3.1" fill="url(#sA)"/><circle cx="1709.4" cy="1306.4" r="3.3" fill="url(#sC)"/><circle cx="1717.0" cy="1305.5" r="3.0" fill="url(#sB)"/><circle cx="1722.9" cy="1305.8" r="2.8" fill="url(#sA)"/><circle cx="1729.4" cy="1305.8" r="3.5" fill="url(#sA)"/><circle cx="1736.3" cy="1306.5" r="2.8" fill="url(#sB)"/><circle cx="1741.8" cy="1305.3" r="3.4" fill="url(#sB)"/><circle cx="1748.2" cy="1304.8" r="2.9" fill="url(#sA)"/><circle cx="1754.4" cy="1306.0" r="3.0" fill="url(#sA)"/><circle cx="1760.9" cy="1306.3" r="3.5" fill="url(#sB)"/><circle cx="1767.6" cy="1306.3" r="2.9" fill="url(#sA)"/><circle cx="1774.7" cy="1306.6" r="2.8" fill="url(#sB)"/><circle cx="1779.9" cy="1305.4" r="2.8" fill="url(#sA)"/><circle cx="1787.2" cy="1305.8" r="3.0" fill="url(#sC)"/><circle cx="1794.3" cy="1306.1" r="3.0" fill="url(#sB)"/><circle cx="1799.5" cy="1305.3" r="3.4" fill="url(#sA)"/><circle cx="1806.4" cy="1306.4" r="3.3" fill="url(#sA)"/><circle cx="1567.1" cy="1311.6" r="2.6" fill="url(#sA)"/><circle cx="1572.1" cy="1311.9" r="3.2" fill="url(#sA)"/><circle cx="1578.6" cy="1310.7" r="3.3" fill="url(#sA)"/><circle cx="1585.1" cy="1312.0" r="2.8" fill="url(#sA)"/><circle cx="1597.5" cy="1311.8" r="3.2" fill="url(#sA)"/><circle cx="1604.2" cy="1312.1" r="3.1" fill="url(#sA)"/><circle cx="1611.9" cy="1311.8" r="2.8" fill="url(#sB)"/><circle cx="1617.3" cy="1311.9" r="2.7" fill="url(#sA)"/><circle cx="1624.7" cy="1312.1" r="3.3" fill="url(#sC)"/><circle cx="1629.5" cy="1312.1" r="3.1" fill="url(#sB)"/><circle cx="1635.8" cy="1311.1" r="2.8" fill="url(#sA)"/><circle cx="1642.7" cy="1312.2" r="3.4" fill="url(#sC)"/><circle cx="1648.7" cy="1312.3" r="2.8" fill="url(#sC)"/><circle cx="1655.4" cy="1311.7" r="2.8" fill="url(#sB)"/><circle cx="1661.5" cy="1310.9" r="3.3" fill="url(#sA)"/><circle cx="1668.1" cy="1311.8" r="3.5" fill="url(#sB)"/><circle cx="1675.2" cy="1311.8" r="3.2" fill="url(#sB)"/><circle cx="1680.6" cy="1312.3" r="2.7" fill="url(#sC)"/><circle cx="1687.8" cy="1311.1" r="2.7" fill="url(#sB)"/><circle cx="1693.5" cy="1310.7" r="2.7" fill="url(#sB)"/><circle cx="1699.8" cy="1310.9" r="2.8" fill="url(#sB)"/><circle cx="1706.2" cy="1311.0" r="3.5" fill="url(#sA)"/><circle cx="1719.6" cy="1310.9" r="2.9" fill="url(#sB)"/><circle cx="1725.8" cy="1310.5" r="2.7" fill="url(#sA)"/><circle cx="1731.7" cy="1310.8" r="2.7" fill="url(#sA)"/><circle cx="1739.9" cy="1311.1" r="2.8" fill="url(#sA)"/><circle cx="1745.4" cy="1311.0" r="3.2" fill="url(#sC)"/><circle cx="1752.4" cy="1311.7" r="3.1" fill="url(#sB)"/><circle cx="1758.1" cy="1311.1" r="3.1" fill="url(#sB)"/><circle cx="1765.2" cy="1310.4" r="3.4" fill="url(#sA)"/><circle cx="1770.9" cy="1312.0" r="3.4" fill="url(#sA)"/><circle cx="1776.7" cy="1311.4" r="3.2" fill="url(#sA)"/><circle cx="1782.9" cy="1311.1" r="3.0" fill="url(#sA)"/><circle cx="1790.8" cy="1311.5" r="2.8" fill="url(#sB)"/><circle cx="1796.0" cy="1311.7" r="3.1" fill="url(#sB)"/><circle cx="1803.9" cy="1312.3" r="3.2" fill="url(#sA)"/><circle cx="1809.6" cy="1310.7" r="2.8" fill="url(#sC)"/><circle cx="1562.1" cy="1316.5" r="3.1" fill="url(#sA)"/><circle cx="1569.0" cy="1317.5" r="3.3" fill="url(#sB)"/><circle cx="1576.2" cy="1317.4" r="2.6" fill="url(#sA)"/><circle cx="1581.8" cy="1317.6" r="3.2" fill="url(#sB)"/><circle cx="1589.1" cy="1316.9" r="3.1" fill="url(#sA)"/><circle cx="1594.2" cy="1316.8" r="3.2" fill="url(#sB)"/><circle cx="1602.3" cy="1317.9" r="2.7" fill="url(#sC)"/><circle cx="1607.0" cy="1317.2" r="3.2" fill="url(#sA)"/><circle cx="1614.0" cy="1316.3" r="3.4" fill="url(#sA)"/><circle cx="1621.6" cy="1317.5" r="2.8" fill="url(#sC)"/><circle cx="1627.2" cy="1317.7" r="3.5" fill="url(#sA)"/><circle cx="1633.5" cy="1316.8" r="3.4" fill="url(#sB)"/><circle cx="1639.3" cy="1316.1" r="2.9" fill="url(#sC)"/><circle cx="1645.9" cy="1316.5" r="2.8" fill="url(#sB)"/><circle cx="1653.4" cy="1317.7" r="3.3" fill="url(#sA)"/><circle cx="1658.0" cy="1317.6" r="2.9" fill="url(#sB)"/><circle cx="1666.2" cy="1317.5" r="2.6" fill="url(#sA)"/><circle cx="1672.8" cy="1317.3" r="2.8" fill="url(#sA)"/><circle cx="1685.2" cy="1317.7" r="3.0" fill="url(#sB)"/><circle cx="1691.1" cy="1317.5" r="2.6" fill="url(#sA)"/><circle cx="1698.1" cy="1316.3" r="2.8" fill="url(#sA)"/><circle cx="1704.7" cy="1318.0" r="2.8" fill="url(#sA)"/><circle cx="1710.3" cy="1317.5" r="2.7" fill="url(#sA)"/><circle cx="1716.6" cy="1317.8" r="3.1" fill="url(#sA)"/><circle cx="1723.6" cy="1316.7" r="2.6" fill="url(#sC)"/><circle cx="1729.1" cy="1316.3" r="2.6" fill="url(#sB)"/><circle cx="1736.7" cy="1317.6" r="3.4" fill="url(#sB)"/><circle cx="1741.6" cy="1317.7" r="3.3" fill="url(#sC)"/><circle cx="1748.6" cy="1317.8" r="2.6" fill="url(#sB)"/><circle cx="1754.2" cy="1316.5" r="3.0" fill="url(#sB)"/><circle cx="1760.9" cy="1316.2" r="2.7" fill="url(#sC)"/><circle cx="1767.4" cy="1316.6" r="2.7" fill="url(#sA)"/><circle cx="1775.0" cy="1317.1" r="2.8" fill="url(#sC)"/><circle cx="1781.1" cy="1317.9" r="3.3" fill="url(#sB)"/><circle cx="1786.6" cy="1317.1" r="3.1" fill="url(#sB)"/><circle cx="1793.3" cy="1316.0" r="2.9" fill="url(#sB)"/><circle cx="1800.3" cy="1317.1" r="3.4" fill="url(#sB)"/><circle cx="1806.5" cy="1316.4" r="3.0" fill="url(#sA)"/><circle cx="1566.2" cy="1323.6" r="3.2" fill="url(#sA)"/><circle cx="1572.9" cy="1323.0" r="3.1" fill="url(#sC)"/><circle cx="1578.7" cy="1323.5" r="3.0" fill="url(#sB)"/><circle cx="1585.2" cy="1321.6" r="2.8" fill="url(#sA)"/><circle cx="1591.5" cy="1321.9" r="3.4" fill="url(#sA)"/><circle cx="1597.9" cy="1323.1" r="2.7" fill="url(#sB)"/><circle cx="1610.6" cy="1322.3" r="2.6" fill="url(#sA)"/><circle cx="1617.4" cy="1322.9" r="3.3" fill="url(#sA)"/><circle cx="1624.3" cy="1322.7" r="3.3" fill="url(#sB)"/><circle cx="1629.6" cy="1322.4" r="2.8" fill="url(#sA)"/><circle cx="1642.0" cy="1322.1" r="3.1" fill="url(#sB)"/><circle cx="1649.0" cy="1323.2" r="3.1" fill="url(#sC)"/><circle cx="1655.8" cy="1321.8" r="3.2" fill="url(#sB)"/><circle cx="1661.9" cy="1322.1" r="3.0" fill="url(#sB)"/><circle cx="1668.8" cy="1322.6" r="3.3" fill="url(#sB)"/><circle cx="1674.7" cy="1322.6" r="3.1" fill="url(#sB)"/><circle cx="1681.7" cy="1323.1" r="2.9" fill="url(#sB)"/><circle cx="1688.2" cy="1322.1" r="2.8" fill="url(#sA)"/><circle cx="1694.9" cy="1322.9" r="3.1" fill="url(#sA)"/><circle cx="1699.6" cy="1323.3" r="2.9" fill="url(#sB)"/><circle cx="1707.5" cy="1323.3" r="2.7" fill="url(#sA)"/><circle cx="1713.1" cy="1323.4" r="3.4" fill="url(#sB)"/><circle cx="1719.7" cy="1322.7" r="3.1" fill="url(#sA)"/><circle cx="1725.6" cy="1323.0" r="3.3" fill="url(#sA)"/><circle cx="1731.9" cy="1323.3" r="3.0" fill="url(#sC)"/><circle cx="1738.5" cy="1322.9" r="3.4" fill="url(#sA)"/><circle cx="1745.3" cy="1321.8" r="2.7" fill="url(#sA)"/><circle cx="1751.7" cy="1322.2" r="2.9" fill="url(#sA)"/><circle cx="1758.5" cy="1322.1" r="2.7" fill="url(#sA)"/><circle cx="1764.9" cy="1321.8" r="2.7" fill="url(#sA)"/><circle cx="1770.3" cy="1323.4" r="2.7" fill="url(#sB)"/><circle cx="1776.6" cy="1323.0" r="3.5" fill="url(#sC)"/><circle cx="1783.8" cy="1322.4" r="3.0" fill="url(#sB)"/><circle cx="1790.4" cy="1322.4" r="3.4" fill="url(#sB)"/><circle cx="1795.8" cy="1322.2" r="2.9" fill="url(#sC)"/><circle cx="1802.5" cy="1322.4" r="2.7" fill="url(#sB)"/><circle cx="1810.1" cy="1323.5" r="2.9" fill="url(#sC)"/><circle cx="1563.8" cy="1327.8" r="2.9" fill="url(#sA)"/><circle cx="1568.9" cy="1328.5" r="3.2" fill="url(#sB)"/><circle cx="1576.1" cy="1329.1" r="3.4" fill="url(#sB)"/><circle cx="1581.2" cy="1327.4" r="3.4" fill="url(#sC)"/><circle cx="1588.9" cy="1328.4" r="2.9" fill="url(#sA)"/><circle cx="1595.7" cy="1327.6" r="3.0" fill="url(#sB)"/><circle cx="1601.7" cy="1327.8" r="3.2" fill="url(#sC)"/><circle cx="1607.0" cy="1329.1" r="2.7" fill="url(#sB)"/><circle cx="1614.1" cy="1329.1" r="2.7" fill="url(#sB)"/><circle cx="1620.2" cy="1328.2" r="2.8" fill="url(#sA)"/><circle cx="1627.3" cy="1327.8" r="3.3" fill="url(#sB)"/><circle cx="1634.4" cy="1328.9" r="3.2" fill="url(#sA)"/><circle cx="1639.1" cy="1328.4" r="3.1" fill="url(#sB)"/><circle cx="1646.2" cy="1328.7" r="3.3" fill="url(#sA)"/><circle cx="1651.6" cy="1328.6" r="2.9" fill="url(#sA)"/><circle cx="1659.7" cy="1328.5" r="3.4" fill="url(#sA)"/><circle cx="1664.7" cy="1327.3" r="3.4" fill="url(#sA)"/><circle cx="1672.5" cy="1327.3" r="2.9" fill="url(#sB)"/><circle cx="1678.9" cy="1328.5" r="3.2" fill="url(#sA)"/><circle cx="1684.3" cy="1327.6" r="3.4" fill="url(#sB)"/><circle cx="1691.3" cy="1329.2" r="3.0" fill="url(#sC)"/><circle cx="1697.5" cy="1327.7" r="2.6" fill="url(#sA)"/><circle cx="1703.6" cy="1328.7" r="2.6" fill="url(#sA)"/><circle cx="1710.6" cy="1327.4" r="3.3" fill="url(#sA)"/><circle cx="1716.3" cy="1328.0" r="3.2" fill="url(#sA)"/><circle cx="1722.8" cy="1328.6" r="2.7" fill="url(#sB)"/><circle cx="1729.2" cy="1328.2" r="2.7" fill="url(#sB)"/><circle cx="1736.7" cy="1328.9" r="2.8" fill="url(#sB)"/><circle cx="1741.4" cy="1328.6" r="3.2" fill="url(#sA)"/><circle cx="1755.0" cy="1328.5" r="2.8" fill="url(#sB)"/><circle cx="1761.1" cy="1329.1" r="3.1" fill="url(#sA)"/><circle cx="1774.1" cy="1328.1" r="2.8" fill="url(#sA)"/><circle cx="1781.2" cy="1327.8" r="3.4" fill="url(#sA)"/><circle cx="1786.5" cy="1327.5" r="3.3" fill="url(#sB)"/><circle cx="1793.0" cy="1327.3" r="3.3" fill="url(#sB)"/><circle cx="1799.6" cy="1327.5" r="2.9" fill="url(#sA)"/><circle cx="1805.3" cy="1329.0" r="3.2" fill="url(#sB)"/><circle cx="1566.4" cy="1334.1" r="2.7" fill="url(#sB)"/><circle cx="1573.2" cy="1334.0" r="2.6" fill="url(#sB)"/><circle cx="1579.7" cy="1334.1" r="2.9" fill="url(#sA)"/><circle cx="1585.6" cy="1333.1" r="2.8" fill="url(#sA)"/><circle cx="1592.2" cy="1334.0" r="3.3" fill="url(#sA)"/><circle cx="1598.6" cy="1333.1" r="2.7" fill="url(#sA)"/><circle cx="1604.0" cy="1333.3" r="3.1" fill="url(#sA)"/><circle cx="1611.0" cy="1333.6" r="3.3" fill="url(#sB)"/><circle cx="1618.2" cy="1333.1" r="3.2" fill="url(#sA)"/><circle cx="1623.4" cy="1333.1" r="2.8" fill="url(#sC)"/><circle cx="1629.3" cy="1334.7" r="3.1" fill="url(#sA)"/><circle cx="1635.7" cy="1333.3" r="2.7" fill="url(#sA)"/><circle cx="1643.2" cy="1333.4" r="3.0" fill="url(#sA)"/><circle cx="1649.0" cy="1333.9" r="3.0" fill="url(#sB)"/><circle cx="1655.7" cy="1334.1" r="2.9" fill="url(#sA)"/><circle cx="1661.4" cy="1333.8" r="2.9" fill="url(#sA)"/><circle cx="1668.2" cy="1332.9" r="2.8" fill="url(#sC)"/><circle cx="1674.3" cy="1333.3" r="3.0" fill="url(#sA)"/><circle cx="1680.7" cy="1334.5" r="2.9" fill="url(#sB)"/><circle cx="1694.0" cy="1334.6" r="2.6" fill="url(#sC)"/><circle cx="1700.8" cy="1333.7" r="3.3" fill="url(#sC)"/><circle cx="1707.3" cy="1334.7" r="2.6" fill="url(#sA)"/><circle cx="1713.2" cy="1333.7" r="3.0" fill="url(#sA)"/><circle cx="1719.8" cy="1334.4" r="3.5" fill="url(#sC)"/><circle cx="1732.7" cy="1333.5" r="2.8" fill="url(#sA)"/><circle cx="1739.4" cy="1333.7" r="3.3" fill="url(#sB)"/><circle cx="1746.2" cy="1334.4" r="3.3" fill="url(#sB)"/><circle cx="1751.6" cy="1334.5" r="2.7" fill="url(#sA)"/><circle cx="1758.5" cy="1332.9" r="2.9" fill="url(#sA)"/><circle cx="1763.8" cy="1334.1" r="2.8" fill="url(#sB)"/><circle cx="1771.2" cy="1333.2" r="3.3" fill="url(#sA)"/><circle cx="1778.2" cy="1333.7" r="3.1" fill="url(#sA)"/><circle cx="1784.4" cy="1333.2" r="3.3" fill="url(#sB)"/><circle cx="1790.0" cy="1333.8" r="3.4" fill="url(#sA)"/><circle cx="1802.8" cy="1333.0" r="3.4" fill="url(#sB)"/><circle cx="1810.1" cy="1334.0" r="2.8" fill="url(#sB)"/><circle cx="1562.3" cy="1340.1" r="3.2" fill="url(#sB)"/><circle cx="1569.2" cy="1338.9" r="2.8" fill="url(#sC)"/><circle cx="1575.4" cy="1338.4" r="3.5" fill="url(#sA)"/><circle cx="1581.8" cy="1339.3" r="2.7" fill="url(#sB)"/><circle cx="1594.2" cy="1339.7" r="3.4" fill="url(#sC)"/><circle cx="1602.0" cy="1338.8" r="3.3" fill="url(#sB)"/><circle cx="1608.3" cy="1339.2" r="3.1" fill="url(#sA)"/><circle cx="1613.8" cy="1338.7" r="2.7" fill="url(#sA)"/><circle cx="1620.2" cy="1339.5" r="3.2" fill="url(#sA)"/><circle cx="1627.8" cy="1340.2" r="3.2" fill="url(#sB)"/><circle cx="1634.0" cy="1339.5" r="3.2" fill="url(#sB)"/><circle cx="1640.6" cy="1340.0" r="3.4" fill="url(#sA)"/><circle cx="1645.6" cy="1340.3" r="3.0" fill="url(#sB)"/><circle cx="1651.7" cy="1340.1" r="2.9" fill="url(#sA)"/><circle cx="1659.2" cy="1340.3" r="2.9" fill="url(#sA)"/><circle cx="1665.9" cy="1339.6" r="3.2" fill="url(#sA)"/><circle cx="1672.5" cy="1338.9" r="3.4" fill="url(#sB)"/><circle cx="1678.9" cy="1340.3" r="3.4" fill="url(#sB)"/><circle cx="1684.8" cy="1338.7" r="3.4" fill="url(#sB)"/><circle cx="1698.0" cy="1340.2" r="2.6" fill="url(#sA)"/><circle cx="1703.1" cy="1340.1" r="3.0" fill="url(#sB)"/><circle cx="1709.7" cy="1339.4" r="2.9" fill="url(#sA)"/><circle cx="1716.0" cy="1339.1" r="3.4" fill="url(#sA)"/><circle cx="1722.2" cy="1339.1" r="3.4" fill="url(#sB)"/><circle cx="1729.2" cy="1340.0" r="3.2" fill="url(#sA)"/><circle cx="1735.2" cy="1338.6" r="3.0" fill="url(#sA)"/><circle cx="1741.8" cy="1340.3" r="2.6" fill="url(#sB)"/><circle cx="1748.8" cy="1339.0" r="2.7" fill="url(#sB)"/><circle cx="1754.2" cy="1339.2" r="3.3" fill="url(#sB)"/><circle cx="1761.6" cy="1339.0" r="2.8" fill="url(#sA)"/><circle cx="1767.5" cy="1338.9" r="3.4" fill="url(#sA)"/><circle cx="1773.7" cy="1339.5" r="2.9" fill="url(#sA)"/><circle cx="1780.7" cy="1339.2" r="3.2" fill="url(#sA)"/><circle cx="1787.5" cy="1340.4" r="2.9" fill="url(#sB)"/><circle cx="1793.2" cy="1339.1" r="2.9" fill="url(#sB)"/><circle cx="1800.2" cy="1339.7" r="3.4" fill="url(#sB)"/><circle cx="1806.7" cy="1339.8" r="3.4" fill="url(#sA)"/><circle cx="1565.3" cy="1344.6" r="3.1" fill="url(#sB)"/><circle cx="1573.3" cy="1345.4" r="2.8" fill="url(#sC)"/><circle cx="1578.7" cy="1344.3" r="3.0" fill="url(#sA)"/><circle cx="1585.6" cy="1345.9" r="2.8" fill="url(#sB)"/><circle cx="1592.4" cy="1344.0" r="3.5" fill="url(#sA)"/><circle cx="1598.0" cy="1345.7" r="2.7" fill="url(#sA)"/><circle cx="1611.2" cy="1345.4" r="3.0" fill="url(#sB)"/><circle cx="1617.0" cy="1344.1" r="2.6" fill="url(#sB)"/><circle cx="1623.7" cy="1344.9" r="3.0" fill="url(#sC)"/><circle cx="1630.9" cy="1345.1" r="3.2" fill="url(#sA)"/><circle cx="1637.5" cy="1344.3" r="2.8" fill="url(#sB)"/><circle cx="1644.0" cy="1345.4" r="2.9" fill="url(#sA)"/><circle cx="1648.4" cy="1345.7" r="2.9" fill="url(#sA)"/><circle cx="1655.1" cy="1345.6" r="2.8" fill="url(#sA)"/><circle cx="1661.7" cy="1345.0" r="3.2" fill="url(#sA)"/><circle cx="1668.5" cy="1344.5" r="3.3" fill="url(#sB)"/><circle cx="1675.3" cy="1345.3" r="2.9" fill="url(#sA)"/><circle cx="1680.8" cy="1344.6" r="2.7" fill="url(#sB)"/><circle cx="1687.0" cy="1344.1" r="2.8" fill="url(#sA)"/><circle cx="1694.4" cy="1344.5" r="2.7" fill="url(#sB)"/><circle cx="1700.5" cy="1344.6" r="3.1" fill="url(#sB)"/><circle cx="1706.7" cy="1345.5" r="3.2" fill="url(#sC)"/><circle cx="1714.0" cy="1345.5" r="3.2" fill="url(#sA)"/><circle cx="1725.7" cy="1344.7" r="3.0" fill="url(#sA)"/><circle cx="1732.0" cy="1345.3" r="3.3" fill="url(#sC)"/><circle cx="1738.1" cy="1344.5" r="3.1" fill="url(#sB)"/><circle cx="1746.1" cy="1344.1" r="3.2" fill="url(#sA)"/><circle cx="1752.8" cy="1344.9" r="3.0" fill="url(#sC)"/><circle cx="1758.8" cy="1345.1" r="3.0" fill="url(#sA)"/><circle cx="1764.1" cy="1345.3" r="2.8" fill="url(#sB)"/><circle cx="1770.6" cy="1344.1" r="2.8" fill="url(#sB)"/><circle cx="1777.8" cy="1345.3" r="3.0" fill="url(#sA)"/><circle cx="1784.1" cy="1345.4" r="2.7" fill="url(#sB)"/><circle cx="1790.1" cy="1345.8" r="3.2" fill="url(#sA)"/><circle cx="1795.8" cy="1344.3" r="2.7" fill="url(#sC)"/><circle cx="1803.8" cy="1344.1" r="3.1" fill="url(#sB)"/><circle cx="1808.9" cy="1345.0" r="3.1" fill="url(#sB)"/><circle cx="1562.7" cy="1351.0" r="2.6" fill="url(#sC)"/><circle cx="1569.3" cy="1350.6" r="3.0" fill="url(#sA)"/><circle cx="1575.2" cy="1351.5" r="2.8" fill="url(#sA)"/><circle cx="1581.6" cy="1349.9" r="3.2" fill="url(#sB)"/><circle cx="1589.2" cy="1351.3" r="3.3" fill="url(#sA)"/><circle cx="1594.2" cy="1350.8" r="3.3" fill="url(#sB)"/><circle cx="1602.1" cy="1350.6" r="3.4" fill="url(#sA)"/><circle cx="1607.4" cy="1350.0" r="3.2" fill="url(#sA)"/><circle cx="1620.7" cy="1351.2" r="3.3" fill="url(#sB)"/><circle cx="1627.8" cy="1351.5" r="3.3" fill="url(#sA)"/><circle cx="1633.1" cy="1351.3" r="3.1" fill="url(#sB)"/><circle cx="1640.6" cy="1350.3" r="3.4" fill="url(#sB)"/><circle cx="1646.5" cy="1350.7" r="2.6" fill="url(#sC)"/><circle cx="1652.7" cy="1349.6" r="3.1" fill="url(#sA)"/><circle cx="1660.0" cy="1350.8" r="3.2" fill="url(#sB)"/><circle cx="1665.8" cy="1351.0" r="2.8" fill="url(#sA)"/><circle cx="1672.6" cy="1350.9" r="2.8" fill="url(#sC)"/><circle cx="1677.5" cy="1351.2" r="3.0" fill="url(#sA)"/><circle cx="1684.6" cy="1350.0" r="3.5" fill="url(#sA)"/><circle cx="1691.3" cy="1350.5" r="3.1" fill="url(#sB)"/><circle cx="1697.8" cy="1350.3" r="3.0" fill="url(#sC)"/><circle cx="1703.6" cy="1351.3" r="3.4" fill="url(#sB)"/><circle cx="1710.0" cy="1351.3" r="2.8" fill="url(#sB)"/><circle cx="1716.9" cy="1350.0" r="3.1" fill="url(#sA)"/><circle cx="1722.9" cy="1350.9" r="3.1" fill="url(#sA)"/><circle cx="1735.0" cy="1350.5" r="3.0" fill="url(#sA)"/><circle cx="1742.4" cy="1350.2" r="2.9" fill="url(#sB)"/><circle cx="1749.5" cy="1350.3" r="2.8" fill="url(#sC)"/><circle cx="1754.1" cy="1350.2" r="2.8" fill="url(#sA)"/><circle cx="1762.2" cy="1351.5" r="2.7" fill="url(#sB)"/><circle cx="1767.6" cy="1350.4" r="2.8" fill="url(#sB)"/><circle cx="1773.3" cy="1351.0" r="3.1" fill="url(#sC)"/><circle cx="1781.3" cy="1350.7" r="3.2" fill="url(#sA)"/><circle cx="1786.3" cy="1350.4" r="2.6" fill="url(#sA)"/><circle cx="1792.9" cy="1351.1" r="3.1" fill="url(#sA)"/><circle cx="1800.1" cy="1351.5" r="3.1" fill="url(#sA)"/><circle cx="1806.0" cy="1350.7" r="3.5" fill="url(#sA)"/><circle cx="1566.9" cy="1356.4" r="3.0" fill="url(#sB)"/><circle cx="1572.5" cy="1355.5" r="2.7" fill="url(#sB)"/><circle cx="1579.2" cy="1356.9" r="3.1" fill="url(#sC)"/><circle cx="1585.0" cy="1356.7" r="2.9" fill="url(#sA)"/><circle cx="1591.6" cy="1357.2" r="2.7" fill="url(#sB)"/><circle cx="1598.9" cy="1355.9" r="2.9" fill="url(#sB)"/><circle cx="1603.7" cy="1355.8" r="2.9" fill="url(#sA)"/><circle cx="1610.7" cy="1356.6" r="2.8" fill="url(#sA)"/><circle cx="1616.6" cy="1356.1" r="2.9" fill="url(#sA)"/><circle cx="1622.8" cy="1355.5" r="2.8" fill="url(#sB)"/><circle cx="1636.4" cy="1355.7" r="2.9" fill="url(#sB)"/><circle cx="1642.9" cy="1355.5" r="3.3" fill="url(#sA)"/><circle cx="1649.3" cy="1355.6" r="2.7" fill="url(#sB)"/><circle cx="1655.6" cy="1356.9" r="3.4" fill="url(#sB)"/><circle cx="1662.3" cy="1356.3" r="3.4" fill="url(#sB)"/><circle cx="1668.4" cy="1355.5" r="3.3" fill="url(#sB)"/><circle cx="1674.3" cy="1357.2" r="3.4" fill="url(#sB)"/><circle cx="1681.5" cy="1356.1" r="2.8" fill="url(#sB)"/><circle cx="1688.5" cy="1356.7" r="3.2" fill="url(#sA)"/><circle cx="1694.8" cy="1356.4" r="2.9" fill="url(#sB)"/><circle cx="1700.1" cy="1355.2" r="2.8" fill="url(#sA)"/><circle cx="1707.4" cy="1356.2" r="3.3" fill="url(#sA)"/><circle cx="1712.5" cy="1355.9" r="3.3" fill="url(#sC)"/><circle cx="1719.2" cy="1356.2" r="3.1" fill="url(#sA)"/><circle cx="1726.2" cy="1355.3" r="3.4" fill="url(#sA)"/><circle cx="1731.9" cy="1355.8" r="3.1" fill="url(#sA)"/><circle cx="1738.4" cy="1356.3" r="3.0" fill="url(#sB)"/><circle cx="1745.0" cy="1355.9" r="3.4" fill="url(#sA)"/><circle cx="1751.7" cy="1356.5" r="2.9" fill="url(#sA)"/><circle cx="1757.6" cy="1356.1" r="3.2" fill="url(#sA)"/><circle cx="1765.0" cy="1356.4" r="3.1" fill="url(#sC)"/><circle cx="1771.4" cy="1357.1" r="2.9" fill="url(#sC)"/><circle cx="1777.2" cy="1356.3" r="2.7" fill="url(#sB)"/><circle cx="1784.6" cy="1357.1" r="2.7" fill="url(#sC)"/><circle cx="1790.9" cy="1355.4" r="3.1" fill="url(#sA)"/><circle cx="1797.6" cy="1357.0" r="3.1" fill="url(#sA)"/><circle cx="1803.4" cy="1355.6" r="2.8" fill="url(#sB)"/><circle cx="1810.1" cy="1355.6" r="3.0" fill="url(#sA)"/><circle cx="1562.9" cy="1362.0" r="3.4" fill="url(#sC)"/><circle cx="1568.5" cy="1362.7" r="3.5" fill="url(#sA)"/><circle cx="1575.4" cy="1361.4" r="2.9" fill="url(#sA)"/><circle cx="1583.0" cy="1362.6" r="2.8" fill="url(#sB)"/><circle cx="1588.9" cy="1362.2" r="3.2" fill="url(#sC)"/><circle cx="1595.2" cy="1362.0" r="2.9" fill="url(#sA)"/><circle cx="1600.9" cy="1362.7" r="2.9" fill="url(#sB)"/><circle cx="1607.7" cy="1361.5" r="2.7" fill="url(#sB)"/><circle cx="1614.9" cy="1361.7" r="3.2" fill="url(#sB)"/><circle cx="1620.6" cy="1362.1" r="3.5" fill="url(#sA)"/><circle cx="1627.4" cy="1361.6" r="3.4" fill="url(#sA)"/><circle cx="1633.6" cy="1361.5" r="2.6" fill="url(#sA)"/><circle cx="1640.6" cy="1360.9" r="3.2" fill="url(#sC)"/><circle cx="1646.4" cy="1361.0" r="3.0" fill="url(#sA)"/><circle cx="1652.3" cy="1362.5" r="3.2" fill="url(#sA)"/><circle cx="1658.4" cy="1362.4" r="3.3" fill="url(#sA)"/><circle cx="1666.1" cy="1361.9" r="3.0" fill="url(#sB)"/><circle cx="1672.4" cy="1362.5" r="3.2" fill="url(#sA)"/><circle cx="1677.4" cy="1362.4" r="3.3" fill="url(#sA)"/><circle cx="1684.7" cy="1360.9" r="3.4" fill="url(#sB)"/><circle cx="1690.6" cy="1360.8" r="2.8" fill="url(#sA)"/><circle cx="1698.2" cy="1361.8" r="2.7" fill="url(#sB)"/><circle cx="1703.0" cy="1362.3" r="3.1" fill="url(#sA)"/><circle cx="1710.2" cy="1361.9" r="2.8" fill="url(#sB)"/><circle cx="1717.2" cy="1362.5" r="2.6" fill="url(#sA)"/><circle cx="1722.3" cy="1362.0" r="3.1" fill="url(#sA)"/><circle cx="1729.8" cy="1362.5" r="3.0" fill="url(#sC)"/><circle cx="1735.6" cy="1362.3" r="3.0" fill="url(#sA)"/><circle cx="1741.9" cy="1361.8" r="2.7" fill="url(#sC)"/><circle cx="1748.4" cy="1361.0" r="3.0" fill="url(#sA)"/><circle cx="1755.2" cy="1360.8" r="3.0" fill="url(#sA)"/><circle cx="1761.5" cy="1362.5" r="3.1" fill="url(#sB)"/><circle cx="1767.6" cy="1362.3" r="2.9" fill="url(#sC)"/><circle cx="1774.7" cy="1362.4" r="3.3" fill="url(#sA)"/><circle cx="1780.5" cy="1361.4" r="2.7" fill="url(#sB)"/><circle cx="1787.8" cy="1362.2" r="2.7" fill="url(#sA)"/><circle cx="1793.7" cy="1361.0" r="3.0" fill="url(#sB)"/><circle cx="1798.8" cy="1362.2" r="2.8" fill="url(#sB)"/><circle cx="1805.8" cy="1361.8" r="2.9" fill="url(#sB)"/><circle cx="1565.9" cy="1367.3" r="3.3" fill="url(#sB)"/><circle cx="1571.8" cy="1366.8" r="3.5" fill="url(#sA)"/><circle cx="1578.7" cy="1367.4" r="2.8" fill="url(#sB)"/><circle cx="1585.2" cy="1368.3" r="3.0" fill="url(#sB)"/><circle cx="1592.4" cy="1366.6" r="2.7" fill="url(#sC)"/><circle cx="1597.5" cy="1366.6" r="2.9" fill="url(#sA)"/><circle cx="1605.6" cy="1366.9" r="3.4" fill="url(#sA)"/><circle cx="1610.5" cy="1368.1" r="3.2" fill="url(#sA)"/><circle cx="1617.4" cy="1368.2" r="3.4" fill="url(#sA)"/><circle cx="1623.4" cy="1367.8" r="3.1" fill="url(#sA)"/><circle cx="1629.3" cy="1367.1" r="3.2" fill="url(#sA)"/><circle cx="1636.1" cy="1367.3" r="2.9" fill="url(#sC)"/><circle cx="1642.0" cy="1368.2" r="2.7" fill="url(#sB)"/><circle cx="1654.9" cy="1366.8" r="3.3" fill="url(#sA)"/><circle cx="1662.3" cy="1367.8" r="3.2" fill="url(#sA)"/><circle cx="1669.5" cy="1366.5" r="2.7" fill="url(#sB)"/><circle cx="1675.6" cy="1367.0" r="3.5" fill="url(#sA)"/><circle cx="1682.2" cy="1366.5" r="3.4" fill="url(#sA)"/><circle cx="1687.9" cy="1366.7" r="2.6" fill="url(#sA)"/><circle cx="1694.5" cy="1368.1" r="2.8" fill="url(#sA)"/><circle cx="1701.0" cy="1367.0" r="3.1" fill="url(#sA)"/><circle cx="1707.2" cy="1368.2" r="3.1" fill="url(#sA)"/><circle cx="1713.5" cy="1367.5" r="2.9" fill="url(#sA)"/><circle cx="1720.8" cy="1366.9" r="2.9" fill="url(#sA)"/><circle cx="1727.1" cy="1367.1" r="2.7" fill="url(#sB)"/><circle cx="1732.4" cy="1367.6" r="3.2" fill="url(#sA)"/><circle cx="1738.3" cy="1368.0" r="2.8" fill="url(#sA)"/><circle cx="1746.3" cy="1368.1" r="2.6" fill="url(#sB)"/><circle cx="1752.2" cy="1367.1" r="2.6" fill="url(#sA)"/><circle cx="1758.7" cy="1366.9" r="3.5" fill="url(#sB)"/><circle cx="1765.4" cy="1366.6" r="3.4" fill="url(#sB)"/><circle cx="1771.6" cy="1368.3" r="3.3" fill="url(#sB)"/><circle cx="1776.6" cy="1367.6" r="3.0" fill="url(#sB)"/><circle cx="1784.2" cy="1367.4" r="2.7" fill="url(#sB)"/><circle cx="1789.8" cy="1367.3" r="3.2" fill="url(#sA)"/><circle cx="1795.8" cy="1366.9" r="2.6" fill="url(#sA)"/><circle cx="1809.0" cy="1368.3" r="2.7" fill="url(#sB)"/><circle cx="1564.0" cy="1372.5" r="2.9" fill="url(#sA)"/><circle cx="1569.9" cy="1373.2" r="3.2" fill="url(#sA)"/><circle cx="1575.0" cy="1373.1" r="2.8" fill="url(#sC)"/><circle cx="1583.0" cy="1372.6" r="2.8" fill="url(#sC)"/><circle cx="1589.1" cy="1372.2" r="2.8" fill="url(#sC)"/><circle cx="1595.2" cy="1372.8" r="2.8" fill="url(#sB)"/><circle cx="1601.4" cy="1373.9" r="2.8" fill="url(#sA)"/><circle cx="1607.7" cy="1372.4" r="3.3" fill="url(#sC)"/><circle cx="1615.0" cy="1373.5" r="2.7" fill="url(#sA)"/><circle cx="1620.3" cy="1372.4" r="3.4" fill="url(#sB)"/><circle cx="1627.6" cy="1373.8" r="3.2" fill="url(#sA)"/><circle cx="1633.5" cy="1372.4" r="2.8" fill="url(#sA)"/><circle cx="1640.3" cy="1372.1" r="3.0" fill="url(#sA)"/><circle cx="1646.8" cy="1373.9" r="2.9" fill="url(#sA)"/><circle cx="1653.0" cy="1372.1" r="3.0" fill="url(#sB)"/><circle cx="1659.8" cy="1372.8" r="2.7" fill="url(#sB)"/><circle cx="1664.8" cy="1372.5" r="3.3" fill="url(#sB)"/><circle cx="1672.6" cy="1373.2" r="2.7" fill="url(#sA)"/><circle cx="1677.5" cy="1372.7" r="2.8" fill="url(#sA)"/><circle cx="1684.2" cy="1373.2" r="3.0" fill="url(#sB)"/><circle cx="1696.5" cy="1372.1" r="2.7" fill="url(#sA)"/><circle cx="1703.5" cy="1372.3" r="2.7" fill="url(#sA)"/><circle cx="1710.6" cy="1373.3" r="2.9" fill="url(#sA)"/><circle cx="1716.9" cy="1372.7" r="3.0" fill="url(#sA)"/><circle cx="1722.5" cy="1372.4" r="3.1" fill="url(#sC)"/><circle cx="1729.9" cy="1373.0" r="2.9" fill="url(#sA)"/><circle cx="1735.0" cy="1372.6" r="2.6" fill="url(#sB)"/><circle cx="1742.8" cy="1373.6" r="2.8" fill="url(#sB)"/><circle cx="1749.5" cy="1372.6" r="3.1" fill="url(#sC)"/><circle cx="1755.3" cy="1373.0" r="2.6" fill="url(#sA)"/><circle cx="1760.7" cy="1373.1" r="2.7" fill="url(#sA)"/><circle cx="1768.5" cy="1373.8" r="3.0" fill="url(#sB)"/><circle cx="1774.6" cy="1373.2" r="3.2" fill="url(#sA)"/><circle cx="1780.7" cy="1372.5" r="2.9" fill="url(#sA)"/><circle cx="1787.9" cy="1373.3" r="2.6" fill="url(#sA)"/><circle cx="1792.6" cy="1372.6" r="3.1" fill="url(#sC)"/><circle cx="1799.7" cy="1372.1" r="2.7" fill="url(#sA)"/><circle cx="1807.0" cy="1372.9" r="3.4" fill="url(#sB)"/><circle cx="1565.7" cy="1379.0" r="3.5" fill="url(#sC)"/><circle cx="1572.3" cy="1378.2" r="2.7" fill="url(#sB)"/><circle cx="1579.2" cy="1378.3" r="2.9" fill="url(#sA)"/><circle cx="1584.7" cy="1378.2" r="3.3" fill="url(#sB)"/><circle cx="1591.0" cy="1379.2" r="2.7" fill="url(#sB)"/><circle cx="1598.6" cy="1377.7" r="2.7" fill="url(#sA)"/><circle cx="1605.5" cy="1378.4" r="3.4" fill="url(#sA)"/><circle cx="1611.3" cy="1379.6" r="3.2" fill="url(#sA)"/><circle cx="1616.9" cy="1379.5" r="3.2" fill="url(#sB)"/><circle cx="1623.2" cy="1379.4" r="2.8" fill="url(#sB)"/><circle cx="1630.3" cy="1379.1" r="3.3" fill="url(#sB)"/><circle cx="1637.0" cy="1379.2" r="2.8" fill="url(#sA)"/><circle cx="1643.1" cy="1379.2" r="3.4" fill="url(#sB)"/><circle cx="1648.9" cy="1378.1" r="3.4" fill="url(#sB)"/><circle cx="1656.1" cy="1378.6" r="2.7" fill="url(#sA)"/><circle cx="1661.9" cy="1379.0" r="3.5" fill="url(#sA)"/><circle cx="1667.7" cy="1378.0" r="3.4" fill="url(#sA)"/><circle cx="1676.0" cy="1377.6" r="3.3" fill="url(#sC)"/><circle cx="1681.5" cy="1379.0" r="2.6" fill="url(#sB)"/><circle cx="1687.5" cy="1378.4" r="2.7" fill="url(#sA)"/><circle cx="1694.2" cy="1379.3" r="3.0" fill="url(#sB)"/><circle cx="1701.2" cy="1379.3" r="2.9" fill="url(#sA)"/><circle cx="1707.6" cy="1378.5" r="3.2" fill="url(#sB)"/><circle cx="1714.3" cy="1377.9" r="2.7" fill="url(#sA)"/><circle cx="1720.0" cy="1378.1" r="3.0" fill="url(#sA)"/><circle cx="1725.5" cy="1378.6" r="3.4" fill="url(#sB)"/><circle cx="1732.9" cy="1378.3" r="3.0" fill="url(#sA)"/><circle cx="1739.4" cy="1379.3" r="2.8" fill="url(#sA)"/><circle cx="1745.5" cy="1378.8" r="3.2" fill="url(#sA)"/><circle cx="1752.7" cy="1378.7" r="2.6" fill="url(#sA)"/><circle cx="1757.9" cy="1379.2" r="3.2" fill="url(#sA)"/><circle cx="1764.5" cy="1378.7" r="3.4" fill="url(#sB)"/><circle cx="1770.4" cy="1377.9" r="3.0" fill="url(#sA)"/><circle cx="1777.4" cy="1378.3" r="3.2" fill="url(#sC)"/><circle cx="1783.5" cy="1378.9" r="2.8" fill="url(#sB)"/><circle cx="1790.8" cy="1378.4" r="3.0" fill="url(#sB)"/><circle cx="1797.4" cy="1378.5" r="3.3" fill="url(#sA)"/><circle cx="1803.4" cy="1378.1" r="3.3" fill="url(#sA)"/><circle cx="1808.8" cy="1378.8" r="3.0" fill="url(#sC)"/><circle cx="1563.7" cy="1385.0" r="3.4" fill="url(#sB)"/><circle cx="1569.6" cy="1384.1" r="2.9" fill="url(#sB)"/><circle cx="1575.5" cy="1384.8" r="3.4" fill="url(#sA)"/><circle cx="1582.7" cy="1384.1" r="3.0" fill="url(#sA)"/><circle cx="1589.4" cy="1385.1" r="3.2" fill="url(#sA)"/><circle cx="1594.9" cy="1384.7" r="3.4" fill="url(#sB)"/><circle cx="1601.3" cy="1383.3" r="3.1" fill="url(#sA)"/><circle cx="1607.5" cy="1383.8" r="3.5" fill="url(#sA)"/><circle cx="1613.4" cy="1384.6" r="2.7" fill="url(#sA)"/><circle cx="1620.0" cy="1384.1" r="3.1" fill="url(#sA)"/><circle cx="1626.9" cy="1384.4" r="3.0" fill="url(#sB)"/><circle cx="1632.4" cy="1383.3" r="3.5" fill="url(#sA)"/><circle cx="1640.2" cy="1383.4" r="3.2" fill="url(#sB)"/><circle cx="1646.2" cy="1385.1" r="3.1" fill="url(#sA)"/><circle cx="1651.6" cy="1384.9" r="3.2" fill="url(#sB)"/><circle cx="1659.5" cy="1384.5" r="3.1" fill="url(#sB)"/><circle cx="1665.2" cy="1383.8" r="3.1" fill="url(#sA)"/><circle cx="1671.5" cy="1385.0" r="3.1" fill="url(#sC)"/><circle cx="1678.8" cy="1384.2" r="3.3" fill="url(#sA)"/><circle cx="1684.9" cy="1384.8" r="2.8" fill="url(#sA)"/><circle cx="1690.7" cy="1384.5" r="2.8" fill="url(#sA)"/><circle cx="1704.7" cy="1384.3" r="3.1" fill="url(#sB)"/><circle cx="1710.1" cy="1385.1" r="3.3" fill="url(#sC)"/><circle cx="1716.0" cy="1383.4" r="2.8" fill="url(#sB)"/><circle cx="1723.3" cy="1383.7" r="3.5" fill="url(#sA)"/><circle cx="1730.0" cy="1384.4" r="3.2" fill="url(#sB)"/><circle cx="1735.8" cy="1383.7" r="3.4" fill="url(#sB)"/><circle cx="1742.3" cy="1384.9" r="2.7" fill="url(#sC)"/><circle cx="1749.5" cy="1384.6" r="3.3" fill="url(#sA)"/><circle cx="1754.4" cy="1384.5" r="3.4" fill="url(#sC)"/><circle cx="1760.7" cy="1384.7" r="3.3" fill="url(#sA)"/><circle cx="1768.0" cy="1384.0" r="3.4" fill="url(#sA)"/><circle cx="1775.0" cy="1384.7" r="3.2" fill="url(#sA)"/><circle cx="1781.1" cy="1384.3" r="3.2" fill="url(#sB)"/><circle cx="1787.9" cy="1384.7" r="3.5" fill="url(#sA)"/><circle cx="1792.7" cy="1385.2" r="3.4" fill="url(#sB)"/><circle cx="1799.6" cy="1384.5" r="2.6" fill="url(#sA)"/><circle cx="1566.4" cy="1389.9" r="3.4" fill="url(#sA)"/><circle cx="1573.5" cy="1390.2" r="3.3" fill="url(#sB)"/><circle cx="1578.5" cy="1389.0" r="3.0" fill="url(#sB)"/><circle cx="1585.2" cy="1390.4" r="2.9" fill="url(#sB)"/><circle cx="1592.2" cy="1390.6" r="2.7" fill="url(#sA)"/><circle cx="1598.0" cy="1389.2" r="2.8" fill="url(#sA)"/><circle cx="1603.7" cy="1389.8" r="3.1" fill="url(#sB)"/><circle cx="1610.9" cy="1390.0" r="2.8" fill="url(#sB)"/><circle cx="1617.9" cy="1389.5" r="3.1" fill="url(#sB)"/><circle cx="1623.3" cy="1390.1" r="2.8" fill="url(#sC)"/><circle cx="1630.4" cy="1389.2" r="3.3" fill="url(#sB)"/><circle cx="1636.7" cy="1389.9" r="3.1" fill="url(#sB)"/><circle cx="1643.0" cy="1390.4" r="2.9" fill="url(#sA)"/><circle cx="1655.9" cy="1389.6" r="3.2" fill="url(#sC)"/><circle cx="1662.0" cy="1389.5" r="2.8" fill="url(#sA)"/><circle cx="1668.3" cy="1389.3" r="2.7" fill="url(#sA)"/><circle cx="1675.4" cy="1390.7" r="3.4" fill="url(#sA)"/><circle cx="1681.8" cy="1390.7" r="2.8" fill="url(#sB)"/><circle cx="1688.8" cy="1390.7" r="3.0" fill="url(#sA)"/><circle cx="1693.4" cy="1389.2" r="2.8" fill="url(#sA)"/><circle cx="1700.8" cy="1390.0" r="3.5" fill="url(#sA)"/><circle cx="1706.3" cy="1389.1" r="3.0" fill="url(#sB)"/><circle cx="1713.0" cy="1390.0" r="3.4" fill="url(#sB)"/><circle cx="1720.8" cy="1389.4" r="2.8" fill="url(#sA)"/><circle cx="1725.8" cy="1388.8" r="2.9" fill="url(#sA)"/><circle cx="1731.8" cy="1389.5" r="2.8" fill="url(#sA)"/><circle cx="1739.9" cy="1390.3" r="2.7" fill="url(#sB)"/><circle cx="1745.4" cy="1390.7" r="3.2" fill="url(#sB)"/><circle cx="1752.7" cy="1390.7" r="3.5" fill="url(#sB)"/><circle cx="1757.7" cy="1389.6" r="2.9" fill="url(#sB)"/><circle cx="1764.5" cy="1390.3" r="3.2" fill="url(#sB)"/><circle cx="1770.6" cy="1389.3" r="3.0" fill="url(#sA)"/><circle cx="1777.9" cy="1390.0" r="3.5" fill="url(#sA)"/><circle cx="1783.0" cy="1389.0" r="3.3" fill="url(#sB)"/><circle cx="1790.6" cy="1389.5" r="3.0" fill="url(#sB)"/><circle cx="1796.1" cy="1389.7" r="3.2" fill="url(#sC)"/><circle cx="1802.6" cy="1389.8" r="3.3" fill="url(#sA)"/><circle cx="1809.2" cy="1389.9" r="3.2" fill="url(#sA)"/><circle cx="1562.0" cy="1396.4" r="2.7" fill="url(#sB)"/><circle cx="1568.9" cy="1395.9" r="2.7" fill="url(#sA)"/><circle cx="1575.1" cy="1395.2" r="2.9" fill="url(#sA)"/><circle cx="1582.5" cy="1396.4" r="3.4" fill="url(#sB)"/><circle cx="1589.6" cy="1395.0" r="2.7" fill="url(#sA)"/><circle cx="1595.2" cy="1396.2" r="2.9" fill="url(#sB)"/><circle cx="1601.0" cy="1394.7" r="2.7" fill="url(#sC)"/><circle cx="1608.8" cy="1394.7" r="2.7" fill="url(#sA)"/><circle cx="1614.4" cy="1394.6" r="3.3" fill="url(#sB)"/><circle cx="1621.1" cy="1394.6" r="3.1" fill="url(#sB)"/><circle cx="1627.7" cy="1395.2" r="3.3" fill="url(#sB)"/><circle cx="1634.2" cy="1395.4" r="3.1" fill="url(#sA)"/><circle cx="1639.9" cy="1394.6" r="2.9" fill="url(#sA)"/><circle cx="1647.1" cy="1395.6" r="3.2" fill="url(#sA)"/><circle cx="1653.1" cy="1396.1" r="3.4" fill="url(#sC)"/><circle cx="1658.4" cy="1394.6" r="2.8" fill="url(#sA)"/><circle cx="1666.2" cy="1396.2" r="3.1" fill="url(#sB)"/><circle cx="1671.9" cy="1396.1" r="3.1" fill="url(#sA)"/><circle cx="1679.2" cy="1395.3" r="3.5" fill="url(#sC)"/><circle cx="1683.7" cy="1396.2" r="2.7" fill="url(#sB)"/><circle cx="1690.0" cy="1394.6" r="3.3" fill="url(#sC)"/><circle cx="1696.6" cy="1394.8" r="2.8" fill="url(#sC)"/><circle cx="1709.8" cy="1395.7" r="3.2" fill="url(#sB)"/><circle cx="1715.7" cy="1395.8" r="3.3" fill="url(#sA)"/><circle cx="1722.4" cy="1395.2" r="2.9" fill="url(#sC)"/><circle cx="1729.3" cy="1394.6" r="3.1" fill="url(#sC)"/><circle cx="1735.5" cy="1396.2" r="3.4" fill="url(#sB)"/><circle cx="1743.0" cy="1394.9" r="3.5" fill="url(#sB)"/><circle cx="1749.1" cy="1394.5" r="3.1" fill="url(#sC)"/><circle cx="1754.2" cy="1395.6" r="2.8" fill="url(#sA)"/><circle cx="1761.3" cy="1396.0" r="3.3" fill="url(#sA)"/><circle cx="1767.9" cy="1396.0" r="3.2" fill="url(#sB)"/><circle cx="1774.5" cy="1394.5" r="2.9" fill="url(#sC)"/><circle cx="1780.7" cy="1396.2" r="3.5" fill="url(#sC)"/><circle cx="1787.3" cy="1394.6" r="3.0" fill="url(#sA)"/><circle cx="1794.3" cy="1394.8" r="3.4" fill="url(#sA)"/><circle cx="1800.6" cy="1394.8" r="2.7" fill="url(#sA)"/><circle cx="1806.6" cy="1394.9" r="3.5" fill="url(#sA)"/><circle cx="1567.0" cy="1401.5" r="2.7" fill="url(#sA)"/><circle cx="1572.7" cy="1401.2" r="3.5" fill="url(#sB)"/><circle cx="1579.2" cy="1400.3" r="3.3" fill="url(#sB)"/><circle cx="1586.2" cy="1401.9" r="3.0" fill="url(#sA)"/><circle cx="1591.2" cy="1401.7" r="3.3" fill="url(#sC)"/><circle cx="1597.8" cy="1400.3" r="3.0" fill="url(#sB)"/><circle cx="1605.0" cy="1401.2" r="2.8" fill="url(#sC)"/><circle cx="1610.6" cy="1400.6" r="2.9" fill="url(#sB)"/><circle cx="1616.7" cy="1400.5" r="2.8" fill="url(#sB)"/><circle cx="1624.7" cy="1401.1" r="2.9" fill="url(#sB)"/><circle cx="1630.4" cy="1400.1" r="3.1" fill="url(#sB)"/><circle cx="1636.4" cy="1401.0" r="3.5" fill="url(#sA)"/><circle cx="1643.0" cy="1401.8" r="2.9" fill="url(#sB)"/><circle cx="1648.7" cy="1400.8" r="3.0" fill="url(#sB)"/><circle cx="1656.1" cy="1401.8" r="2.6" fill="url(#sB)"/><circle cx="1662.2" cy="1400.3" r="2.8" fill="url(#sC)"/><circle cx="1667.7" cy="1401.9" r="2.8" fill="url(#sA)"/><circle cx="1674.2" cy="1401.8" r="2.8" fill="url(#sB)"/><circle cx="1682.0" cy="1401.8" r="2.8" fill="url(#sA)"/><circle cx="1687.0" cy="1401.4" r="2.9" fill="url(#sA)"/><circle cx="1693.8" cy="1401.2" r="3.2" fill="url(#sC)"/><circle cx="1700.4" cy="1401.4" r="3.2" fill="url(#sC)"/><circle cx="1706.6" cy="1401.9" r="3.2" fill="url(#sC)"/><circle cx="1712.5" cy="1400.4" r="2.7" fill="url(#sC)"/><circle cx="1719.9" cy="1401.3" r="3.5" fill="url(#sB)"/><circle cx="1725.9" cy="1401.7" r="3.1" fill="url(#sA)"/><circle cx="1731.9" cy="1401.0" r="3.1" fill="url(#sB)"/><circle cx="1740.0" cy="1401.3" r="3.4" fill="url(#sC)"/><circle cx="1746.0" cy="1401.5" r="2.9" fill="url(#sA)"/><circle cx="1751.0" cy="1401.8" r="3.4" fill="url(#sA)"/><circle cx="1758.5" cy="1401.6" r="2.7" fill="url(#sB)"/><circle cx="1764.8" cy="1400.7" r="3.2" fill="url(#sA)"/><circle cx="1770.1" cy="1400.3" r="2.6" fill="url(#sA)"/><circle cx="1777.4" cy="1400.3" r="3.1" fill="url(#sB)"/><circle cx="1783.8" cy="1400.7" r="2.9" fill="url(#sC)"/><circle cx="1790.6" cy="1401.0" r="2.7" fill="url(#sB)"/><circle cx="1797.3" cy="1400.3" r="3.4" fill="url(#sC)"/><circle cx="1802.5" cy="1401.7" r="2.7" fill="url(#sB)"/><circle cx="1808.5" cy="1401.7" r="3.4" fill="url(#sA)"/><circle cx="1563.5" cy="1406.3" r="3.3" fill="url(#sA)"/><circle cx="1568.4" cy="1407.2" r="3.1" fill="url(#sA)"/><circle cx="1576.2" cy="1406.5" r="3.1" fill="url(#sA)"/><circle cx="1583.1" cy="1406.6" r="3.4" fill="url(#sB)"/><circle cx="1589.2" cy="1406.8" r="3.3" fill="url(#sA)"/><circle cx="1594.5" cy="1406.4" r="3.2" fill="url(#sB)"/><circle cx="1602.0" cy="1406.4" r="3.2" fill="url(#sB)"/><circle cx="1608.1" cy="1406.8" r="2.6" fill="url(#sC)"/><circle cx="1615.0" cy="1406.7" r="2.7" fill="url(#sA)"/><circle cx="1621.4" cy="1406.5" r="3.2" fill="url(#sB)"/><circle cx="1627.4" cy="1407.6" r="2.6" fill="url(#sB)"/><circle cx="1634.2" cy="1407.0" r="3.4" fill="url(#sA)"/><circle cx="1639.5" cy="1405.8" r="3.5" fill="url(#sB)"/><circle cx="1646.2" cy="1407.5" r="3.0" fill="url(#sA)"/><circle cx="1653.4" cy="1407.2" r="3.1" fill="url(#sB)"/><circle cx="1658.3" cy="1407.1" r="2.9" fill="url(#sA)"/><circle cx="1664.7" cy="1406.2" r="3.5" fill="url(#sC)"/><circle cx="1672.0" cy="1407.5" r="3.2" fill="url(#sB)"/><circle cx="1677.3" cy="1406.9" r="2.8" fill="url(#sB)"/><circle cx="1683.9" cy="1407.2" r="3.2" fill="url(#sA)"/><circle cx="1691.2" cy="1405.8" r="3.1" fill="url(#sB)"/><circle cx="1696.9" cy="1406.4" r="2.8" fill="url(#sA)"/><circle cx="1704.3" cy="1405.7" r="2.8" fill="url(#sA)"/><circle cx="1709.2" cy="1405.7" r="3.3" fill="url(#sB)"/><circle cx="1715.6" cy="1405.9" r="3.3" fill="url(#sB)"/><circle cx="1722.2" cy="1407.0" r="3.4" fill="url(#sC)"/><circle cx="1729.1" cy="1405.9" r="2.9" fill="url(#sA)"/><circle cx="1735.1" cy="1405.9" r="2.9" fill="url(#sB)"/><circle cx="1741.8" cy="1407.1" r="3.2" fill="url(#sB)"/><circle cx="1747.9" cy="1405.7" r="3.0" fill="url(#sA)"/><circle cx="1754.2" cy="1406.3" r="3.2" fill="url(#sA)"/><circle cx="1762.4" cy="1407.1" r="3.4" fill="url(#sB)"/><circle cx="1767.4" cy="1407.1" r="3.3" fill="url(#sA)"/><circle cx="1773.5" cy="1406.8" r="2.8" fill="url(#sB)"/><circle cx="1780.2" cy="1407.0" r="3.5" fill="url(#sA)"/><circle cx="1787.7" cy="1407.2" r="3.4" fill="url(#sA)"/><circle cx="1793.8" cy="1407.4" r="3.2" fill="url(#sA)"/><circle cx="1800.2" cy="1405.9" r="3.0" fill="url(#sA)"/><circle cx="1805.2" cy="1407.3" r="2.6" fill="url(#sB)"/><circle cx="1565.2" cy="1411.2" r="3.2" fill="url(#sB)"/><circle cx="1573.1" cy="1411.3" r="2.7" fill="url(#sB)"/><circle cx="1579.0" cy="1411.6" r="3.2" fill="url(#sA)"/><circle cx="1585.3" cy="1411.6" r="3.1" fill="url(#sB)"/><circle cx="1592.0" cy="1412.8" r="3.3" fill="url(#sC)"/><circle cx="1599.2" cy="1412.4" r="2.8" fill="url(#sA)"/><circle cx="1605.5" cy="1411.4" r="3.1" fill="url(#sB)"/><circle cx="1617.8" cy="1412.1" r="3.3" fill="url(#sA)"/><circle cx="1624.4" cy="1412.1" r="3.4" fill="url(#sB)"/><circle cx="1630.4" cy="1413.0" r="2.7" fill="url(#sA)"/><circle cx="1636.9" cy="1412.4" r="3.0" fill="url(#sA)"/><circle cx="1648.8" cy="1412.4" r="2.7" fill="url(#sA)"/><circle cx="1655.6" cy="1411.4" r="3.3" fill="url(#sB)"/><circle cx="1662.6" cy="1412.2" r="3.3" fill="url(#sB)"/><circle cx="1668.5" cy="1413.0" r="3.4" fill="url(#sA)"/><circle cx="1675.1" cy="1412.2" r="2.9" fill="url(#sA)"/><circle cx="1682.3" cy="1412.0" r="3.1" fill="url(#sA)"/><circle cx="1688.4" cy="1412.6" r="3.1" fill="url(#sB)"/><circle cx="1693.4" cy="1412.6" r="3.5" fill="url(#sA)"/><circle cx="1701.3" cy="1413.0" r="3.4" fill="url(#sA)"/><circle cx="1707.1" cy="1413.0" r="2.7" fill="url(#sA)"/><circle cx="1712.5" cy="1411.9" r="2.9" fill="url(#sA)"/><circle cx="1719.9" cy="1413.2" r="3.2" fill="url(#sB)"/><circle cx="1726.0" cy="1412.3" r="3.3" fill="url(#sA)"/><circle cx="1733.5" cy="1411.8" r="3.5" fill="url(#sB)"/><circle cx="1738.2" cy="1412.6" r="3.1" fill="url(#sB)"/><circle cx="1745.3" cy="1413.1" r="2.8" fill="url(#sC)"/><circle cx="1750.9" cy="1412.1" r="3.0" fill="url(#sC)"/><circle cx="1758.9" cy="1412.5" r="3.3" fill="url(#sB)"/><circle cx="1764.9" cy="1412.5" r="2.9" fill="url(#sC)"/><circle cx="1770.7" cy="1411.7" r="2.8" fill="url(#sA)"/><circle cx="1778.3" cy="1413.0" r="2.7" fill="url(#sB)"/><circle cx="1784.7" cy="1412.5" r="3.1" fill="url(#sB)"/><circle cx="1790.1" cy="1412.0" r="2.8" fill="url(#sB)"/><circle cx="1797.1" cy="1411.8" r="2.9" fill="url(#sB)"/><circle cx="1803.6" cy="1412.1" r="2.8" fill="url(#sA)"/><circle cx="1809.1" cy="1411.2" r="3.1" fill="url(#sB)"/><circle cx="1562.5" cy="1417.6" r="3.2" fill="url(#sA)"/><circle cx="1570.1" cy="1418.1" r="2.6" fill="url(#sA)"/><circle cx="1574.9" cy="1417.4" r="2.8" fill="url(#sA)"/><circle cx="1581.8" cy="1418.4" r="2.6" fill="url(#sB)"/><circle cx="1589.5" cy="1416.8" r="3.3" fill="url(#sA)"/><circle cx="1595.7" cy="1418.7" r="3.4" fill="url(#sA)"/><circle cx="1600.7" cy="1417.0" r="2.6" fill="url(#sB)"/><circle cx="1607.7" cy="1417.5" r="3.1" fill="url(#sA)"/><circle cx="1613.2" cy="1417.3" r="2.7" fill="url(#sB)"/><circle cx="1620.1" cy="1418.3" r="3.0" fill="url(#sB)"/><circle cx="1627.0" cy="1418.6" r="3.4" fill="url(#sA)"/><circle cx="1634.3" cy="1416.9" r="3.3" fill="url(#sB)"/><circle cx="1639.8" cy="1417.3" r="2.7" fill="url(#sB)"/><circle cx="1645.9" cy="1418.6" r="2.6" fill="url(#sB)"/><circle cx="1652.8" cy="1418.4" r="3.4" fill="url(#sB)"/><circle cx="1658.3" cy="1417.2" r="3.2" fill="url(#sA)"/><circle cx="1665.3" cy="1418.4" r="3.1" fill="url(#sA)"/><circle cx="1672.1" cy="1418.1" r="2.8" fill="url(#sA)"/><circle cx="1677.8" cy="1417.7" r="3.4" fill="url(#sC)"/><circle cx="1684.4" cy="1418.3" r="3.0" fill="url(#sA)"/><circle cx="1691.6" cy="1417.0" r="3.3" fill="url(#sB)"/><circle cx="1697.6" cy="1417.5" r="3.4" fill="url(#sB)"/><circle cx="1704.4" cy="1417.0" r="2.9" fill="url(#sB)"/><circle cx="1710.5" cy="1418.3" r="3.4" fill="url(#sB)"/><circle cx="1716.0" cy="1418.0" r="2.7" fill="url(#sA)"/><circle cx="1723.0" cy="1417.1" r="2.8" fill="url(#sB)"/><circle cx="1730.4" cy="1417.1" r="3.1" fill="url(#sB)"/><circle cx="1736.2" cy="1418.6" r="2.7" fill="url(#sC)"/><circle cx="1741.3" cy="1418.6" r="2.6" fill="url(#sB)"/><circle cx="1748.6" cy="1418.0" r="3.2" fill="url(#sB)"/><circle cx="1754.4" cy="1418.1" r="3.1" fill="url(#sC)"/><circle cx="1761.2" cy="1417.1" r="3.1" fill="url(#sB)"/><circle cx="1768.3" cy="1417.1" r="3.2" fill="url(#sB)"/><circle cx="1773.5" cy="1417.0" r="3.3" fill="url(#sC)"/><circle cx="1779.8" cy="1417.7" r="2.9" fill="url(#sA)"/><circle cx="1787.1" cy="1418.7" r="2.9" fill="url(#sB)"/><circle cx="1793.5" cy="1417.0" r="3.2" fill="url(#sA)"/><circle cx="1806.6" cy="1417.2" r="2.7" fill="url(#sB)"/><circle cx="1566.6" cy="1422.5" r="3.1" fill="url(#sA)"/><circle cx="1572.4" cy="1422.9" r="3.0" fill="url(#sC)"/><circle cx="1579.6" cy="1422.8" r="3.2" fill="url(#sA)"/><circle cx="1584.7" cy="1424.1" r="3.3" fill="url(#sB)"/><circle cx="1591.6" cy="1423.6" r="3.0" fill="url(#sB)"/><circle cx="1597.3" cy="1422.8" r="3.5" fill="url(#sC)"/><circle cx="1604.8" cy="1422.5" r="2.7" fill="url(#sA)"/><circle cx="1617.8" cy="1423.3" r="2.8" fill="url(#sC)"/><circle cx="1624.0" cy="1424.0" r="3.1" fill="url(#sA)"/><circle cx="1629.3" cy="1424.2" r="3.1" fill="url(#sA)"/><circle cx="1637.2" cy="1423.8" r="3.5" fill="url(#sA)"/><circle cx="1643.4" cy="1422.6" r="3.0" fill="url(#sB)"/><circle cx="1649.2" cy="1424.1" r="3.1" fill="url(#sA)"/><circle cx="1655.5" cy="1422.5" r="3.4" fill="url(#sC)"/><circle cx="1663.0" cy="1424.2" r="2.6" fill="url(#sB)"/><circle cx="1669.1" cy="1422.6" r="3.4" fill="url(#sC)"/><circle cx="1675.3" cy="1423.9" r="3.3" fill="url(#sC)"/><circle cx="1681.0" cy="1423.2" r="3.3" fill="url(#sA)"/><circle cx="1687.2" cy="1424.1" r="3.1" fill="url(#sA)"/><circle cx="1694.9" cy="1423.6" r="3.3" fill="url(#sC)"/><circle cx="1699.8" cy="1423.2" r="2.8" fill="url(#sB)"/><circle cx="1712.8" cy="1422.8" r="2.7" fill="url(#sC)"/><circle cx="1719.3" cy="1423.3" r="3.2" fill="url(#sC)"/><circle cx="1726.9" cy="1422.4" r="3.2" fill="url(#sA)"/><circle cx="1732.0" cy="1422.6" r="3.1" fill="url(#sA)"/><circle cx="1739.7" cy="1424.4" r="3.3" fill="url(#sC)"/><circle cx="1745.8" cy="1422.5" r="3.0" fill="url(#sB)"/><circle cx="1752.6" cy="1423.0" r="2.9" fill="url(#sB)"/><circle cx="1758.1" cy="1423.7" r="3.2" fill="url(#sA)"/><circle cx="1763.7" cy="1422.6" r="2.7" fill="url(#sA)"/><circle cx="1771.3" cy="1422.4" r="3.4" fill="url(#sC)"/><circle cx="1776.9" cy="1422.7" r="3.2" fill="url(#sC)"/><circle cx="1783.0" cy="1423.6" r="2.7" fill="url(#sB)"/><circle cx="1789.5" cy="1423.2" r="2.7" fill="url(#sB)"/><circle cx="1797.4" cy="1422.5" r="3.5" fill="url(#sA)"/><circle cx="1803.0" cy="1423.9" r="3.1" fill="url(#sC)"/><circle cx="1808.5" cy="1423.0" r="3.1" fill="url(#sB)"/><circle cx="1563.5" cy="1428.6" r="3.1" fill="url(#sA)"/><circle cx="1569.9" cy="1428.4" r="3.3" fill="url(#sA)"/><circle cx="1576.0" cy="1428.8" r="3.4" fill="url(#sC)"/><circle cx="1582.1" cy="1429.4" r="3.2" fill="url(#sA)"/><circle cx="1587.9" cy="1429.4" r="2.6" fill="url(#sA)"/><circle cx="1594.4" cy="1429.2" r="3.1" fill="url(#sB)"/><circle cx="1601.3" cy="1428.1" r="2.9" fill="url(#sC)"/><circle cx="1608.1" cy="1429.2" r="3.0" fill="url(#sC)"/><circle cx="1613.6" cy="1429.6" r="3.0" fill="url(#sA)"/><circle cx="1620.8" cy="1429.2" r="2.7" fill="url(#sB)"/><circle cx="1626.6" cy="1429.7" r="2.7" fill="url(#sA)"/><circle cx="1633.8" cy="1428.4" r="3.1" fill="url(#sB)"/><circle cx="1639.9" cy="1428.1" r="2.6" fill="url(#sA)"/><circle cx="1645.4" cy="1428.7" r="3.5" fill="url(#sC)"/><circle cx="1652.5" cy="1429.3" r="3.4" fill="url(#sA)"/><circle cx="1659.7" cy="1429.1" r="2.7" fill="url(#sB)"/><circle cx="1665.4" cy="1430.0" r="2.8" fill="url(#sC)"/><circle cx="1671.0" cy="1428.2" r="3.4" fill="url(#sA)"/><circle cx="1678.2" cy="1429.9" r="3.1" fill="url(#sA)"/><circle cx="1685.0" cy="1428.1" r="2.8" fill="url(#sB)"/><circle cx="1690.3" cy="1429.2" r="2.6" fill="url(#sA)"/><circle cx="1703.3" cy="1428.9" r="3.1" fill="url(#sA)"/><circle cx="1709.2" cy="1429.0" r="2.8" fill="url(#sC)"/><circle cx="1715.9" cy="1429.7" r="2.7" fill="url(#sA)"/><circle cx="1722.8" cy="1428.4" r="2.9" fill="url(#sA)"/><circle cx="1728.5" cy="1429.8" r="2.9" fill="url(#sA)"/><circle cx="1741.8" cy="1429.1" r="2.6" fill="url(#sB)"/><circle cx="1748.9" cy="1428.9" r="3.4" fill="url(#sA)"/><circle cx="1755.3" cy="1428.2" r="2.8" fill="url(#sA)"/><circle cx="1762.3" cy="1428.1" r="2.7" fill="url(#sB)"/><circle cx="1768.0" cy="1429.5" r="3.2" fill="url(#sA)"/><circle cx="1774.1" cy="1428.0" r="2.9" fill="url(#sB)"/><circle cx="1779.7" cy="1429.5" r="3.4" fill="url(#sA)"/><circle cx="1786.6" cy="1429.9" r="3.4" fill="url(#sC)"/><circle cx="1799.5" cy="1429.9" r="2.9" fill="url(#sA)"/><circle cx="1805.8" cy="1428.7" r="2.9" fill="url(#sC)"/><circle cx="1567.2" cy="1435.5" r="2.9" fill="url(#sA)"/><circle cx="1573.1" cy="1434.6" r="3.1" fill="url(#sA)"/><circle cx="1579.0" cy="1434.1" r="2.9" fill="url(#sB)"/><circle cx="1586.2" cy="1435.2" r="3.3" fill="url(#sB)"/><circle cx="1591.1" cy="1434.1" r="2.9" fill="url(#sC)"/><circle cx="1598.8" cy="1435.1" r="3.2" fill="url(#sC)"/><circle cx="1605.1" cy="1434.7" r="2.8" fill="url(#sA)"/><circle cx="1611.4" cy="1434.8" r="3.4" fill="url(#sA)"/><circle cx="1617.7" cy="1434.7" r="3.2" fill="url(#sC)"/><circle cx="1622.8" cy="1434.0" r="3.3" fill="url(#sA)"/><circle cx="1630.9" cy="1435.4" r="2.9" fill="url(#sB)"/><circle cx="1637.0" cy="1434.1" r="3.0" fill="url(#sA)"/><circle cx="1642.3" cy="1434.5" r="2.9" fill="url(#sB)"/><circle cx="1648.7" cy="1435.4" r="2.8" fill="url(#sB)"/><circle cx="1656.6" cy="1435.2" r="3.4" fill="url(#sB)"/><circle cx="1662.4" cy="1434.0" r="3.3" fill="url(#sA)"/><circle cx="1674.8" cy="1435.0" r="2.8" fill="url(#sA)"/><circle cx="1682.0" cy="1435.1" r="2.7" fill="url(#sB)"/><circle cx="1688.3" cy="1435.5" r="2.8" fill="url(#sB)"/><circle cx="1694.4" cy="1435.4" r="2.9" fill="url(#sA)"/><circle cx="1700.7" cy="1433.8" r="3.3" fill="url(#sB)"/><circle cx="1707.4" cy="1435.5" r="2.9" fill="url(#sA)"/><circle cx="1713.1" cy="1433.8" r="2.8" fill="url(#sA)"/><circle cx="1719.7" cy="1434.8" r="2.7" fill="url(#sC)"/><circle cx="1726.2" cy="1434.3" r="3.1" fill="url(#sA)"/><circle cx="1733.3" cy="1434.8" r="2.9" fill="url(#sB)"/><circle cx="1738.1" cy="1435.3" r="3.5" fill="url(#sB)"/><circle cx="1746.2" cy="1435.2" r="3.2" fill="url(#sB)"/><circle cx="1751.5" cy="1434.3" r="2.8" fill="url(#sA)"/><circle cx="1757.3" cy="1434.3" r="2.7" fill="url(#sA)"/><circle cx="1765.0" cy="1434.2" r="3.0" fill="url(#sA)"/><circle cx="1770.0" cy="1434.1" r="2.8" fill="url(#sA)"/><circle cx="1776.7" cy="1434.8" r="3.3" fill="url(#sC)"/><circle cx="1784.0" cy="1435.4" r="3.3" fill="url(#sA)"/><circle cx="1796.2" cy="1434.1" r="3.1" fill="url(#sB)"/><circle cx="1802.1" cy="1434.0" r="3.3" fill="url(#sA)"/><circle cx="1809.6" cy="1434.4" r="2.8" fill="url(#sA)"/><circle cx="1562.8" cy="1440.8" r="2.8" fill="url(#sB)"/><circle cx="1570.1" cy="1439.5" r="2.8" fill="url(#sB)"/><circle cx="1575.3" cy="1441.2" r="3.4" fill="url(#sB)"/><circle cx="1581.5" cy="1440.3" r="2.6" fill="url(#sB)"/><circle cx="1589.4" cy="1439.8" r="2.6" fill="url(#sA)"/><circle cx="1594.4" cy="1439.3" r="3.0" fill="url(#sA)"/><circle cx="1600.4" cy="1440.6" r="2.7" fill="url(#sA)"/><circle cx="1606.9" cy="1440.6" r="2.6" fill="url(#sB)"/><circle cx="1613.9" cy="1440.3" r="3.2" fill="url(#sB)"/><circle cx="1621.0" cy="1440.3" r="3.5" fill="url(#sA)"/><circle cx="1627.3" cy="1439.8" r="3.1" fill="url(#sB)"/><circle cx="1633.9" cy="1440.0" r="3.1" fill="url(#sB)"/><circle cx="1639.3" cy="1440.3" r="2.7" fill="url(#sA)"/><circle cx="1646.1" cy="1439.4" r="2.9" fill="url(#sA)"/><circle cx="1653.4" cy="1440.3" r="3.1" fill="url(#sB)"/><circle cx="1659.2" cy="1440.7" r="2.9" fill="url(#sB)"/><circle cx="1665.8" cy="1439.6" r="3.2" fill="url(#sA)"/><circle cx="1670.8" cy="1440.1" r="2.8" fill="url(#sB)"/><circle cx="1678.7" cy="1440.1" r="2.8" fill="url(#sA)"/><circle cx="1684.6" cy="1439.4" r="3.1" fill="url(#sB)"/><circle cx="1691.8" cy="1440.2" r="3.0" fill="url(#sB)"/><circle cx="1697.4" cy="1441.0" r="2.6" fill="url(#sA)"/><circle cx="1703.3" cy="1440.7" r="3.3" fill="url(#sB)"/><circle cx="1710.4" cy="1440.3" r="3.1" fill="url(#sA)"/><circle cx="1716.4" cy="1440.3" r="2.9" fill="url(#sC)"/><circle cx="1722.1" cy="1441.1" r="3.2" fill="url(#sB)"/><circle cx="1730.2" cy="1440.4" r="2.9" fill="url(#sA)"/><circle cx="1735.2" cy="1440.6" r="3.2" fill="url(#sA)"/><circle cx="1742.5" cy="1439.6" r="3.0" fill="url(#sA)"/><circle cx="1749.3" cy="1440.1" r="3.0" fill="url(#sB)"/><circle cx="1755.0" cy="1440.9" r="2.9" fill="url(#sB)"/><circle cx="1767.6" cy="1440.3" r="2.9" fill="url(#sA)"/><circle cx="1773.6" cy="1440.2" r="3.2" fill="url(#sC)"/><circle cx="1781.5" cy="1439.2" r="3.0" fill="url(#sB)"/><circle cx="1787.9" cy="1440.6" r="3.3" fill="url(#sB)"/><circle cx="1793.5" cy="1440.6" r="2.9" fill="url(#sA)"/><circle cx="1799.4" cy="1440.8" r="3.4" fill="url(#sB)"/><circle cx="1805.6" cy="1440.1" r="3.5" fill="url(#sA)"/><circle cx="1565.8" cy="1446.5" r="2.8" fill="url(#sA)"/><circle cx="1572.6" cy="1446.3" r="3.0" fill="url(#sA)"/><circle cx="1584.9" cy="1446.3" r="2.7" fill="url(#sB)"/><circle cx="1592.0" cy="1446.3" r="2.7" fill="url(#sA)"/><circle cx="1597.8" cy="1445.6" r="2.7" fill="url(#sA)"/><circle cx="1604.7" cy="1445.7" r="2.9" fill="url(#sA)"/><circle cx="1611.5" cy="1446.8" r="3.4" fill="url(#sB)"/><circle cx="1617.5" cy="1445.8" r="3.0" fill="url(#sA)"/><circle cx="1623.6" cy="1445.1" r="3.3" fill="url(#sA)"/><circle cx="1629.2" cy="1446.5" r="3.1" fill="url(#sB)"/><circle cx="1636.9" cy="1446.5" r="2.9" fill="url(#sA)"/><circle cx="1642.5" cy="1445.6" r="3.4" fill="url(#sA)"/><circle cx="1650.4" cy="1446.7" r="3.5" fill="url(#sB)"/><circle cx="1662.2" cy="1445.4" r="2.7" fill="url(#sB)"/><circle cx="1669.4" cy="1445.4" r="3.3" fill="url(#sB)"/><circle cx="1675.8" cy="1445.7" r="3.3" fill="url(#sA)"/><circle cx="1681.6" cy="1445.0" r="2.7" fill="url(#sB)"/><circle cx="1688.7" cy="1445.3" r="3.5" fill="url(#sB)"/><circle cx="1693.6" cy="1445.2" r="3.1" fill="url(#sB)"/><circle cx="1700.8" cy="1446.4" r="3.3" fill="url(#sB)"/><circle cx="1706.2" cy="1446.0" r="3.4" fill="url(#sB)"/><circle cx="1713.8" cy="1445.1" r="3.2" fill="url(#sC)"/><circle cx="1720.4" cy="1445.5" r="2.6" fill="url(#sB)"/><circle cx="1725.3" cy="1446.7" r="2.9" fill="url(#sA)"/><circle cx="1739.1" cy="1445.5" r="3.2" fill="url(#sB)"/><circle cx="1745.8" cy="1445.6" r="2.6" fill="url(#sB)"/><circle cx="1751.9" cy="1445.7" r="3.0" fill="url(#sB)"/><circle cx="1758.3" cy="1445.8" r="2.9" fill="url(#sB)"/><circle cx="1765.4" cy="1445.5" r="3.1" fill="url(#sA)"/><circle cx="1770.9" cy="1445.8" r="3.2" fill="url(#sB)"/><circle cx="1777.2" cy="1446.6" r="2.8" fill="url(#sB)"/><circle cx="1784.7" cy="1444.9" r="2.9" fill="url(#sA)"/><circle cx="1789.3" cy="1445.6" r="3.1" fill="url(#sB)"/><circle cx="1795.7" cy="1445.5" r="3.5" fill="url(#sB)"/><circle cx="1802.5" cy="1446.7" r="2.9" fill="url(#sB)"/><circle cx="1810.1" cy="1444.9" r="3.4" fill="url(#sA)"/><circle cx="1563.6" cy="1451.4" r="3.0" fill="url(#sB)"/><circle cx="1569.5" cy="1450.8" r="3.2" fill="url(#sB)"/><circle cx="1576.5" cy="1452.0" r="2.9" fill="url(#sC)"/><circle cx="1582.4" cy="1452.3" r="2.7" fill="url(#sA)"/><circle cx="1589.5" cy="1452.2" r="3.4" fill="url(#sA)"/><circle cx="1594.6" cy="1451.9" r="2.8" fill="url(#sC)"/><circle cx="1602.3" cy="1450.9" r="3.1" fill="url(#sB)"/><circle cx="1607.9" cy="1451.7" r="3.0" fill="url(#sA)"/><circle cx="1614.1" cy="1451.2" r="3.2" fill="url(#sB)"/><circle cx="1620.0" cy="1452.2" r="2.9" fill="url(#sA)"/><circle cx="1626.4" cy="1450.5" r="2.9" fill="url(#sA)"/><circle cx="1633.5" cy="1452.2" r="3.0" fill="url(#sA)"/><circle cx="1640.0" cy="1451.5" r="3.0" fill="url(#sB)"/><circle cx="1646.2" cy="1451.2" r="3.1" fill="url(#sB)"/><circle cx="1651.9" cy="1452.3" r="2.7" fill="url(#sB)"/><circle cx="1658.2" cy="1451.5" r="2.7" fill="url(#sB)"/><circle cx="1665.7" cy="1451.5" r="2.9" fill="url(#sA)"/><circle cx="1670.9" cy="1452.3" r="3.0" fill="url(#sB)"/><circle cx="1677.6" cy="1450.5" r="3.4" fill="url(#sA)"/><circle cx="1685.2" cy="1451.3" r="2.7" fill="url(#sA)"/><circle cx="1690.6" cy="1451.9" r="3.4" fill="url(#sA)"/><circle cx="1697.9" cy="1451.2" r="2.9" fill="url(#sB)"/><circle cx="1703.2" cy="1450.8" r="2.7" fill="url(#sA)"/><circle cx="1709.9" cy="1452.2" r="2.7" fill="url(#sA)"/><circle cx="1716.8" cy="1451.4" r="3.0" fill="url(#sA)"/><circle cx="1722.3" cy="1451.4" r="3.2" fill="url(#sA)"/><circle cx="1729.3" cy="1451.1" r="3.1" fill="url(#sB)"/><circle cx="1736.1" cy="1450.8" r="2.7" fill="url(#sC)"/><circle cx="1748.9" cy="1451.7" r="2.8" fill="url(#sC)"/><circle cx="1754.6" cy="1452.0" r="2.9" fill="url(#sA)"/><circle cx="1760.8" cy="1451.4" r="3.4" fill="url(#sC)"/><circle cx="1767.0" cy="1451.5" r="2.8" fill="url(#sA)"/><circle cx="1775.1" cy="1450.8" r="3.4" fill="url(#sA)"/><circle cx="1779.8" cy="1450.5" r="2.7" fill="url(#sB)"/><circle cx="1786.9" cy="1451.7" r="3.3" fill="url(#sA)"/><circle cx="1793.3" cy="1452.1" r="2.9" fill="url(#sA)"/><circle cx="1799.5" cy="1451.7" r="3.1" fill="url(#sB)"/><circle cx="1806.1" cy="1451.8" r="2.8" fill="url(#sB)"/><circle cx="1566.4" cy="1456.3" r="3.0" fill="url(#sB)"/><circle cx="1572.6" cy="1457.1" r="3.2" fill="url(#sB)"/><circle cx="1579.6" cy="1456.1" r="3.1" fill="url(#sB)"/><circle cx="1584.9" cy="1457.1" r="3.4" fill="url(#sA)"/><circle cx="1591.5" cy="1456.7" r="3.5" fill="url(#sA)"/><circle cx="1598.6" cy="1456.2" r="3.0" fill="url(#sB)"/><circle cx="1603.7" cy="1456.8" r="3.0" fill="url(#sC)"/><circle cx="1611.1" cy="1457.1" r="2.9" fill="url(#sA)"/><circle cx="1616.5" cy="1456.2" r="2.6" fill="url(#sC)"/><circle cx="1624.2" cy="1456.0" r="3.2" fill="url(#sB)"/><circle cx="1630.4" cy="1456.5" r="3.1" fill="url(#sA)"/><circle cx="1636.0" cy="1457.7" r="3.0" fill="url(#sB)"/><circle cx="1643.3" cy="1456.0" r="3.4" fill="url(#sC)"/><circle cx="1650.1" cy="1456.2" r="3.2" fill="url(#sA)"/><circle cx="1656.4" cy="1457.6" r="2.7" fill="url(#sB)"/><circle cx="1662.5" cy="1456.3" r="2.9" fill="url(#sB)"/><circle cx="1668.1" cy="1456.9" r="3.4" fill="url(#sB)"/><circle cx="1675.8" cy="1456.3" r="3.0" fill="url(#sB)"/><circle cx="1680.6" cy="1457.3" r="2.9" fill="url(#sC)"/><circle cx="1687.3" cy="1457.5" r="2.8" fill="url(#sA)"/><circle cx="1694.2" cy="1456.7" r="2.9" fill="url(#sA)"/><circle cx="1700.8" cy="1457.5" r="2.9" fill="url(#sA)"/><circle cx="1707.1" cy="1456.1" r="2.8" fill="url(#sB)"/><circle cx="1712.5" cy="1457.2" r="3.1" fill="url(#sB)"/><circle cx="1720.0" cy="1457.1" r="2.8" fill="url(#sB)"/><circle cx="1725.4" cy="1457.2" r="3.4" fill="url(#sA)"/><circle cx="1732.0" cy="1457.1" r="2.6" fill="url(#sC)"/><circle cx="1738.0" cy="1457.5" r="3.4" fill="url(#sA)"/><circle cx="1745.8" cy="1456.1" r="2.8" fill="url(#sB)"/><circle cx="1751.4" cy="1456.6" r="3.0" fill="url(#sB)"/><circle cx="1758.9" cy="1457.0" r="3.1" fill="url(#sB)"/><circle cx="1765.0" cy="1456.8" r="3.0" fill="url(#sA)"/><circle cx="1771.4" cy="1456.2" r="3.4" fill="url(#sB)"/><circle cx="1776.5" cy="1457.1" r="3.2" fill="url(#sB)"/><circle cx="1784.1" cy="1456.2" r="2.9" fill="url(#sC)"/><circle cx="1790.8" cy="1457.9" r="2.6" fill="url(#sB)"/><circle cx="1802.8" cy="1456.7" r="3.1" fill="url(#sB)"/><circle cx="1808.9" cy="1457.0" r="3.3" fill="url(#sB)"/><circle cx="1562.1" cy="1462.7" r="3.5" fill="url(#sA)"/><circle cx="1569.6" cy="1461.7" r="3.3" fill="url(#sA)"/><circle cx="1575.5" cy="1463.3" r="2.8" fill="url(#sB)"/><circle cx="1582.6" cy="1462.6" r="3.5" fill="url(#sA)"/><circle cx="1588.0" cy="1463.5" r="2.8" fill="url(#sA)"/><circle cx="1595.3" cy="1462.9" r="3.4" fill="url(#sA)"/><circle cx="1600.8" cy="1462.2" r="3.4" fill="url(#sC)"/><circle cx="1606.9" cy="1462.7" r="2.7" fill="url(#sA)"/><circle cx="1614.2" cy="1462.4" r="3.3" fill="url(#sA)"/><circle cx="1619.9" cy="1463.0" r="2.7" fill="url(#sA)"/><circle cx="1626.5" cy="1461.9" r="3.4" fill="url(#sA)"/><circle cx="1633.5" cy="1462.6" r="2.8" fill="url(#sB)"/><circle cx="1640.4" cy="1462.1" r="3.5" fill="url(#sA)"/><circle cx="1647.1" cy="1462.1" r="2.8" fill="url(#sC)"/><circle cx="1652.3" cy="1462.4" r="2.7" fill="url(#sB)"/><circle cx="1658.7" cy="1461.9" r="3.2" fill="url(#sB)"/><circle cx="1665.3" cy="1462.4" r="2.6" fill="url(#sB)"/><circle cx="1672.3" cy="1463.3" r="3.4" fill="url(#sB)"/><circle cx="1677.6" cy="1462.6" r="3.0" fill="url(#sB)"/><circle cx="1685.1" cy="1463.2" r="3.4" fill="url(#sB)"/><circle cx="1691.1" cy="1461.7" r="2.7" fill="url(#sC)"/><circle cx="1697.9" cy="1463.2" r="3.5" fill="url(#sA)"/><circle cx="1704.6" cy="1463.3" r="3.5" fill="url(#sC)"/><circle cx="1710.6" cy="1463.3" r="3.3" fill="url(#sB)"/><circle cx="1716.9" cy="1462.7" r="3.0" fill="url(#sB)"/><circle cx="1722.6" cy="1461.9" r="2.8" fill="url(#sC)"/><circle cx="1729.0" cy="1462.2" r="3.1" fill="url(#sA)"/><circle cx="1734.8" cy="1462.3" r="3.2" fill="url(#sB)"/><circle cx="1742.8" cy="1462.4" r="2.9" fill="url(#sA)"/><circle cx="1747.7" cy="1463.4" r="3.1" fill="url(#sB)"/><circle cx="1755.4" cy="1461.8" r="2.7" fill="url(#sA)"/><circle cx="1761.3" cy="1463.5" r="3.4" fill="url(#sC)"/><circle cx="1767.9" cy="1463.1" r="2.9" fill="url(#sB)"/><circle cx="1774.1" cy="1461.9" r="3.0" fill="url(#sB)"/><circle cx="1780.2" cy="1463.2" r="3.1" fill="url(#sA)"/><circle cx="1786.5" cy="1463.0" r="2.8" fill="url(#sA)"/><circle cx="1792.7" cy="1463.4" r="2.9" fill="url(#sA)"/><circle cx="1799.8" cy="1462.9" r="2.7" fill="url(#sA)"/><circle cx="1805.6" cy="1462.6" r="3.3" fill="url(#sA)"/><circle cx="1565.8" cy="1468.7" r="3.0" fill="url(#sC)"/><circle cx="1578.1" cy="1467.5" r="3.1" fill="url(#sA)"/><circle cx="1585.1" cy="1469.2" r="3.4" fill="url(#sB)"/><circle cx="1592.6" cy="1467.9" r="2.9" fill="url(#sA)"/><circle cx="1598.8" cy="1467.4" r="3.0" fill="url(#sA)"/><circle cx="1605.4" cy="1468.1" r="3.3" fill="url(#sA)"/><circle cx="1610.3" cy="1467.7" r="2.9" fill="url(#sA)"/><circle cx="1616.9" cy="1468.0" r="3.3" fill="url(#sA)"/><circle cx="1623.5" cy="1467.9" r="3.1" fill="url(#sB)"/><circle cx="1631.1" cy="1468.3" r="3.3" fill="url(#sB)"/><circle cx="1636.2" cy="1467.4" r="3.4" fill="url(#sA)"/><circle cx="1642.4" cy="1467.6" r="3.2" fill="url(#sA)"/><circle cx="1648.8" cy="1468.1" r="3.2" fill="url(#sA)"/><circle cx="1656.2" cy="1468.0" r="3.5" fill="url(#sA)"/><circle cx="1661.3" cy="1468.9" r="2.6" fill="url(#sA)"/><circle cx="1668.7" cy="1468.9" r="2.7" fill="url(#sA)"/><circle cx="1674.3" cy="1468.5" r="2.8" fill="url(#sA)"/><circle cx="1682.4" cy="1468.5" r="3.3" fill="url(#sA)"/><circle cx="1687.4" cy="1467.2" r="3.0" fill="url(#sC)"/><circle cx="1694.9" cy="1467.9" r="2.7" fill="url(#sA)"/><circle cx="1700.2" cy="1468.8" r="2.9" fill="url(#sC)"/><circle cx="1707.8" cy="1467.7" r="2.8" fill="url(#sA)"/><circle cx="1714.3" cy="1468.6" r="2.9" fill="url(#sC)"/><circle cx="1726.6" cy="1468.6" r="3.0" fill="url(#sB)"/><circle cx="1732.8" cy="1468.5" r="2.9" fill="url(#sA)"/><circle cx="1738.3" cy="1467.3" r="2.9" fill="url(#sB)"/><circle cx="1745.0" cy="1468.3" r="3.4" fill="url(#sB)"/><circle cx="1752.7" cy="1468.2" r="3.4" fill="url(#sA)"/><circle cx="1758.9" cy="1468.3" r="3.5" fill="url(#sC)"/><circle cx="1764.3" cy="1469.1" r="3.2" fill="url(#sB)"/><circle cx="1771.7" cy="1468.5" r="2.7" fill="url(#sA)"/><circle cx="1776.5" cy="1468.8" r="3.4" fill="url(#sA)"/><circle cx="1790.5" cy="1469.1" r="3.3" fill="url(#sB)"/><circle cx="1796.5" cy="1468.6" r="2.7" fill="url(#sB)"/><circle cx="1803.0" cy="1468.4" r="3.4" fill="url(#sB)"/><circle cx="1808.7" cy="1469.0" r="2.7" fill="url(#sA)"/><circle cx="1562.5" cy="1474.2" r="3.2" fill="url(#sA)"/><circle cx="1569.8" cy="1474.4" r="2.6" fill="url(#sC)"/><circle cx="1575.8" cy="1473.6" r="2.9" fill="url(#sB)"/><circle cx="1582.0" cy="1474.1" r="2.7" fill="url(#sA)"/><circle cx="1589.1" cy="1473.7" r="3.0" fill="url(#sA)"/><circle cx="1594.6" cy="1473.7" r="2.8" fill="url(#sB)"/><circle cx="1601.7" cy="1474.6" r="3.4" fill="url(#sC)"/><circle cx="1607.9" cy="1473.9" r="2.8" fill="url(#sA)"/><circle cx="1613.6" cy="1474.1" r="3.2" fill="url(#sA)"/><circle cx="1620.8" cy="1474.6" r="2.9" fill="url(#sB)"/><circle cx="1626.4" cy="1473.5" r="2.6" fill="url(#sB)"/><circle cx="1633.6" cy="1473.2" r="3.2" fill="url(#sA)"/><circle cx="1640.3" cy="1474.5" r="3.4" fill="url(#sA)"/><circle cx="1645.4" cy="1473.7" r="3.2" fill="url(#sA)"/><circle cx="1652.8" cy="1474.2" r="3.0" fill="url(#sA)"/><circle cx="1658.2" cy="1473.9" r="3.3" fill="url(#sB)"/><circle cx="1664.4" cy="1472.9" r="3.4" fill="url(#sB)"/><circle cx="1671.2" cy="1474.6" r="3.5" fill="url(#sC)"/><circle cx="1679.0" cy="1474.0" r="3.1" fill="url(#sA)"/><circle cx="1685.6" cy="1474.0" r="3.0" fill="url(#sA)"/><circle cx="1691.1" cy="1474.6" r="3.0" fill="url(#sA)"/><circle cx="1696.9" cy="1473.4" r="3.4" fill="url(#sB)"/><circle cx="1703.8" cy="1474.4" r="3.2" fill="url(#sB)"/><circle cx="1709.8" cy="1474.2" r="3.4" fill="url(#sB)"/><circle cx="1716.8" cy="1473.0" r="3.0" fill="url(#sC)"/><circle cx="1723.8" cy="1474.7" r="3.3" fill="url(#sA)"/><circle cx="1729.6" cy="1474.5" r="3.1" fill="url(#sB)"/><circle cx="1734.9" cy="1472.9" r="2.9" fill="url(#sA)"/><circle cx="1742.4" cy="1474.4" r="3.3" fill="url(#sC)"/><circle cx="1749.1" cy="1473.1" r="3.0" fill="url(#sA)"/><circle cx="1755.8" cy="1474.8" r="2.8" fill="url(#sA)"/><circle cx="1761.9" cy="1474.4" r="3.1" fill="url(#sA)"/><circle cx="1767.9" cy="1474.7" r="2.6" fill="url(#sA)"/><circle cx="1774.5" cy="1473.3" r="3.1" fill="url(#sB)"/><circle cx="1780.1" cy="1474.6" r="3.1" fill="url(#sA)"/><circle cx="1786.6" cy="1474.6" r="3.3" fill="url(#sA)"/><circle cx="1793.0" cy="1473.1" r="3.4" fill="url(#sC)"/><circle cx="1800.0" cy="1474.6" r="3.1" fill="url(#sC)"/><circle cx="1807.0" cy="1474.6" r="2.8" fill="url(#sA)"/><circle cx="1565.6" cy="1480.4" r="3.5" fill="url(#sA)"/><circle cx="1572.6" cy="1478.5" r="3.1" fill="url(#sA)"/><circle cx="1579.8" cy="1480.2" r="3.2" fill="url(#sB)"/><circle cx="1584.7" cy="1479.8" r="3.1" fill="url(#sB)"/><circle cx="1598.7" cy="1480.1" r="3.3" fill="url(#sB)"/><circle cx="1604.0" cy="1479.9" r="2.7" fill="url(#sB)"/><circle cx="1610.2" cy="1479.9" r="2.9" fill="url(#sA)"/><circle cx="1623.3" cy="1478.6" r="3.4" fill="url(#sA)"/><circle cx="1629.9" cy="1480.3" r="2.8" fill="url(#sB)"/><circle cx="1636.8" cy="1478.8" r="3.1" fill="url(#sB)"/><circle cx="1642.0" cy="1479.6" r="3.5" fill="url(#sB)"/><circle cx="1649.8" cy="1480.3" r="3.1" fill="url(#sB)"/><circle cx="1655.0" cy="1478.6" r="3.1" fill="url(#sB)"/><circle cx="1662.2" cy="1478.7" r="3.3" fill="url(#sB)"/><circle cx="1668.6" cy="1479.3" r="3.2" fill="url(#sB)"/><circle cx="1675.4" cy="1479.6" r="2.7" fill="url(#sA)"/><circle cx="1681.7" cy="1480.2" r="2.7" fill="url(#sA)"/><circle cx="1687.7" cy="1480.2" r="3.3" fill="url(#sA)"/><circle cx="1700.4" cy="1479.4" r="2.9" fill="url(#sA)"/><circle cx="1707.7" cy="1480.3" r="3.3" fill="url(#sA)"/><circle cx="1712.8" cy="1479.0" r="3.4" fill="url(#sA)"/><circle cx="1718.9" cy="1478.4" r="2.9" fill="url(#sA)"/><circle cx="1725.4" cy="1480.2" r="2.8" fill="url(#sB)"/><circle cx="1731.9" cy="1479.1" r="3.2" fill="url(#sA)"/><circle cx="1738.7" cy="1479.5" r="3.3" fill="url(#sA)"/><circle cx="1744.9" cy="1479.1" r="3.4" fill="url(#sB)"/><circle cx="1752.6" cy="1480.4" r="3.5" fill="url(#sA)"/><circle cx="1759.2" cy="1479.9" r="3.5" fill="url(#sA)"/><circle cx="1765.3" cy="1478.9" r="3.1" fill="url(#sB)"/><circle cx="1770.1" cy="1479.7" r="2.8" fill="url(#sC)"/><circle cx="1776.9" cy="1479.8" r="3.1" fill="url(#sB)"/><circle cx="1783.3" cy="1478.6" r="2.9" fill="url(#sB)"/><circle cx="1789.9" cy="1478.6" r="3.4" fill="url(#sA)"/><circle cx="1796.6" cy="1479.7" r="3.2" fill="url(#sB)"/><circle cx="1803.8" cy="1479.7" r="3.1" fill="url(#sA)"/><circle cx="1808.6" cy="1479.8" r="3.1" fill="url(#sB)"/><circle cx="1563.4" cy="1484.6" r="2.9" fill="url(#sB)"/><circle cx="1568.7" cy="1485.4" r="2.7" fill="url(#sC)"/><circle cx="1575.1" cy="1485.1" r="2.7" fill="url(#sA)"/><circle cx="1581.3" cy="1485.5" r="2.6" fill="url(#sA)"/><circle cx="1589.5" cy="1484.1" r="2.9" fill="url(#sA)"/><circle cx="1594.7" cy="1484.8" r="2.8" fill="url(#sA)"/><circle cx="1601.0" cy="1486.0" r="3.1" fill="url(#sA)"/><circle cx="1607.1" cy="1485.3" r="3.3" fill="url(#sA)"/><circle cx="1615.2" cy="1485.7" r="3.4" fill="url(#sC)"/><circle cx="1619.6" cy="1484.8" r="2.7" fill="url(#sB)"/><circle cx="1626.2" cy="1485.7" r="2.7" fill="url(#sA)"/><circle cx="1633.1" cy="1484.6" r="3.5" fill="url(#sA)"/><circle cx="1639.1" cy="1485.0" r="3.4" fill="url(#sA)"/><circle cx="1645.8" cy="1484.4" r="3.4" fill="url(#sA)"/><circle cx="1651.8" cy="1485.6" r="3.4" fill="url(#sB)"/><circle cx="1659.1" cy="1484.3" r="3.5" fill="url(#sB)"/><circle cx="1665.4" cy="1485.2" r="3.2" fill="url(#sA)"/><circle cx="1671.8" cy="1486.0" r="2.7" fill="url(#sC)"/><circle cx="1677.7" cy="1485.1" r="3.3" fill="url(#sB)"/><circle cx="1690.2" cy="1485.9" r="3.1" fill="url(#sC)"/><circle cx="1697.8" cy="1484.3" r="3.2" fill="url(#sA)"/><circle cx="1704.0" cy="1485.2" r="3.4" fill="url(#sB)"/><circle cx="1710.7" cy="1485.4" r="2.9" fill="url(#sC)"/><circle cx="1717.6" cy="1485.8" r="3.4" fill="url(#sA)"/><circle cx="1723.3" cy="1485.2" r="2.9" fill="url(#sB)"/><circle cx="1729.8" cy="1485.6" r="3.2" fill="url(#sA)"/><circle cx="1736.8" cy="1485.4" r="3.1" fill="url(#sC)"/><circle cx="1743.0" cy="1486.0" r="3.2" fill="url(#sC)"/><circle cx="1749.5" cy="1484.7" r="3.1" fill="url(#sB)"/><circle cx="1754.3" cy="1484.5" r="3.2" fill="url(#sB)"/><circle cx="1762.2" cy="1484.4" r="3.1" fill="url(#sB)"/><circle cx="1768.7" cy="1484.9" r="3.2" fill="url(#sA)"/><circle cx="1773.6" cy="1485.4" r="3.4" fill="url(#sB)"/><circle cx="1781.2" cy="1486.0" r="2.7" fill="url(#sA)"/><circle cx="1786.1" cy="1485.5" r="2.9" fill="url(#sB)"/><circle cx="1793.2" cy="1484.7" r="2.9" fill="url(#sC)"/><circle cx="1800.8" cy="1484.4" r="3.2" fill="url(#sA)"/><circle cx="1806.4" cy="1485.3" r="3.4" fill="url(#sB)"/><circle cx="1565.7" cy="1490.0" r="3.3" fill="url(#sB)"/><circle cx="1573.1" cy="1490.3" r="3.5" fill="url(#sA)"/><circle cx="1579.4" cy="1489.9" r="3.2" fill="url(#sA)"/><circle cx="1586.3" cy="1490.7" r="3.0" fill="url(#sC)"/><circle cx="1591.5" cy="1490.2" r="2.7" fill="url(#sB)"/><circle cx="1598.8" cy="1490.3" r="3.5" fill="url(#sC)"/><circle cx="1604.3" cy="1491.5" r="2.7" fill="url(#sA)"/><circle cx="1610.8" cy="1491.2" r="2.8" fill="url(#sC)"/><circle cx="1617.1" cy="1490.2" r="3.4" fill="url(#sA)"/><circle cx="1622.9" cy="1489.8" r="3.1" fill="url(#sC)"/><circle cx="1630.6" cy="1490.6" r="3.4" fill="url(#sA)"/><circle cx="1637.2" cy="1491.5" r="3.2" fill="url(#sA)"/><circle cx="1643.5" cy="1490.3" r="2.8" fill="url(#sA)"/><circle cx="1648.5" cy="1490.5" r="2.9" fill="url(#sA)"/><circle cx="1654.8" cy="1489.6" r="2.7" fill="url(#sA)"/><circle cx="1661.9" cy="1490.1" r="2.9" fill="url(#sA)"/><circle cx="1668.0" cy="1489.8" r="3.1" fill="url(#sC)"/><circle cx="1674.7" cy="1490.9" r="3.4" fill="url(#sC)"/><circle cx="1681.1" cy="1490.0" r="3.0" fill="url(#sA)"/><circle cx="1693.3" cy="1490.5" r="2.8" fill="url(#sA)"/><circle cx="1701.3" cy="1490.1" r="3.3" fill="url(#sB)"/><circle cx="1706.2" cy="1490.2" r="3.2" fill="url(#sB)"/><circle cx="1713.4" cy="1490.0" r="2.7" fill="url(#sA)"/><circle cx="1719.6" cy="1491.3" r="3.3" fill="url(#sB)"/><circle cx="1725.2" cy="1490.5" r="3.5" fill="url(#sA)"/><circle cx="1732.0" cy="1491.3" r="2.9" fill="url(#sA)"/><circle cx="1738.4" cy="1491.1" r="3.4" fill="url(#sC)"/><circle cx="1746.4" cy="1491.5" r="3.5" fill="url(#sB)"/><circle cx="1751.6" cy="1490.1" r="2.6" fill="url(#sA)"/><circle cx="1758.7" cy="1490.6" r="2.8" fill="url(#sA)"/><circle cx="1764.6" cy="1490.7" r="2.9" fill="url(#sB)"/><circle cx="1771.0" cy="1490.5" r="2.7" fill="url(#sA)"/><circle cx="1778.4" cy="1491.3" r="3.3" fill="url(#sA)"/><circle cx="1783.9" cy="1491.2" r="2.9" fill="url(#sA)"/><circle cx="1791.0" cy="1489.9" r="3.3" fill="url(#sA)"/><circle cx="1795.9" cy="1491.2" r="2.8" fill="url(#sB)"/><circle cx="1803.7" cy="1489.8" r="2.7" fill="url(#sB)"/><circle cx="1810.0" cy="1490.4" r="3.4" fill="url(#sC)"/><circle cx="1563.7" cy="1495.3" r="3.4" fill="url(#sA)"/><circle cx="1568.5" cy="1495.8" r="3.2" fill="url(#sB)"/><circle cx="1575.6" cy="1495.4" r="3.2" fill="url(#sC)"/><circle cx="1582.7" cy="1496.3" r="3.2" fill="url(#sB)"/><circle cx="1589.0" cy="1495.5" r="2.6" fill="url(#sA)"/><circle cx="1595.7" cy="1497.2" r="3.1" fill="url(#sB)"/><circle cx="1608.2" cy="1496.7" r="2.7" fill="url(#sA)"/><circle cx="1614.3" cy="1495.7" r="2.9" fill="url(#sB)"/><circle cx="1619.9" cy="1496.1" r="3.0" fill="url(#sC)"/><circle cx="1627.7" cy="1495.4" r="2.6" fill="url(#sA)"/><circle cx="1633.7" cy="1495.2" r="3.0" fill="url(#sA)"/><circle cx="1639.0" cy="1496.3" r="2.9" fill="url(#sB)"/><circle cx="1647.1" cy="1495.8" r="2.8" fill="url(#sA)"/><circle cx="1651.7" cy="1496.4" r="3.0" fill="url(#sB)"/><circle cx="1658.7" cy="1495.9" r="3.1" fill="url(#sB)"/><circle cx="1664.5" cy="1496.8" r="3.1" fill="url(#sC)"/><circle cx="1671.5" cy="1495.3" r="2.7" fill="url(#sC)"/><circle cx="1684.6" cy="1497.0" r="3.4" fill="url(#sA)"/><circle cx="1692.0" cy="1496.6" r="3.4" fill="url(#sA)"/><circle cx="1696.8" cy="1495.9" r="2.9" fill="url(#sA)"/><circle cx="1702.8" cy="1495.7" r="3.3" fill="url(#sA)"/><circle cx="1710.0" cy="1495.6" r="2.6" fill="url(#sA)"/><circle cx="1716.7" cy="1497.0" r="3.2" fill="url(#sB)"/><circle cx="1723.6" cy="1497.0" r="2.7" fill="url(#sB)"/><circle cx="1730.3" cy="1496.7" r="2.6" fill="url(#sA)"/><circle cx="1735.9" cy="1495.5" r="3.4" fill="url(#sC)"/><circle cx="1741.8" cy="1495.3" r="3.2" fill="url(#sB)"/><circle cx="1749.4" cy="1496.5" r="2.6" fill="url(#sB)"/><circle cx="1754.8" cy="1496.1" r="3.0" fill="url(#sA)"/><circle cx="1760.6" cy="1496.8" r="3.5" fill="url(#sA)"/><circle cx="1768.1" cy="1496.6" r="3.4" fill="url(#sA)"/><circle cx="1774.4" cy="1496.2" r="3.1" fill="url(#sC)"/><circle cx="1781.3" cy="1496.9" r="2.7" fill="url(#sB)"/><circle cx="1786.4" cy="1495.3" r="3.5" fill="url(#sA)"/><circle cx="1793.7" cy="1496.4" r="2.8" fill="url(#sC)"/><circle cx="1799.8" cy="1497.0" r="2.8" fill="url(#sB)"/><circle cx="1806.4" cy="1496.6" r="2.7" fill="url(#sA)"/><circle cx="1567.0" cy="1502.0" r="3.4" fill="url(#sB)"/><circle cx="1572.4" cy="1502.2" r="3.2" fill="url(#sA)"/><circle cx="1580.0" cy="1501.6" r="2.7" fill="url(#sA)"/><circle cx="1591.6" cy="1501.9" r="2.8" fill="url(#sA)"/><circle cx="1597.7" cy="1502.5" r="2.8" fill="url(#sA)"/><circle cx="1603.8" cy="1502.6" r="3.0" fill="url(#sC)"/><circle cx="1610.8" cy="1502.1" r="2.8" fill="url(#sC)"/><circle cx="1617.8" cy="1502.1" r="3.3" fill="url(#sB)"/><circle cx="1623.4" cy="1502.6" r="3.2" fill="url(#sB)"/><circle cx="1629.5" cy="1501.4" r="2.6" fill="url(#sC)"/><circle cx="1635.9" cy="1500.9" r="3.4" fill="url(#sA)"/><circle cx="1642.4" cy="1501.8" r="2.8" fill="url(#sA)"/><circle cx="1650.1" cy="1502.6" r="3.2" fill="url(#sC)"/><circle cx="1656.6" cy="1501.5" r="2.7" fill="url(#sC)"/><circle cx="1662.2" cy="1502.7" r="3.2" fill="url(#sA)"/><circle cx="1668.4" cy="1501.4" r="2.8" fill="url(#sB)"/><circle cx="1675.3" cy="1502.6" r="2.6" fill="url(#sA)"/><circle cx="1681.1" cy="1502.0" r="3.1" fill="url(#sB)"/><circle cx="1688.3" cy="1502.8" r="3.5" fill="url(#sC)"/><circle cx="1694.2" cy="1501.9" r="3.1" fill="url(#sA)"/><circle cx="1699.7" cy="1502.4" r="3.5" fill="url(#sA)"/><circle cx="1707.5" cy="1501.5" r="2.7" fill="url(#sB)"/><circle cx="1714.2" cy="1501.5" r="3.5" fill="url(#sB)"/><circle cx="1718.8" cy="1501.1" r="3.4" fill="url(#sC)"/><circle cx="1725.4" cy="1502.5" r="2.8" fill="url(#sC)"/><circle cx="1731.8" cy="1502.4" r="2.8" fill="url(#sB)"/><circle cx="1738.4" cy="1501.4" r="3.1" fill="url(#sC)"/><circle cx="1746.2" cy="1501.8" r="3.5" fill="url(#sC)"/><circle cx="1751.1" cy="1501.7" r="2.9" fill="url(#sA)"/><circle cx="1758.2" cy="1500.8" r="3.4" fill="url(#sA)"/><circle cx="1764.6" cy="1502.6" r="3.2" fill="url(#sA)"/><circle cx="1770.5" cy="1502.6" r="2.6" fill="url(#sB)"/><circle cx="1776.7" cy="1501.9" r="3.5" fill="url(#sC)"/><circle cx="1783.0" cy="1502.0" r="3.2" fill="url(#sB)"/><circle cx="1790.0" cy="1500.9" r="3.0" fill="url(#sB)"/><circle cx="1796.3" cy="1502.0" r="2.8" fill="url(#sC)"/><circle cx="1802.9" cy="1502.3" r="3.5" fill="url(#sA)"/><circle cx="1809.0" cy="1501.6" r="3.3" fill="url(#sC)"/><circle cx="1563.6" cy="1506.5" r="3.3" fill="url(#sC)"/><circle cx="1569.8" cy="1506.8" r="2.9" fill="url(#sC)"/><circle cx="1574.9" cy="1506.6" r="3.3" fill="url(#sA)"/><circle cx="1589.5" cy="1508.3" r="3.4" fill="url(#sA)"/><circle cx="1595.7" cy="1507.4" r="3.5" fill="url(#sB)"/><circle cx="1601.2" cy="1506.6" r="2.8" fill="url(#sA)"/><circle cx="1608.2" cy="1508.2" r="3.2" fill="url(#sB)"/><circle cx="1613.5" cy="1507.8" r="3.5" fill="url(#sB)"/><circle cx="1620.8" cy="1506.7" r="3.2" fill="url(#sB)"/><circle cx="1627.8" cy="1507.2" r="2.9" fill="url(#sC)"/><circle cx="1633.6" cy="1506.4" r="3.1" fill="url(#sA)"/><circle cx="1640.0" cy="1507.6" r="2.9" fill="url(#sC)"/><circle cx="1645.6" cy="1506.6" r="2.7" fill="url(#sC)"/><circle cx="1652.0" cy="1507.2" r="3.3" fill="url(#sB)"/><circle cx="1658.9" cy="1508.2" r="3.0" fill="url(#sB)"/><circle cx="1666.1" cy="1507.4" r="3.4" fill="url(#sA)"/><circle cx="1672.4" cy="1506.7" r="2.9" fill="url(#sB)"/><circle cx="1678.5" cy="1506.5" r="3.0" fill="url(#sB)"/><circle cx="1685.5" cy="1507.5" r="3.2" fill="url(#sA)"/><circle cx="1691.9" cy="1508.3" r="3.3" fill="url(#sB)"/><circle cx="1698.3" cy="1508.2" r="2.9" fill="url(#sB)"/><circle cx="1703.7" cy="1506.9" r="3.3" fill="url(#sA)"/><circle cx="1710.0" cy="1508.2" r="2.6" fill="url(#sC)"/><circle cx="1716.9" cy="1507.0" r="2.9" fill="url(#sA)"/><circle cx="1723.6" cy="1508.3" r="3.4" fill="url(#sB)"/><circle cx="1729.3" cy="1507.0" r="3.1" fill="url(#sA)"/><circle cx="1735.9" cy="1507.7" r="2.7" fill="url(#sC)"/><circle cx="1743.1" cy="1506.6" r="3.1" fill="url(#sB)"/><circle cx="1749.1" cy="1508.1" r="3.1" fill="url(#sC)"/><circle cx="1754.3" cy="1507.0" r="3.5" fill="url(#sA)"/><circle cx="1760.6" cy="1506.9" r="2.7" fill="url(#sA)"/><circle cx="1773.4" cy="1507.0" r="3.0" fill="url(#sA)"/><circle cx="1780.9" cy="1507.6" r="3.4" fill="url(#sA)"/><circle cx="1787.1" cy="1507.8" r="2.7" fill="url(#sA)"/><circle cx="1793.1" cy="1506.5" r="2.9" fill="url(#sC)"/><circle cx="1800.8" cy="1507.8" r="3.1" fill="url(#sA)"/><circle cx="1805.9" cy="1507.1" r="3.1" fill="url(#sA)"/><circle cx="1565.4" cy="1512.1" r="3.1" fill="url(#sC)"/><circle cx="1572.9" cy="1512.5" r="2.9" fill="url(#sC)"/><circle cx="1578.3" cy="1513.1" r="2.9" fill="url(#sB)"/><circle cx="1585.9" cy="1513.9" r="3.2" fill="url(#sA)"/><circle cx="1592.1" cy="1513.1" r="3.0" fill="url(#sA)"/><circle cx="1598.4" cy="1512.9" r="2.6" fill="url(#sA)"/><circle cx="1605.2" cy="1513.0" r="2.8" fill="url(#sA)"/><circle cx="1610.6" cy="1513.0" r="2.8" fill="url(#sB)"/><circle cx="1617.0" cy="1512.6" r="2.8" fill="url(#sB)"/><circle cx="1624.8" cy="1513.3" r="3.2" fill="url(#sB)"/><circle cx="1630.8" cy="1512.6" r="2.7" fill="url(#sC)"/><circle cx="1636.2" cy="1512.2" r="3.4" fill="url(#sA)"/><circle cx="1642.8" cy="1512.2" r="3.3" fill="url(#sB)"/><circle cx="1649.6" cy="1512.4" r="3.0" fill="url(#sA)"/><circle cx="1655.1" cy="1512.9" r="3.2" fill="url(#sB)"/><circle cx="1661.3" cy="1512.9" r="3.1" fill="url(#sA)"/><circle cx="1669.4" cy="1513.5" r="3.0" fill="url(#sA)"/><circle cx="1675.9" cy="1512.3" r="2.9" fill="url(#sC)"/><circle cx="1682.0" cy="1513.1" r="2.7" fill="url(#sB)"/><circle cx="1688.2" cy="1513.4" r="3.1" fill="url(#sB)"/><circle cx="1694.0" cy="1512.4" r="2.9" fill="url(#sC)"/><circle cx="1707.9" cy="1512.2" r="2.9" fill="url(#sB)"/><circle cx="1713.3" cy="1513.6" r="3.2" fill="url(#sC)"/><circle cx="1719.4" cy="1513.8" r="3.2" fill="url(#sA)"/><circle cx="1726.6" cy="1512.3" r="2.7" fill="url(#sA)"/><circle cx="1732.8" cy="1512.5" r="3.3" fill="url(#sC)"/><circle cx="1744.4" cy="1512.5" r="3.0" fill="url(#sC)"/><circle cx="1759.2" cy="1512.3" r="3.4" fill="url(#sC)"/><circle cx="1763.6" cy="1512.6" r="3.3" fill="url(#sA)"/><circle cx="1771.6" cy="1513.4" r="3.1" fill="url(#sA)"/><circle cx="1777.9" cy="1514.0" r="3.0" fill="url(#sB)"/><circle cx="1783.8" cy="1513.6" r="3.2" fill="url(#sA)"/><circle cx="1789.2" cy="1513.8" r="3.5" fill="url(#sA)"/><circle cx="1797.4" cy="1513.4" r="3.3" fill="url(#sA)"/><circle cx="1802.8" cy="1513.9" r="3.4" fill="url(#sB)"/><circle cx="1808.9" cy="1513.8" r="3.1" fill="url(#sA)"/><circle cx="1562.8" cy="1519.2" r="2.9" fill="url(#sC)"/><circle cx="1569.3" cy="1518.6" r="3.3" fill="url(#sB)"/><circle cx="1576.0" cy="1519.5" r="3.5" fill="url(#sB)"/><circle cx="1582.4" cy="1517.8" r="3.2" fill="url(#sC)"/><circle cx="1588.2" cy="1518.7" r="3.1" fill="url(#sA)"/><circle cx="1595.4" cy="1519.1" r="2.6" fill="url(#sB)"/><circle cx="1602.2" cy="1518.2" r="3.2" fill="url(#sC)"/><circle cx="1607.9" cy="1519.4" r="2.9" fill="url(#sB)"/><circle cx="1613.5" cy="1517.8" r="3.1" fill="url(#sC)"/><circle cx="1620.7" cy="1519.2" r="3.0" fill="url(#sB)"/><circle cx="1627.7" cy="1518.3" r="3.3" fill="url(#sA)"/><circle cx="1632.6" cy="1518.5" r="3.2" fill="url(#sA)"/><circle cx="1640.3" cy="1519.3" r="3.1" fill="url(#sB)"/><circle cx="1646.4" cy="1518.7" r="3.0" fill="url(#sB)"/><circle cx="1651.9" cy="1519.2" r="3.5" fill="url(#sA)"/><circle cx="1658.1" cy="1518.1" r="2.9" fill="url(#sB)"/><circle cx="1664.7" cy="1519.2" r="3.4" fill="url(#sB)"/><circle cx="1672.6" cy="1519.2" r="3.1" fill="url(#sB)"/><circle cx="1678.8" cy="1518.2" r="3.3" fill="url(#sA)"/><circle cx="1684.4" cy="1518.3" r="3.2" fill="url(#sA)"/><circle cx="1690.8" cy="1519.2" r="2.7" fill="url(#sB)"/><circle cx="1698.3" cy="1518.6" r="3.0" fill="url(#sB)"/><circle cx="1702.9" cy="1519.2" r="3.0" fill="url(#sA)"/><circle cx="1710.2" cy="1518.5" r="3.2" fill="url(#sA)"/><circle cx="1716.1" cy="1519.0" r="2.8" fill="url(#sC)"/><circle cx="1722.1" cy="1519.1" r="2.8" fill="url(#sA)"/><circle cx="1729.9" cy="1518.7" r="2.7" fill="url(#sC)"/><circle cx="1736.1" cy="1518.2" r="3.1" fill="url(#sB)"/><circle cx="1742.7" cy="1517.8" r="2.6" fill="url(#sA)"/><circle cx="1749.5" cy="1517.9" r="3.2" fill="url(#sA)"/><circle cx="1754.7" cy="1518.7" r="3.1" fill="url(#sA)"/><circle cx="1760.7" cy="1519.1" r="3.2" fill="url(#sB)"/><circle cx="1768.7" cy="1517.8" r="2.8" fill="url(#sB)"/><circle cx="1774.3" cy="1519.5" r="3.0" fill="url(#sB)"/><circle cx="1780.8" cy="1517.8" r="3.3" fill="url(#sA)"/><circle cx="1786.5" cy="1519.1" r="2.7" fill="url(#sB)"/><circle cx="1793.9" cy="1519.3" r="2.8" fill="url(#sB)"/><circle cx="1800.5" cy="1519.2" r="3.1" fill="url(#sC)"/><circle cx="1805.3" cy="1518.8" r="2.9" fill="url(#sB)"/><circle cx="1565.8" cy="1524.7" r="3.3" fill="url(#sC)"/><circle cx="1572.5" cy="1525.0" r="3.2" fill="url(#sB)"/><circle cx="1578.0" cy="1524.1" r="2.9" fill="url(#sB)"/><circle cx="1585.3" cy="1523.4" r="3.0" fill="url(#sB)"/><circle cx="1591.3" cy="1524.4" r="3.4" fill="url(#sB)"/><circle cx="1598.8" cy="1523.8" r="3.3" fill="url(#sA)"/><circle cx="1603.6" cy="1523.2" r="2.7" fill="url(#sA)"/><circle cx="1610.9" cy="1524.5" r="3.2" fill="url(#sA)"/><circle cx="1617.4" cy="1525.1" r="3.1" fill="url(#sA)"/><circle cx="1624.1" cy="1524.4" r="2.9" fill="url(#sA)"/><circle cx="1630.5" cy="1523.5" r="3.1" fill="url(#sC)"/><circle cx="1637.2" cy="1523.7" r="3.1" fill="url(#sC)"/><circle cx="1643.9" cy="1523.4" r="2.9" fill="url(#sA)"/><circle cx="1648.7" cy="1524.9" r="3.1" fill="url(#sB)"/><circle cx="1656.3" cy="1524.9" r="3.0" fill="url(#sA)"/><circle cx="1669.3" cy="1524.0" r="2.8" fill="url(#sA)"/><circle cx="1674.1" cy="1524.5" r="3.2" fill="url(#sA)"/><circle cx="1680.7" cy="1524.8" r="2.8" fill="url(#sA)"/><circle cx="1688.1" cy="1524.8" r="3.3" fill="url(#sC)"/><circle cx="1693.7" cy="1523.8" r="3.4" fill="url(#sC)"/><circle cx="1700.1" cy="1524.5" r="3.4" fill="url(#sB)"/><circle cx="1706.3" cy="1525.1" r="3.1" fill="url(#sC)"/><circle cx="1712.5" cy="1525.0" r="2.6" fill="url(#sA)"/><circle cx="1719.5" cy="1525.0" r="2.7" fill="url(#sB)"/><circle cx="1725.7" cy="1524.4" r="3.2" fill="url(#sB)"/><circle cx="1732.8" cy="1524.0" r="3.1" fill="url(#sB)"/><circle cx="1738.3" cy="1523.5" r="3.3" fill="url(#sB)"/><circle cx="1745.5" cy="1524.5" r="2.9" fill="url(#sC)"/><circle cx="1751.2" cy="1523.7" r="2.8" fill="url(#sB)"/><circle cx="1757.3" cy="1523.2" r="3.2" fill="url(#sB)"/><circle cx="1765.4" cy="1524.2" r="3.3" fill="url(#sA)"/><circle cx="1770.5" cy="1523.7" r="3.5" fill="url(#sA)"/><circle cx="1778.3" cy="1524.0" r="2.8" fill="url(#sB)"/><circle cx="1783.0" cy="1523.3" r="2.6" fill="url(#sA)"/><circle cx="1790.2" cy="1524.6" r="2.9" fill="url(#sB)"/><circle cx="1796.7" cy="1524.7" r="2.7" fill="url(#sA)"/><circle cx="1803.4" cy="1523.2" r="2.8" fill="url(#sA)"/><circle cx="1810.1" cy="1524.2" r="3.2" fill="url(#sA)"/><circle cx="1562.7" cy="1530.4" r="3.5" fill="url(#sC)"/><circle cx="1569.0" cy="1530.6" r="3.1" fill="url(#sC)"/><circle cx="1575.7" cy="1529.0" r="3.4" fill="url(#sB)"/><circle cx="1582.2" cy="1529.2" r="3.4" fill="url(#sA)"/><circle cx="1588.5" cy="1530.6" r="2.6" fill="url(#sB)"/><circle cx="1594.1" cy="1529.2" r="2.8" fill="url(#sA)"/><circle cx="1601.9" cy="1530.7" r="2.7" fill="url(#sA)"/><circle cx="1607.0" cy="1530.2" r="2.8" fill="url(#sC)"/><circle cx="1614.0" cy="1529.2" r="3.3" fill="url(#sB)"/><circle cx="1620.7" cy="1528.8" r="2.7" fill="url(#sA)"/><circle cx="1627.2" cy="1530.5" r="2.8" fill="url(#sA)"/><circle cx="1632.9" cy="1530.5" r="2.7" fill="url(#sA)"/><circle cx="1640.4" cy="1529.2" r="2.9" fill="url(#sA)"/><circle cx="1645.4" cy="1529.3" r="3.2" fill="url(#sB)"/><circle cx="1651.7" cy="1529.0" r="3.3" fill="url(#sB)"/><circle cx="1659.0" cy="1529.1" r="2.9" fill="url(#sC)"/><circle cx="1664.9" cy="1530.7" r="2.6" fill="url(#sA)"/><circle cx="1671.7" cy="1529.6" r="3.4" fill="url(#sC)"/><circle cx="1678.6" cy="1530.5" r="2.6" fill="url(#sB)"/><circle cx="1684.4" cy="1530.6" r="2.8" fill="url(#sB)"/><circle cx="1691.0" cy="1530.6" r="3.1" fill="url(#sA)"/><circle cx="1697.6" cy="1529.3" r="3.0" fill="url(#sB)"/><circle cx="1703.8" cy="1530.1" r="3.0" fill="url(#sB)"/><circle cx="1710.0" cy="1530.3" r="3.0" fill="url(#sA)"/><circle cx="1717.3" cy="1528.9" r="2.9" fill="url(#sA)"/><circle cx="1723.1" cy="1529.8" r="3.5" fill="url(#sB)"/><circle cx="1728.6" cy="1530.0" r="3.5" fill="url(#sB)"/><circle cx="1735.3" cy="1528.9" r="3.2" fill="url(#sA)"/><circle cx="1742.4" cy="1529.9" r="2.9" fill="url(#sA)"/><circle cx="1748.9" cy="1529.1" r="2.7" fill="url(#sA)"/><circle cx="1754.5" cy="1529.3" r="2.6" fill="url(#sC)"/><circle cx="1761.9" cy="1530.5" r="3.3" fill="url(#sA)"/><circle cx="1768.1" cy="1530.2" r="3.2" fill="url(#sC)"/><circle cx="1773.7" cy="1529.4" r="3.0" fill="url(#sA)"/><circle cx="1781.2" cy="1529.2" r="3.3" fill="url(#sA)"/><circle cx="1786.2" cy="1529.0" r="2.8" fill="url(#sA)"/><circle cx="1794.2" cy="1530.5" r="2.9" fill="url(#sC)"/><circle cx="1799.1" cy="1530.0" r="3.2" fill="url(#sB)"/><circle cx="1805.6" cy="1529.9" r="2.7" fill="url(#sC)"/><circle cx="1567.0" cy="1536.2" r="3.2" fill="url(#sB)"/><circle cx="1572.1" cy="1535.2" r="2.7" fill="url(#sB)"/><circle cx="1578.8" cy="1535.0" r="3.1" fill="url(#sA)"/><circle cx="1585.2" cy="1536.3" r="3.2" fill="url(#sA)"/><circle cx="1591.4" cy="1535.6" r="3.3" fill="url(#sA)"/><circle cx="1604.7" cy="1534.7" r="3.4" fill="url(#sB)"/><circle cx="1611.5" cy="1535.1" r="2.8" fill="url(#sB)"/><circle cx="1617.8" cy="1534.8" r="2.8" fill="url(#sB)"/><circle cx="1624.6" cy="1535.5" r="3.3" fill="url(#sC)"/><circle cx="1629.5" cy="1534.7" r="3.0" fill="url(#sB)"/><circle cx="1635.6" cy="1534.7" r="3.1" fill="url(#sB)"/><circle cx="1643.5" cy="1535.3" r="3.2" fill="url(#sB)"/><circle cx="1648.7" cy="1535.9" r="3.4" fill="url(#sA)"/><circle cx="1655.5" cy="1534.4" r="3.2" fill="url(#sA)"/><circle cx="1662.9" cy="1535.0" r="3.3" fill="url(#sB)"/><circle cx="1669.0" cy="1536.2" r="2.8" fill="url(#sA)"/><circle cx="1674.5" cy="1534.7" r="3.0" fill="url(#sB)"/><circle cx="1682.0" cy="1535.6" r="3.0" fill="url(#sB)"/><circle cx="1687.3" cy="1534.6" r="3.4" fill="url(#sB)"/><circle cx="1694.3" cy="1535.6" r="3.2" fill="url(#sC)"/><circle cx="1701.3" cy="1535.0" r="3.0" fill="url(#sA)"/><circle cx="1707.7" cy="1535.6" r="2.7" fill="url(#sA)"/><circle cx="1714.3" cy="1534.5" r="2.7" fill="url(#sA)"/><circle cx="1719.8" cy="1534.6" r="2.9" fill="url(#sB)"/><circle cx="1726.0" cy="1535.8" r="3.1" fill="url(#sA)"/><circle cx="1733.0" cy="1534.7" r="2.9" fill="url(#sC)"/><circle cx="1738.3" cy="1535.3" r="3.3" fill="url(#sA)"/><circle cx="1744.9" cy="1534.8" r="3.3" fill="url(#sB)"/><circle cx="1751.2" cy="1534.6" r="2.8" fill="url(#sC)"/><circle cx="1757.3" cy="1535.8" r="3.1" fill="url(#sB)"/><circle cx="1765.4" cy="1535.5" r="2.9" fill="url(#sA)"/><circle cx="1771.8" cy="1534.9" r="3.4" fill="url(#sB)"/><circle cx="1778.3" cy="1534.9" r="3.1" fill="url(#sB)"/><circle cx="1784.2" cy="1535.4" r="3.1" fill="url(#sB)"/><circle cx="1789.7" cy="1535.3" r="2.8" fill="url(#sA)"/><circle cx="1796.9" cy="1535.8" r="2.8" fill="url(#sB)"/><circle cx="1810.3" cy="1535.3" r="2.6" fill="url(#sB)"/><circle cx="1562.1" cy="1540.4" r="3.1" fill="url(#sB)"/><circle cx="1569.9" cy="1540.2" r="3.2" fill="url(#sB)"/><circle cx="1576.2" cy="1542.0" r="2.7" fill="url(#sA)"/><circle cx="1582.1" cy="1540.3" r="3.4" fill="url(#sC)"/><circle cx="1588.9" cy="1541.5" r="2.7" fill="url(#sA)"/><circle cx="1594.7" cy="1541.4" r="2.6" fill="url(#sA)"/><circle cx="1600.5" cy="1542.0" r="3.5" fill="url(#sC)"/><circle cx="1607.3" cy="1540.8" r="3.0" fill="url(#sA)"/><circle cx="1615.2" cy="1541.3" r="3.1" fill="url(#sB)"/><circle cx="1621.5" cy="1540.2" r="3.2" fill="url(#sC)"/><circle cx="1626.8" cy="1541.7" r="2.7" fill="url(#sB)"/><circle cx="1632.8" cy="1540.6" r="3.3" fill="url(#sC)"/><circle cx="1639.5" cy="1540.0" r="3.5" fill="url(#sB)"/><circle cx="1647.2" cy="1540.3" r="3.1" fill="url(#sA)"/><circle cx="1658.4" cy="1541.2" r="3.3" fill="url(#sA)"/><circle cx="1666.3" cy="1540.4" r="3.4" fill="url(#sB)"/><circle cx="1670.9" cy="1540.6" r="3.2" fill="url(#sC)"/><circle cx="1678.2" cy="1541.0" r="2.8" fill="url(#sA)"/><circle cx="1683.9" cy="1541.5" r="2.9" fill="url(#sA)"/><circle cx="1691.9" cy="1541.5" r="2.9" fill="url(#sC)"/><circle cx="1696.7" cy="1540.7" r="3.3" fill="url(#sB)"/><circle cx="1703.5" cy="1541.4" r="2.9" fill="url(#sA)"/><circle cx="1711.0" cy="1540.8" r="3.0" fill="url(#sA)"/><circle cx="1717.3" cy="1541.8" r="3.4" fill="url(#sA)"/><circle cx="1722.0" cy="1540.3" r="3.3" fill="url(#sB)"/><circle cx="1736.4" cy="1541.0" r="3.1" fill="url(#sA)"/><circle cx="1742.2" cy="1540.1" r="2.9" fill="url(#sC)"/><circle cx="1748.5" cy="1541.8" r="3.3" fill="url(#sA)"/><circle cx="1754.8" cy="1541.0" r="3.2" fill="url(#sC)"/><circle cx="1767.7" cy="1541.9" r="2.8" fill="url(#sA)"/><circle cx="1773.5" cy="1541.1" r="3.4" fill="url(#sA)"/><circle cx="1781.5" cy="1541.9" r="3.1" fill="url(#sA)"/><circle cx="1787.2" cy="1540.5" r="2.6" fill="url(#sB)"/><circle cx="1793.3" cy="1540.3" r="3.4" fill="url(#sA)"/><circle cx="1799.1" cy="1540.2" r="3.2" fill="url(#sA)"/><circle cx="1806.1" cy="1540.2" r="3.3" fill="url(#sB)"/><circle cx="1565.3" cy="1545.9" r="3.0" fill="url(#sA)"/><circle cx="1573.0" cy="1547.3" r="2.9" fill="url(#sB)"/><circle cx="1578.1" cy="1546.1" r="3.1" fill="url(#sC)"/><circle cx="1586.0" cy="1545.8" r="2.6" fill="url(#sB)"/><circle cx="1592.4" cy="1546.7" r="3.3" fill="url(#sA)"/><circle cx="1598.5" cy="1547.2" r="3.2" fill="url(#sA)"/><circle cx="1604.3" cy="1547.5" r="2.8" fill="url(#sA)"/><circle cx="1611.8" cy="1547.2" r="2.7" fill="url(#sA)"/><circle cx="1617.0" cy="1546.7" r="3.1" fill="url(#sB)"/><circle cx="1624.1" cy="1547.2" r="3.1" fill="url(#sC)"/><circle cx="1629.9" cy="1546.6" r="3.1" fill="url(#sA)"/><circle cx="1635.7" cy="1546.3" r="2.9" fill="url(#sC)"/><circle cx="1643.6" cy="1546.4" r="3.0" fill="url(#sA)"/><circle cx="1649.2" cy="1545.9" r="2.8" fill="url(#sA)"/><circle cx="1656.5" cy="1546.7" r="3.1" fill="url(#sC)"/><circle cx="1661.7" cy="1546.4" r="2.8" fill="url(#sA)"/><circle cx="1668.9" cy="1546.9" r="2.9" fill="url(#sA)"/><circle cx="1675.3" cy="1545.6" r="2.8" fill="url(#sA)"/><circle cx="1682.0" cy="1546.2" r="3.4" fill="url(#sB)"/><circle cx="1688.7" cy="1546.2" r="3.2" fill="url(#sA)"/><circle cx="1694.7" cy="1546.4" r="3.2" fill="url(#sC)"/><circle cx="1701.3" cy="1546.3" r="3.0" fill="url(#sA)"/><circle cx="1706.4" cy="1547.3" r="3.5" fill="url(#sB)"/><circle cx="1713.7" cy="1547.2" r="3.3" fill="url(#sB)"/><circle cx="1719.4" cy="1546.1" r="3.4" fill="url(#sC)"/><circle cx="1725.9" cy="1547.1" r="2.9" fill="url(#sB)"/><circle cx="1733.2" cy="1546.9" r="2.8" fill="url(#sB)"/><circle cx="1739.5" cy="1546.7" r="3.2" fill="url(#sA)"/><circle cx="1744.8" cy="1546.5" r="3.3" fill="url(#sB)"/><circle cx="1752.2" cy="1545.6" r="2.9" fill="url(#sA)"/><circle cx="1758.0" cy="1545.8" r="3.4" fill="url(#sB)"/><circle cx="1764.4" cy="1545.9" r="3.3" fill="url(#sB)"/><circle cx="1770.0" cy="1545.6" r="3.2" fill="url(#sB)"/><circle cx="1783.5" cy="1547.0" r="3.3" fill="url(#sA)"/><circle cx="1790.1" cy="1547.5" r="3.3" fill="url(#sA)"/><circle cx="1796.5" cy="1546.3" r="3.0" fill="url(#sA)"/><circle cx="1803.5" cy="1547.5" r="3.0" fill="url(#sB)"/><circle cx="1809.7" cy="1545.7" r="3.3" fill="url(#sA)"/><circle cx="1562.7" cy="1553.2" r="2.7" fill="url(#sB)"/><circle cx="1568.8" cy="1551.2" r="3.4" fill="url(#sA)"/><circle cx="1581.3" cy="1551.7" r="3.4" fill="url(#sC)"/><circle cx="1588.2" cy="1551.3" r="3.3" fill="url(#sA)"/><circle cx="1595.0" cy="1552.6" r="3.1" fill="url(#sB)"/><circle cx="1600.6" cy="1551.2" r="3.2" fill="url(#sA)"/><circle cx="1607.7" cy="1552.5" r="3.1" fill="url(#sA)"/><circle cx="1614.8" cy="1553.1" r="2.9" fill="url(#sC)"/><circle cx="1619.6" cy="1551.2" r="3.4" fill="url(#sA)"/><circle cx="1626.5" cy="1552.6" r="2.9" fill="url(#sA)"/><circle cx="1633.8" cy="1552.0" r="2.6" fill="url(#sA)"/><circle cx="1639.9" cy="1551.9" r="2.7" fill="url(#sC)"/><circle cx="1646.6" cy="1553.1" r="2.7" fill="url(#sA)"/><circle cx="1652.8" cy="1553.1" r="2.9" fill="url(#sB)"/><circle cx="1658.5" cy="1553.0" r="3.1" fill="url(#sA)"/><circle cx="1665.4" cy="1551.3" r="2.7" fill="url(#sA)"/><circle cx="1672.5" cy="1552.5" r="2.9" fill="url(#sA)"/><circle cx="1677.7" cy="1551.8" r="3.2" fill="url(#sA)"/><circle cx="1685.4" cy="1551.7" r="3.3" fill="url(#sC)"/><circle cx="1690.4" cy="1552.8" r="3.1" fill="url(#sA)"/><circle cx="1702.8" cy="1551.7" r="2.8" fill="url(#sA)"/><circle cx="1710.1" cy="1552.9" r="2.8" fill="url(#sC)"/><circle cx="1715.7" cy="1551.6" r="3.0" fill="url(#sA)"/><circle cx="1723.9" cy="1551.8" r="3.4" fill="url(#sB)"/><circle cx="1736.3" cy="1551.2" r="3.3" fill="url(#sC)"/><circle cx="1741.6" cy="1552.0" r="3.2" fill="url(#sA)"/><circle cx="1747.7" cy="1551.9" r="2.8" fill="url(#sA)"/><circle cx="1754.5" cy="1552.5" r="3.0" fill="url(#sA)"/><circle cx="1760.8" cy="1552.7" r="3.4" fill="url(#sB)"/><circle cx="1768.2" cy="1552.1" r="2.9" fill="url(#sB)"/><circle cx="1774.9" cy="1552.0" r="2.7" fill="url(#sA)"/><circle cx="1780.6" cy="1551.8" r="3.0" fill="url(#sC)"/><circle cx="1786.5" cy="1552.6" r="2.8" fill="url(#sC)"/><circle cx="1806.1" cy="1551.7" r="2.9" fill="url(#sA)"/><circle cx="1565.9" cy="1558.2" r="2.8" fill="url(#sA)"/><circle cx="1572.8" cy="1558.3" r="2.6" fill="url(#sA)"/><circle cx="1578.8" cy="1558.5" r="3.1" fill="url(#sC)"/><circle cx="1585.0" cy="1558.7" r="3.5" fill="url(#sA)"/><circle cx="1591.7" cy="1556.9" r="2.7" fill="url(#sA)"/><circle cx="1598.2" cy="1558.7" r="3.2" fill="url(#sA)"/><circle cx="1605.5" cy="1558.4" r="3.0" fill="url(#sB)"/><circle cx="1611.0" cy="1557.8" r="3.1" fill="url(#sA)"/><circle cx="1623.7" cy="1558.6" r="3.1" fill="url(#sA)"/><circle cx="1630.6" cy="1558.8" r="3.2" fill="url(#sA)"/><circle cx="1637.1" cy="1557.4" r="3.4" fill="url(#sA)"/><circle cx="1643.5" cy="1557.5" r="3.2" fill="url(#sA)"/><circle cx="1649.4" cy="1557.0" r="3.4" fill="url(#sB)"/><circle cx="1656.4" cy="1558.5" r="3.1" fill="url(#sA)"/><circle cx="1661.9" cy="1557.6" r="3.2" fill="url(#sC)"/><circle cx="1667.7" cy="1556.8" r="3.1" fill="url(#sB)"/><circle cx="1675.7" cy="1557.0" r="2.8" fill="url(#sA)"/><circle cx="1681.1" cy="1558.7" r="2.8" fill="url(#sB)"/><circle cx="1687.2" cy="1558.2" r="2.8" fill="url(#sA)"/><circle cx="1694.3" cy="1557.1" r="3.5" fill="url(#sA)"/><circle cx="1701.1" cy="1557.1" r="3.4" fill="url(#sA)"/><circle cx="1708.0" cy="1558.6" r="3.3" fill="url(#sB)"/><circle cx="1712.9" cy="1557.9" r="2.8" fill="url(#sA)"/><circle cx="1720.1" cy="1558.7" r="3.3" fill="url(#sB)"/><circle cx="1725.9" cy="1557.7" r="3.2" fill="url(#sA)"/><circle cx="1733.6" cy="1558.3" r="3.5" fill="url(#sC)"/><circle cx="1738.1" cy="1557.1" r="3.1" fill="url(#sA)"/><circle cx="1745.1" cy="1557.7" r="3.4" fill="url(#sA)"/><circle cx="1752.7" cy="1558.0" r="3.0" fill="url(#sC)"/><circle cx="1758.7" cy="1558.1" r="2.9" fill="url(#sA)"/><circle cx="1765.6" cy="1557.5" r="3.4" fill="url(#sA)"/><circle cx="1770.5" cy="1558.5" r="2.8" fill="url(#sB)"/><circle cx="1776.9" cy="1557.4" r="2.8" fill="url(#sC)"/><circle cx="1784.1" cy="1557.6" r="3.1" fill="url(#sB)"/><circle cx="1789.4" cy="1557.3" r="2.8" fill="url(#sA)"/><circle cx="1796.2" cy="1557.0" r="3.5" fill="url(#sA)"/><circle cx="1802.2" cy="1558.4" r="3.1" fill="url(#sB)"/><circle cx="1809.0" cy="1558.0" r="3.3" fill="url(#sA)"/><circle cx="1562.0" cy="1564.3" r="3.4" fill="url(#sA)"/><circle cx="1569.0" cy="1564.0" r="3.1" fill="url(#sA)"/><circle cx="1575.0" cy="1563.0" r="3.0" fill="url(#sA)"/><circle cx="1581.2" cy="1563.9" r="3.5" fill="url(#sA)"/><circle cx="1589.0" cy="1564.3" r="3.1" fill="url(#sA)"/><circle cx="1594.5" cy="1564.3" r="3.1" fill="url(#sB)"/><circle cx="1600.5" cy="1563.9" r="2.8" fill="url(#sA)"/><circle cx="1608.3" cy="1563.0" r="3.2" fill="url(#sC)"/><circle cx="1614.0" cy="1563.3" r="2.8" fill="url(#sA)"/><circle cx="1621.3" cy="1563.3" r="2.7" fill="url(#sA)"/><circle cx="1626.7" cy="1564.3" r="2.9" fill="url(#sA)"/><circle cx="1634.1" cy="1563.1" r="2.6" fill="url(#sB)"/><circle cx="1640.6" cy="1563.3" r="2.8" fill="url(#sA)"/><circle cx="1647.1" cy="1564.2" r="3.1" fill="url(#sC)"/><circle cx="1653.1" cy="1563.7" r="2.7" fill="url(#sC)"/><circle cx="1659.2" cy="1564.1" r="2.8" fill="url(#sA)"/><circle cx="1666.3" cy="1564.0" r="3.3" fill="url(#sC)"/><circle cx="1671.7" cy="1562.6" r="3.4" fill="url(#sB)"/><circle cx="1678.2" cy="1563.6" r="2.6" fill="url(#sC)"/><circle cx="1683.7" cy="1564.3" r="2.8" fill="url(#sA)"/><circle cx="1690.6" cy="1564.2" r="2.8" fill="url(#sA)"/><circle cx="1696.8" cy="1564.0" r="3.4" fill="url(#sB)"/><circle cx="1703.9" cy="1563.8" r="3.2" fill="url(#sB)"/><circle cx="1710.9" cy="1563.9" r="3.3" fill="url(#sA)"/><circle cx="1716.9" cy="1563.8" r="3.3" fill="url(#sA)"/><circle cx="1722.5" cy="1563.1" r="2.7" fill="url(#sB)"/><circle cx="1729.4" cy="1563.3" r="3.5" fill="url(#sA)"/><circle cx="1734.9" cy="1563.7" r="2.6" fill="url(#sB)"/><circle cx="1741.8" cy="1564.2" r="3.2" fill="url(#sB)"/><circle cx="1749.1" cy="1563.0" r="2.6" fill="url(#sB)"/><circle cx="1754.7" cy="1563.4" r="3.0" fill="url(#sB)"/><circle cx="1760.5" cy="1562.7" r="3.3" fill="url(#sA)"/><circle cx="1767.9" cy="1563.3" r="2.9" fill="url(#sA)"/><circle cx="1774.2" cy="1563.3" r="2.8" fill="url(#sC)"/><circle cx="1780.6" cy="1564.2" r="2.9" fill="url(#sA)"/><circle cx="1787.3" cy="1563.8" r="2.8" fill="url(#sB)"/><circle cx="1792.5" cy="1563.6" r="2.7" fill="url(#sA)"/><circle cx="1800.2" cy="1562.5" r="2.6" fill="url(#sB)"/><circle cx="1806.0" cy="1563.9" r="2.7" fill="url(#sC)"/><circle cx="1565.5" cy="1569.8" r="3.3" fill="url(#sA)"/><circle cx="1573.1" cy="1568.5" r="2.9" fill="url(#sA)"/><circle cx="1579.2" cy="1569.6" r="2.6" fill="url(#sB)"/><circle cx="1585.8" cy="1568.9" r="3.2" fill="url(#sA)"/><circle cx="1591.0" cy="1569.5" r="3.3" fill="url(#sA)"/><circle cx="1605.3" cy="1569.9" r="3.5" fill="url(#sB)"/><circle cx="1612.0" cy="1568.9" r="3.5" fill="url(#sB)"/><circle cx="1616.6" cy="1569.4" r="3.1" fill="url(#sA)"/><circle cx="1623.8" cy="1569.3" r="3.0" fill="url(#sA)"/><circle cx="1629.5" cy="1569.6" r="3.4" fill="url(#sB)"/><circle cx="1636.4" cy="1568.6" r="2.7" fill="url(#sB)"/><circle cx="1643.7" cy="1570.0" r="3.5" fill="url(#sA)"/><circle cx="1648.4" cy="1568.2" r="3.3" fill="url(#sC)"/><circle cx="1656.0" cy="1569.0" r="2.8" fill="url(#sB)"/><circle cx="1661.8" cy="1568.4" r="3.2" fill="url(#sB)"/><circle cx="1668.4" cy="1568.4" r="2.9" fill="url(#sB)"/><circle cx="1674.5" cy="1568.3" r="3.4" fill="url(#sA)"/><circle cx="1681.6" cy="1569.3" r="3.0" fill="url(#sB)"/><circle cx="1687.5" cy="1569.7" r="2.8" fill="url(#sB)"/><circle cx="1699.9" cy="1569.1" r="3.1" fill="url(#sA)"/><circle cx="1707.8" cy="1568.4" r="3.2" fill="url(#sB)"/><circle cx="1713.8" cy="1568.1" r="2.8" fill="url(#sA)"/><circle cx="1725.3" cy="1568.3" r="2.7" fill="url(#sB)"/><circle cx="1733.5" cy="1568.2" r="3.3" fill="url(#sA)"/><circle cx="1738.7" cy="1570.0" r="2.8" fill="url(#sB)"/><circle cx="1744.7" cy="1569.1" r="2.9" fill="url(#sA)"/><circle cx="1751.5" cy="1569.3" r="3.0" fill="url(#sB)"/><circle cx="1758.2" cy="1568.3" r="3.2" fill="url(#sA)"/><circle cx="1765.4" cy="1568.1" r="2.7" fill="url(#sA)"/><circle cx="1771.7" cy="1569.4" r="2.9" fill="url(#sB)"/><circle cx="1777.9" cy="1568.4" r="3.2" fill="url(#sB)"/><circle cx="1790.4" cy="1569.3" r="3.3" fill="url(#sB)"/><circle cx="1796.0" cy="1569.6" r="2.7" fill="url(#sB)"/><circle cx="1802.7" cy="1569.0" r="2.6" fill="url(#sB)"/><circle cx="1810.1" cy="1568.1" r="2.8" fill="url(#sB)"/><circle cx="1562.5" cy="1573.7" r="3.3" fill="url(#sB)"/><circle cx="1569.2" cy="1574.9" r="3.2" fill="url(#sA)"/><circle cx="1575.5" cy="1575.5" r="2.9" fill="url(#sA)"/><circle cx="1581.9" cy="1575.4" r="3.2" fill="url(#sA)"/><circle cx="1588.5" cy="1575.2" r="2.7" fill="url(#sA)"/><circle cx="1595.9" cy="1574.8" r="3.1" fill="url(#sB)"/><circle cx="1600.8" cy="1575.5" r="3.2" fill="url(#sB)"/><circle cx="1608.5" cy="1574.4" r="3.0" fill="url(#sB)"/><circle cx="1614.7" cy="1573.7" r="3.4" fill="url(#sA)"/><circle cx="1621.3" cy="1574.0" r="2.8" fill="url(#sB)"/><circle cx="1633.4" cy="1575.5" r="3.2" fill="url(#sA)"/><circle cx="1640.7" cy="1574.6" r="3.2" fill="url(#sB)"/><circle cx="1653.2" cy="1574.0" r="3.0" fill="url(#sB)"/><circle cx="1659.1" cy="1573.9" r="3.1" fill="url(#sA)"/><circle cx="1666.1" cy="1574.6" r="3.2" fill="url(#sC)"/><circle cx="1671.9" cy="1574.1" r="3.0" fill="url(#sC)"/><circle cx="1678.4" cy="1574.5" r="2.9" fill="url(#sC)"/><circle cx="1683.9" cy="1573.9" r="3.0" fill="url(#sA)"/><circle cx="1690.4" cy="1575.4" r="3.4" fill="url(#sB)"/><circle cx="1704.1" cy="1573.8" r="3.2" fill="url(#sB)"/><circle cx="1710.5" cy="1575.3" r="3.3" fill="url(#sC)"/><circle cx="1717.5" cy="1575.3" r="2.6" fill="url(#sA)"/><circle cx="1729.3" cy="1573.7" r="3.0" fill="url(#sA)"/><circle cx="1735.3" cy="1573.6" r="3.2" fill="url(#sA)"/><circle cx="1743.0" cy="1574.9" r="3.1" fill="url(#sB)"/><circle cx="1749.1" cy="1575.0" r="3.3" fill="url(#sB)"/><circle cx="1755.5" cy="1574.6" r="2.8" fill="url(#sB)"/><circle cx="1760.9" cy="1575.4" r="3.5" fill="url(#sB)"/><circle cx="1767.4" cy="1574.5" r="3.2" fill="url(#sA)"/><circle cx="1774.9" cy="1575.3" r="3.0" fill="url(#sC)"/><circle cx="1786.6" cy="1573.9" r="2.8" fill="url(#sA)"/><circle cx="1806.6" cy="1575.1" r="3.2" fill="url(#sB)"/><circle cx="1566.7" cy="1580.1" r="3.1" fill="url(#sC)"/><circle cx="1572.9" cy="1581.2" r="3.2" fill="url(#sC)"/><circle cx="1585.8" cy="1579.4" r="3.3" fill="url(#sC)"/><circle cx="1591.6" cy="1579.7" r="3.3" fill="url(#sA)"/><circle cx="1599.0" cy="1579.5" r="2.9" fill="url(#sA)"/><circle cx="1604.5" cy="1580.8" r="3.0" fill="url(#sB)"/><circle cx="1610.6" cy="1580.8" r="3.2" fill="url(#sB)"/><circle cx="1616.8" cy="1579.7" r="3.3" fill="url(#sB)"/><circle cx="1623.3" cy="1579.4" r="2.7" fill="url(#sA)"/><circle cx="1630.4" cy="1579.4" r="2.7" fill="url(#sB)"/><circle cx="1637.5" cy="1580.0" r="3.4" fill="url(#sC)"/><circle cx="1649.6" cy="1580.5" r="3.5" fill="url(#sB)"/><circle cx="1655.9" cy="1579.3" r="2.6" fill="url(#sA)"/><circle cx="1662.9" cy="1581.0" r="2.8" fill="url(#sB)"/><circle cx="1668.9" cy="1580.2" r="3.2" fill="url(#sB)"/><circle cx="1674.9" cy="1579.2" r="3.4" fill="url(#sC)"/><circle cx="1682.1" cy="1580.6" r="2.7" fill="url(#sA)"/><circle cx="1688.4" cy="1580.1" r="3.1" fill="url(#sA)"/><circle cx="1694.0" cy="1579.7" r="3.0" fill="url(#sA)"/><circle cx="1700.3" cy="1580.9" r="3.5" fill="url(#sA)"/><circle cx="1706.1" cy="1579.2" r="3.0" fill="url(#sA)"/><circle cx="1713.1" cy="1579.3" r="2.7" fill="url(#sA)"/><circle cx="1720.2" cy="1579.9" r="2.7" fill="url(#sA)"/><circle cx="1726.4" cy="1580.1" r="3.3" fill="url(#sB)"/><circle cx="1732.3" cy="1579.8" r="3.4" fill="url(#sA)"/><circle cx="1738.0" cy="1581.1" r="3.5" fill="url(#sA)"/><circle cx="1745.2" cy="1580.0" r="2.8" fill="url(#sB)"/><circle cx="1751.4" cy="1579.5" r="3.0" fill="url(#sC)"/><circle cx="1759.0" cy="1579.9" r="3.3" fill="url(#sC)"/><circle cx="1765.6" cy="1579.5" r="3.2" fill="url(#sB)"/><circle cx="1770.4" cy="1579.4" r="3.3" fill="url(#sC)"/><circle cx="1777.4" cy="1579.6" r="3.1" fill="url(#sA)"/><circle cx="1784.3" cy="1579.8" r="2.8" fill="url(#sB)"/><circle cx="1790.5" cy="1579.3" r="2.9" fill="url(#sC)"/><circle cx="1795.8" cy="1580.5" r="3.3" fill="url(#sC)"/><circle cx="1803.8" cy="1579.4" r="3.2" fill="url(#sA)"/><circle cx="1809.1" cy="1579.3" r="3.4" fill="url(#sB)"/><circle cx="1562.4" cy="1584.9" r="3.1" fill="url(#sB)"/><circle cx="1569.6" cy="1585.6" r="2.8" fill="url(#sA)"/><circle cx="1574.8" cy="1586.3" r="2.7" fill="url(#sA)"/><circle cx="1582.4" cy="1585.7" r="3.4" fill="url(#sB)"/><circle cx="1588.3" cy="1584.9" r="3.4" fill="url(#sB)"/><circle cx="1594.2" cy="1585.9" r="3.5" fill="url(#sB)"/><circle cx="1601.7" cy="1585.2" r="2.8" fill="url(#sA)"/><circle cx="1608.4" cy="1584.9" r="3.1" fill="url(#sB)"/><circle cx="1614.7" cy="1585.4" r="2.9" fill="url(#sC)"/><circle cx="1621.5" cy="1586.1" r="3.1" fill="url(#sC)"/><circle cx="1626.2" cy="1586.2" r="3.3" fill="url(#sA)"/><circle cx="1633.2" cy="1586.0" r="2.8" fill="url(#sA)"/><circle cx="1639.4" cy="1585.5" r="3.1" fill="url(#sB)"/><circle cx="1646.5" cy="1586.2" r="2.6" fill="url(#sA)"/><circle cx="1653.0" cy="1585.1" r="3.1" fill="url(#sB)"/><circle cx="1659.0" cy="1585.5" r="3.3" fill="url(#sA)"/><circle cx="1671.3" cy="1585.1" r="3.0" fill="url(#sA)"/><circle cx="1677.7" cy="1585.5" r="2.9" fill="url(#sC)"/><circle cx="1684.7" cy="1586.0" r="3.2" fill="url(#sA)"/><circle cx="1690.0" cy="1586.1" r="3.3" fill="url(#sC)"/><circle cx="1697.4" cy="1585.8" r="3.0" fill="url(#sB)"/><circle cx="1703.2" cy="1585.1" r="2.6" fill="url(#sA)"/><circle cx="1709.5" cy="1585.4" r="2.7" fill="url(#sB)"/><circle cx="1717.2" cy="1585.5" r="2.8" fill="url(#sB)"/><circle cx="1723.4" cy="1585.4" r="2.9" fill="url(#sA)"/><circle cx="1729.1" cy="1585.2" r="3.2" fill="url(#sB)"/><circle cx="1736.7" cy="1586.4" r="2.8" fill="url(#sA)"/><circle cx="1741.5" cy="1586.0" r="2.6" fill="url(#sB)"/><circle cx="1748.2" cy="1584.8" r="3.0" fill="url(#sB)"/><circle cx="1754.6" cy="1586.0" r="3.4" fill="url(#sA)"/><circle cx="1761.6" cy="1585.2" r="3.5" fill="url(#sA)"/><circle cx="1775.0" cy="1586.4" r="3.4" fill="url(#sB)"/><circle cx="1781.4" cy="1586.1" r="3.0" fill="url(#sB)"/><circle cx="1787.0" cy="1585.3" r="2.8" fill="url(#sB)"/><circle cx="1792.9" cy="1586.5" r="2.9" fill="url(#sB)"/><circle cx="1799.5" cy="1586.7" r="3.4" fill="url(#sC)"/><circle cx="1806.0" cy="1586.6" r="3.2" fill="url(#sA)"/><circle cx="1566.0" cy="1592.3" r="3.0" fill="url(#sA)"/><circle cx="1573.0" cy="1591.8" r="3.4" fill="url(#sB)"/><circle cx="1579.5" cy="1591.2" r="2.7" fill="url(#sB)"/><circle cx="1584.6" cy="1592.4" r="2.6" fill="url(#sA)"/><circle cx="1591.0" cy="1591.8" r="2.8" fill="url(#sC)"/><circle cx="1599.0" cy="1592.3" r="3.0" fill="url(#sB)"/><circle cx="1605.2" cy="1592.0" r="3.1" fill="url(#sA)"/><circle cx="1610.0" cy="1591.1" r="2.7" fill="url(#sA)"/><circle cx="1617.0" cy="1590.9" r="2.6" fill="url(#sA)"/><circle cx="1623.5" cy="1590.4" r="2.8" fill="url(#sA)"/><circle cx="1630.2" cy="1590.8" r="2.9" fill="url(#sA)"/><circle cx="1637.2" cy="1591.3" r="2.7" fill="url(#sB)"/><circle cx="1643.3" cy="1590.4" r="3.0" fill="url(#sA)"/><circle cx="1649.2" cy="1591.5" r="2.8" fill="url(#sC)"/><circle cx="1656.6" cy="1591.3" r="3.2" fill="url(#sA)"/><circle cx="1661.7" cy="1590.8" r="3.0" fill="url(#sB)"/><circle cx="1669.3" cy="1591.6" r="2.9" fill="url(#sA)"/><circle cx="1675.2" cy="1592.3" r="3.1" fill="url(#sA)"/><circle cx="1681.1" cy="1590.7" r="3.3" fill="url(#sA)"/><circle cx="1688.5" cy="1591.2" r="3.3" fill="url(#sB)"/><circle cx="1694.2" cy="1590.5" r="2.8" fill="url(#sA)"/><circle cx="1700.2" cy="1591.2" r="2.8" fill="url(#sB)"/><circle cx="1706.7" cy="1591.9" r="3.4" fill="url(#sC)"/><circle cx="1714.3" cy="1591.0" r="3.1" fill="url(#sC)"/><circle cx="1719.5" cy="1591.0" r="2.7" fill="url(#sA)"/><circle cx="1726.1" cy="1591.6" r="2.7" fill="url(#sB)"/><circle cx="1733.1" cy="1592.3" r="3.4" fill="url(#sB)"/><circle cx="1738.7" cy="1592.3" r="3.1" fill="url(#sB)"/><circle cx="1745.2" cy="1591.6" r="3.0" fill="url(#sB)"/><circle cx="1751.9" cy="1592.4" r="2.9" fill="url(#sA)"/><circle cx="1758.4" cy="1591.5" r="3.2" fill="url(#sA)"/><circle cx="1763.6" cy="1590.7" r="2.7" fill="url(#sA)"/><circle cx="1771.9" cy="1590.9" r="2.7" fill="url(#sA)"/><circle cx="1777.8" cy="1591.3" r="3.4" fill="url(#sA)"/><circle cx="1784.6" cy="1591.3" r="3.3" fill="url(#sB)"/><circle cx="1790.6" cy="1590.5" r="2.6" fill="url(#sA)"/><circle cx="1795.7" cy="1592.1" r="2.7" fill="url(#sA)"/><circle cx="1802.8" cy="1590.9" r="2.9" fill="url(#sA)"/><circle cx="1808.6" cy="1592.3" r="3.3" fill="url(#sB)"/><circle cx="1564.0" cy="1597.5" r="3.1" fill="url(#sA)"/><circle cx="1568.8" cy="1596.6" r="3.2" fill="url(#sB)"/><circle cx="1576.6" cy="1596.0" r="3.2" fill="url(#sB)"/><circle cx="1581.5" cy="1596.3" r="3.2" fill="url(#sC)"/><circle cx="1587.9" cy="1597.0" r="2.8" fill="url(#sB)"/><circle cx="1594.9" cy="1597.9" r="3.3" fill="url(#sA)"/><circle cx="1601.8" cy="1596.3" r="2.9" fill="url(#sB)"/><circle cx="1607.4" cy="1596.6" r="2.7" fill="url(#sA)"/><circle cx="1614.2" cy="1596.6" r="3.2" fill="url(#sB)"/><circle cx="1619.7" cy="1597.9" r="2.7" fill="url(#sB)"/><circle cx="1626.9" cy="1596.1" r="3.4" fill="url(#sC)"/><circle cx="1632.5" cy="1596.2" r="3.1" fill="url(#sB)"/><circle cx="1639.4" cy="1596.3" r="3.2" fill="url(#sA)"/><circle cx="1646.3" cy="1597.0" r="3.0" fill="url(#sB)"/><circle cx="1653.2" cy="1596.5" r="3.0" fill="url(#sB)"/><circle cx="1658.6" cy="1596.5" r="2.9" fill="url(#sB)"/><circle cx="1665.7" cy="1596.3" r="3.2" fill="url(#sA)"/><circle cx="1671.7" cy="1596.9" r="3.2" fill="url(#sB)"/><circle cx="1677.6" cy="1597.8" r="2.7" fill="url(#sB)"/><circle cx="1684.1" cy="1596.6" r="3.5" fill="url(#sB)"/><circle cx="1690.2" cy="1597.1" r="3.3" fill="url(#sB)"/><circle cx="1697.6" cy="1597.0" r="3.4" fill="url(#sB)"/><circle cx="1704.2" cy="1596.3" r="2.9" fill="url(#sB)"/><circle cx="1710.1" cy="1596.1" r="3.0" fill="url(#sB)"/><circle cx="1715.9" cy="1597.3" r="2.6" fill="url(#sB)"/><circle cx="1723.7" cy="1596.2" r="2.9" fill="url(#sA)"/><circle cx="1728.6" cy="1597.9" r="2.9" fill="url(#sA)"/><circle cx="1736.5" cy="1597.6" r="2.8" fill="url(#sB)"/><circle cx="1742.4" cy="1596.8" r="3.3" fill="url(#sB)"/><circle cx="1749.6" cy="1597.1" r="3.0" fill="url(#sB)"/><circle cx="1754.5" cy="1597.2" r="3.4" fill="url(#sB)"/><circle cx="1761.3" cy="1597.9" r="3.2" fill="url(#sB)"/><circle cx="1768.4" cy="1597.6" r="3.3" fill="url(#sC)"/><circle cx="1774.1" cy="1597.0" r="3.3" fill="url(#sA)"/><circle cx="1780.1" cy="1597.7" r="3.3" fill="url(#sB)"/><circle cx="1787.0" cy="1596.2" r="3.0" fill="url(#sA)"/><circle cx="1794.4" cy="1596.3" r="2.9" fill="url(#sB)"/><circle cx="1800.0" cy="1597.1" r="3.1" fill="url(#sA)"/><circle cx="1805.8" cy="1596.4" r="3.2" fill="url(#sA)"/>
<rect x="1566.00" y="1219.20" width="241.90" height="374.80" fill="#000" filter="url(#blotch)" opacity="0.5"/>
<path d="M1550,1412 Q1600,1425 1629,1440 Q1665,1460 1698,1478 Q1720,1478 1740,1468 Q1775,1458 1820,1462 L1820,1610 L1550,1610 Z" fill="#0c0c0c" opacity="0.55" filter="url(#edge)"/>
<ellipse cx="1684.0" cy="1555.4" rx="17.6" ry="14.5" fill="#9a9a9a" opacity="0.22" filter="url(#edge)"/>
<ellipse cx="1671.6" cy="1505.4" rx="10.1" ry="8.3" fill="#9a9a9a" opacity="0.22" filter="url(#edge)"/>
<ellipse cx="1764.8" cy="1494.3" rx="15.4" ry="8.1" fill="#9a9a9a" opacity="0.22" filter="url(#edge)"/>
<ellipse cx="1690.1" cy="1527.5" rx="19.7" ry="12.1" fill="#9a9a9a" opacity="0.22" filter="url(#edge)"/>
<ellipse cx="1642.5" cy="1510.3" rx="10.1" ry="14.7" fill="#9a9a9a" opacity="0.22" filter="url(#edge)"/>
<ellipse cx="1777.7" cy="1568.7" rx="19.6" ry="13.4" fill="#9a9a9a" opacity="0.22" filter="url(#edge)"/>
<ellipse cx="1801.4" cy="1567.3" rx="11.6" ry="14.5" fill="#9a9a9a" opacity="0.22" filter="url(#edge)"/>
<ellipse cx="1722.8" cy="1563.1" rx="15.9" ry="10.3" fill="#9a9a9a" opacity="0.22" filter="url(#edge)"/>
<ellipse cx="1701.9" cy="1527.3" rx="12.4" ry="7.2" fill="#9a9a9a" opacity="0.22" filter="url(#edge)"/>
<ellipse cx="1779.3" cy="1567.8" rx="21.8" ry="12.9" fill="#9a9a9a" opacity="0.22" filter="url(#edge)"/>
<ellipse cx="1734.2" cy="1562.3" rx="9.9" ry="12.8" fill="#9a9a9a" opacity="0.22" filter="url(#edge)"/>
<ellipse cx="1715.4" cy="1499.4" rx="10.8" ry="11.2" fill="#9a9a9a" opacity="0.22" filter="url(#edge)"/>
<ellipse cx="1683.1" cy="1530.5" rx="16.5" ry="10.0" fill="#9a9a9a" opacity="0.22" filter="url(#edge)"/>
<ellipse cx="1662.2" cy="1534.0" rx="11.3" ry="8.4" fill="#9a9a9a" opacity="0.22" filter="url(#edge)"/>
<ellipse cx="1595.3" cy="1501.3" rx="6.7" ry="9.6" fill="#000" opacity="0.35" filter="url(#edge)"/>
<ellipse cx="1694.0" cy="1504.6" rx="13.2" ry="11.5" fill="#000" opacity="0.35" filter="url(#edge)"/>
<ellipse cx="1575.6" cy="1469.8" rx="14.1" ry="10.9" fill="#000" opacity="0.35" filter="url(#edge)"/>
<ellipse cx="1653.1" cy="1472.4" rx="10.1" ry="11.1" fill="#000" opacity="0.35" filter="url(#edge)"/>
<ellipse cx="1685.2" cy="1562.4" rx="8.0" ry="11.0" fill="#000" opacity="0.35" filter="url(#edge)"/>
<ellipse cx="1618.7" cy="1550.3" rx="7.4" ry="11.8" fill="#000" opacity="0.35" filter="url(#edge)"/>
<ellipse cx="1648.5" cy="1551.2" rx="8.1" ry="9.3" fill="#000" opacity="0.35" filter="url(#edge)"/>
<ellipse cx="1645.5" cy="1532.8" rx="9.6" ry="10.1" fill="#000" opacity="0.35" filter="url(#edge)"/>
<ellipse cx="1614.4" cy="1491.3" rx="7.6" ry="9.8" fill="#000" opacity="0.35" filter="url(#edge)"/>
<ellipse cx="1584.6" cy="1481.6" rx="6.7" ry="9.5" fill="#000" opacity="0.35" filter="url(#edge)"/>
<rect x="1566.00" y="1219.20" width="241.90" height="190.00" fill="#ffffff" opacity="0.07"/>
</g>
<rect x="1461.5" y="1255.7" width="69.5" height="52.8" rx="7" fill="none" stroke="#e0312b" stroke-width="2" stroke-dasharray="6,4"/>
<line x1="1531" y1="1250.8" x2="1565" y2="1221.5" stroke="#e0312b" stroke-width="2" stroke-dasharray="6,4"/>
<line x1="1531" y1="1303" x2="1565" y2="1593.6" stroke="#e0312b" stroke-width="2" stroke-dasharray="6,4"/>
<text x="1413.40" y="1640.20" font-size="23.7">Catalyst Layer: CuRu/MCHS</text>
<text x="1423.20" y="1668.00" font-size="23.7">(Stacked 3D nanospheres)</text>
<text x="-1.00" y="1141.20" font-size="44">f</text>
<rect x="88.90" y="1446.36" width="57.00" height="185.84" fill="url(#lg19)"/>
<rect x="182.00" y="1405.13" width="57.00" height="227.07" fill="url(#lg19)"/>
<rect x="274.80" y="1367.96" width="57.00" height="264.24" fill="url(#lg19)"/>
<rect x="368.00" y="1296.82" width="57.00" height="335.38" fill="url(#lg19)"/>
<rect x="460.40" y="1291.88" width="57.00" height="340.32" fill="url(#lg19)"/>
<g stroke="#2a63a6"><line x1="210.50" y1="1403.38" x2="210.50" y2="1406.00" stroke-width="1.8"/><line x1="205.75" y1="1403.38" x2="215.25" y2="1403.38" stroke-width="2.2"/><line x1="205.75" y1="1406.00" x2="215.25" y2="1406.00" stroke-width="2.2"/></g>
<g stroke="#2a63a6"><line x1="303.30" y1="1356.34" x2="303.30" y2="1378.70" stroke-width="1.8"/><line x1="298.55" y1="1356.34" x2="308.05" y2="1356.34" stroke-width="2.2"/><line x1="298.55" y1="1378.70" x2="308.05" y2="1378.70" stroke-width="2.2"/></g>
<g stroke="#2a63a6"><line x1="396.50" y1="1274.46" x2="396.50" y2="1319.76" stroke-width="1.8"/><line x1="391.75" y1="1274.46" x2="401.25" y2="1274.46" stroke-width="2.2"/><line x1="391.75" y1="1319.76" x2="401.25" y2="1319.76" stroke-width="2.2"/></g>
<g stroke="#2a63a6"><line x1="488.90" y1="1284.62" x2="488.90" y2="1300.01" stroke-width="1.8"/><line x1="484.15" y1="1284.62" x2="493.65" y2="1284.62" stroke-width="2.2"/><line x1="484.15" y1="1300.01" x2="493.65" y2="1300.01" stroke-width="2.2"/></g>
<path d="M118.4,1448.3 C133.8,1444.4 180.1,1433.3 210.8,1424.9 C241.6,1416.5 272.1,1416.8 302.9,1397.9 C333.7,1379.0 364.7,1341.7 395.7,1311.5 C426.7,1281.3 473.3,1232.7 488.8,1216.9" fill="none" stroke="#f4bcbc" stroke-width="2.6" stroke-dasharray="9,6"/>
<circle cx="118.4" cy="1448.3" r="6.0" fill="#f5caca" stroke="#e26262" stroke-width="1.3"/>
<path d="M112.4,1447.8 A6.0,6.0 0 0 1 124.4,1447.8 Z" fill="#e26262"/>
<circle cx="210.8" cy="1424.9" r="6.0" fill="#f5caca" stroke="#e26262" stroke-width="1.3"/>
<path d="M204.8,1424.4 A6.0,6.0 0 0 1 216.8,1424.4 Z" fill="#e26262"/>
<circle cx="302.9" cy="1397.9" r="6.0" fill="#f5caca" stroke="#e26262" stroke-width="1.3"/>
<path d="M296.9,1397.4 A6.0,6.0 0 0 1 308.9,1397.4 Z" fill="#e26262"/>
<circle cx="395.7" cy="1311.5" r="6.0" fill="#f5caca" stroke="#e26262" stroke-width="1.3"/>
<path d="M389.7,1311.0 A6.0,6.0 0 0 1 401.7,1311.0 Z" fill="#e26262"/>
<circle cx="488.8" cy="1216.9" r="6.0" fill="#f5caca" stroke="#e26262" stroke-width="1.3"/>
<path d="M482.8,1216.4 A6.0,6.0 0 0 1 494.8,1216.4 Z" fill="#e26262"/>
<rect x="71.30" y="1167.60" width="463.70" height="464.60" fill="none" stroke="#000" stroke-width="2.4"/>
<line x1="71.30" y1="1632.20" x2="79.80" y2="1632.20" stroke="#000" stroke-width="2.0"/>
<text x="62.50" y="1638.80" font-size="22.2" text-anchor="end" fill="#0f50a0">0</text>
<line x1="71.30" y1="1603.16" x2="75.70" y2="1603.16" stroke="#000" stroke-width="2.0"/>
<line x1="71.30" y1="1574.12" x2="79.80" y2="1574.12" stroke="#000" stroke-width="2.0"/>
<text x="62.50" y="1580.72" font-size="22.2" text-anchor="end" fill="#0f50a0">1</text>
<line x1="71.30" y1="1545.09" x2="75.70" y2="1545.09" stroke="#000" stroke-width="2.0"/>
<line x1="71.30" y1="1516.05" x2="79.80" y2="1516.05" stroke="#000" stroke-width="2.0"/>
<text x="62.50" y="1522.65" font-size="22.2" text-anchor="end" fill="#0f50a0">2</text>
<line x1="71.30" y1="1487.01" x2="75.70" y2="1487.01" stroke="#000" stroke-width="2.0"/>
<line x1="71.30" y1="1457.97" x2="79.80" y2="1457.97" stroke="#000" stroke-width="2.0"/>
<text x="62.50" y="1464.57" font-size="22.2" text-anchor="end" fill="#0f50a0">3</text>
<line x1="71.30" y1="1428.94" x2="75.70" y2="1428.94" stroke="#000" stroke-width="2.0"/>
<line x1="71.30" y1="1399.90" x2="79.80" y2="1399.90" stroke="#000" stroke-width="2.0"/>
<text x="62.50" y="1406.50" font-size="22.2" text-anchor="end" fill="#0f50a0">4</text>
<line x1="71.30" y1="1370.86" x2="75.70" y2="1370.86" stroke="#000" stroke-width="2.0"/>
<line x1="71.30" y1="1341.82" x2="79.80" y2="1341.82" stroke="#000" stroke-width="2.0"/>
<text x="62.50" y="1348.42" font-size="22.2" text-anchor="end" fill="#0f50a0">5</text>
<line x1="71.30" y1="1312.79" x2="75.70" y2="1312.79" stroke="#000" stroke-width="2.0"/>
<line x1="71.30" y1="1283.75" x2="79.80" y2="1283.75" stroke="#000" stroke-width="2.0"/>
<text x="62.50" y="1290.35" font-size="22.2" text-anchor="end" fill="#0f50a0">6</text>
<line x1="71.30" y1="1254.71" x2="75.70" y2="1254.71" stroke="#000" stroke-width="2.0"/>
<line x1="71.30" y1="1225.67" x2="79.80" y2="1225.67" stroke="#000" stroke-width="2.0"/>
<text x="62.50" y="1232.27" font-size="22.2" text-anchor="end" fill="#0f50a0">7</text>
<line x1="71.30" y1="1196.64" x2="75.70" y2="1196.64" stroke="#000" stroke-width="2.0"/>
<line x1="71.30" y1="1167.60" x2="79.80" y2="1167.60" stroke="#000" stroke-width="2.0"/>
<text x="62.50" y="1174.20" font-size="22.2" text-anchor="end" fill="#0f50a0">8</text>
<line x1="535.00" y1="1632.20" x2="526.50" y2="1632.20" stroke="#000" stroke-width="2.0"/>
<text x="541.40" y="1640.70" font-size="22.2" fill="#e06868">0</text>
<line x1="535.00" y1="1599.01" x2="530.60" y2="1599.01" stroke="#000" stroke-width="2.0"/>
<line x1="535.00" y1="1565.83" x2="526.50" y2="1565.83" stroke="#000" stroke-width="2.0"/>
<text x="541.40" y="1574.33" font-size="22.2" fill="#e06868">2</text>
<line x1="535.00" y1="1532.64" x2="530.60" y2="1532.64" stroke="#000" stroke-width="2.0"/>
<line x1="535.00" y1="1499.46" x2="526.50" y2="1499.46" stroke="#000" stroke-width="2.0"/>
<text x="541.40" y="1507.96" font-size="22.2" fill="#e06868">4</text>
<line x1="535.00" y1="1466.27" x2="530.60" y2="1466.27" stroke="#000" stroke-width="2.0"/>
<line x1="535.00" y1="1433.09" x2="526.50" y2="1433.09" stroke="#000" stroke-width="2.0"/>
<text x="541.40" y="1441.59" font-size="22.2" fill="#e06868">6</text>
<line x1="535.00" y1="1399.90" x2="530.60" y2="1399.90" stroke="#000" stroke-width="2.0"/>
<line x1="535.00" y1="1366.71" x2="526.50" y2="1366.71" stroke="#000" stroke-width="2.0"/>
<text x="541.40" y="1375.21" font-size="22.2" fill="#e06868">8</text>
<line x1="535.00" y1="1333.53" x2="530.60" y2="1333.53" stroke="#000" stroke-width="2.0"/>
<line x1="535.00" y1="1300.34" x2="526.50" y2="1300.34" stroke="#000" stroke-width="2.0"/>
<text x="541.40" y="1308.84" font-size="22.2" fill="#e06868">10</text>
<line x1="535.00" y1="1267.16" x2="530.60" y2="1267.16" stroke="#000" stroke-width="2.0"/>
<line x1="535.00" y1="1233.97" x2="526.50" y2="1233.97" stroke="#000" stroke-width="2.0"/>
<text x="541.40" y="1242.47" font-size="22.2" fill="#e06868">12</text>
<line x1="535.00" y1="1200.79" x2="530.60" y2="1200.79" stroke="#000" stroke-width="2.0"/>
<line x1="535.00" y1="1167.60" x2="526.50" y2="1167.60" stroke="#000" stroke-width="2.0"/>
<text x="541.40" y="1176.10" font-size="22.2" fill="#e06868">14</text>
<line x1="118.40" y1="1167.60" x2="118.40" y2="1176.10" stroke="#000" stroke-width="2.0"/>
<text x="118.70" y="1158.20" font-size="22.4" text-anchor="middle" fill="#e06868">50</text>
<line x1="164.60" y1="1167.60" x2="164.60" y2="1172.00" stroke="#000" stroke-width="2.0"/>
<line x1="210.80" y1="1167.60" x2="210.80" y2="1176.10" stroke="#000" stroke-width="2.0"/>
<text x="211.10" y="1158.20" font-size="22.4" text-anchor="middle" fill="#e06868">100</text>
<line x1="256.85" y1="1167.60" x2="256.85" y2="1172.00" stroke="#000" stroke-width="2.0"/>
<line x1="302.90" y1="1167.60" x2="302.90" y2="1176.10" stroke="#000" stroke-width="2.0"/>
<text x="303.20" y="1158.20" font-size="22.4" text-anchor="middle" fill="#e06868">150</text>
<line x1="349.30" y1="1167.60" x2="349.30" y2="1172.00" stroke="#000" stroke-width="2.0"/>
<line x1="395.70" y1="1167.60" x2="395.70" y2="1176.10" stroke="#000" stroke-width="2.0"/>
<text x="396.00" y="1158.20" font-size="22.4" text-anchor="middle" fill="#e06868">200</text>
<line x1="442.25" y1="1167.60" x2="442.25" y2="1172.00" stroke="#000" stroke-width="2.0"/>
<line x1="488.80" y1="1167.60" x2="488.80" y2="1176.10" stroke="#000" stroke-width="2.0"/>
<text x="489.10" y="1158.20" font-size="22.4" text-anchor="middle" fill="#e06868">250</text>
<line x1="117.40" y1="1632.20" x2="117.40" y2="1624.70" stroke="#000" stroke-width="2.0"/>
<text x="117.80" y="1657.60" font-size="22.4" text-anchor="middle" fill="#0f50a0">−0.7</text>
<line x1="210.50" y1="1632.20" x2="210.50" y2="1624.70" stroke="#000" stroke-width="2.0"/>
<text x="210.90" y="1657.60" font-size="22.4" text-anchor="middle" fill="#0f50a0">−0.8</text>
<line x1="303.30" y1="1632.20" x2="303.30" y2="1624.70" stroke="#000" stroke-width="2.0"/>
<text x="303.70" y="1657.60" font-size="22.4" text-anchor="middle" fill="#0f50a0">−0.9</text>
<line x1="396.50" y1="1632.20" x2="396.50" y2="1624.70" stroke="#000" stroke-width="2.0"/>
<text x="396.90" y="1657.60" font-size="22.4" text-anchor="middle" fill="#0f50a0">−1.0</text>
<line x1="488.90" y1="1632.20" x2="488.90" y2="1624.70" stroke="#000" stroke-width="2.0"/>
<text x="489.30" y="1657.60" font-size="22.4" text-anchor="middle" fill="#0f50a0">−1.1</text>
<text x="304.20" y="1682.40" font-size="23.1" text-anchor="middle"><tspan>Potential (V </tspan><tspan font-style="italic">vs.</tspan><tspan> RHE)</tspan></text>
<text x="296.00" y="1132.30" font-size="23.4" text-anchor="middle"><tspan>Current density (mA cm</tspan><tspan dy="-9.36" font-size="15.91">-2</tspan><tspan dy="9.36">)</tspan></text>
<text transform="translate(37.40,1395.70) rotate(-90)" font-size="23.4" text-anchor="middle"><tspan>Yield </tspan><tspan dy="7.02" font-size="15.91">Urea</tspan><tspan dy="-7.02"> (g h</tspan><tspan dy="-9.36" font-size="15.91">-1</tspan><tspan dy="9.36"> g</tspan><tspan dy="7.02" font-size="15.91">cat</tspan><tspan dy="-16.38" font-size="15.91">-1</tspan><tspan dy="9.36"> )</tspan></text>
<text transform="translate(592.60,1396.00) rotate(-90)" font-size="23.4" text-anchor="middle"><tspan>Yield </tspan><tspan dy="7.02" font-size="15.91">Urea</tspan><tspan dy="-7.02"> (g h</tspan><tspan dy="-9.36" font-size="15.91">-1</tspan><tspan dy="9.36"> g</tspan><tspan dy="7.02" font-size="15.91">cat</tspan><tspan dy="-16.38" font-size="15.91">-1</tspan><tspan dy="9.36"> )</tspan></text>
<g stroke="#1b5aa0" stroke-width="2" fill="none"><path d="M120.9,1401 L96.5,1401 M120.9,1401 L120.9,1423"/></g>
<path d="M89.5,1401 L101,1396.8 L101,1405.2 Z" fill="#1b5aa0"/>
<path d="M120.9,1431.5 L116.7,1420 L125.1,1420 Z" fill="#1b5aa0"/>
<g stroke="#e06868" stroke-width="2" fill="none"><path d="M501.2,1216.2 L501.2,1193 M501.2,1216.2 L523,1216.2"/></g>
<path d="M501.2,1184.5 L497.0,1196 L505.4,1196 Z" fill="#e06868"/>
<path d="M531.5,1216.2 L520,1212.0 L520,1220.4 Z" fill="#e06868"/>
<text x="614.50" y="1151.00" font-size="44">g</text>
<rect x="761.80" y="1464.30" width="57.70" height="170.60" fill="url(#lg20)"/>
<rect x="856.90" y="1427.17" width="57.70" height="207.73" fill="url(#lg20)"/>
<rect x="952.00" y="1361.62" width="57.70" height="273.28" fill="url(#lg20)"/>
<rect x="1046.80" y="1327.65" width="57.70" height="307.25" fill="url(#lg20)"/>
<rect x="1141.00" y="1386.10" width="57.70" height="248.80" fill="url(#lg20)"/>
<g stroke="#2a63a6"><line x1="790.65" y1="1444.55" x2="790.65" y2="1484.83" stroke-width="1.8"/><line x1="785.65" y1="1444.55" x2="795.65" y2="1444.55" stroke-width="2.2"/><line x1="785.65" y1="1484.83" x2="795.65" y2="1484.83" stroke-width="2.2"/></g>
<g stroke="#2a63a6"><line x1="885.75" y1="1402.69" x2="885.75" y2="1452.45" stroke-width="1.8"/><line x1="880.75" y1="1402.69" x2="890.75" y2="1402.69" stroke-width="2.2"/><line x1="880.75" y1="1452.45" x2="890.75" y2="1452.45" stroke-width="2.2"/></g>
<g stroke="#2a63a6"><line x1="980.85" y1="1347.40" x2="980.85" y2="1375.83" stroke-width="1.8"/><line x1="975.85" y1="1347.40" x2="985.85" y2="1347.40" stroke-width="2.2"/><line x1="975.85" y1="1375.83" x2="985.85" y2="1375.83" stroke-width="2.2"/></g>
<g stroke="#2a63a6"><line x1="1075.65" y1="1256.57" x2="1075.65" y2="1400.32" stroke-width="1.8"/><line x1="1070.65" y1="1256.57" x2="1080.65" y2="1256.57" stroke-width="2.2"/><line x1="1070.65" y1="1400.32" x2="1080.65" y2="1400.32" stroke-width="2.2"/></g>
<g stroke="#2a63a6"><line x1="1169.85" y1="1364.78" x2="1169.85" y2="1406.64" stroke-width="1.8"/><line x1="1164.85" y1="1364.78" x2="1174.85" y2="1364.78" stroke-width="2.2"/><line x1="1164.85" y1="1406.64" x2="1174.85" y2="1406.64" stroke-width="2.2"/></g>
<rect x="744.60" y="1161.00" width="473.40" height="473.90" fill="none" stroke="#000" stroke-width="2.4"/>
<line x1="744.60" y1="1634.90" x2="752.80" y2="1634.90" stroke="#000" stroke-width="2.0"/>
<text x="734.00" y="1641.20" font-size="22.2" text-anchor="end">0</text>
<line x1="744.60" y1="1595.41" x2="748.80" y2="1595.41" stroke="#000" stroke-width="2.0"/>
<line x1="744.60" y1="1555.92" x2="752.80" y2="1555.92" stroke="#000" stroke-width="2.0"/>
<text x="734.00" y="1562.22" font-size="22.2" text-anchor="end">5</text>
<line x1="744.60" y1="1516.42" x2="748.80" y2="1516.42" stroke="#000" stroke-width="2.0"/>
<line x1="744.60" y1="1476.93" x2="752.80" y2="1476.93" stroke="#000" stroke-width="2.0"/>
<text x="734.00" y="1483.23" font-size="22.2" text-anchor="end">10</text>
<line x1="744.60" y1="1437.44" x2="748.80" y2="1437.44" stroke="#000" stroke-width="2.0"/>
<line x1="744.60" y1="1397.95" x2="752.80" y2="1397.95" stroke="#000" stroke-width="2.0"/>
<text x="734.00" y="1404.25" font-size="22.2" text-anchor="end">15</text>
<line x1="744.60" y1="1358.46" x2="748.80" y2="1358.46" stroke="#000" stroke-width="2.0"/>
<line x1="744.60" y1="1318.97" x2="752.80" y2="1318.97" stroke="#000" stroke-width="2.0"/>
<text x="734.00" y="1325.27" font-size="22.2" text-anchor="end">20</text>
<line x1="744.60" y1="1279.47" x2="748.80" y2="1279.47" stroke="#000" stroke-width="2.0"/>
<line x1="744.60" y1="1239.98" x2="752.80" y2="1239.98" stroke="#000" stroke-width="2.0"/>
<text x="734.00" y="1246.28" font-size="22.2" text-anchor="end">25</text>
<line x1="744.60" y1="1200.49" x2="748.80" y2="1200.49" stroke="#000" stroke-width="2.0"/>
<line x1="744.60" y1="1161.00" x2="752.80" y2="1161.00" stroke="#000" stroke-width="2.0"/>
<text x="734.00" y="1167.30" font-size="22.2" text-anchor="end">30</text>
<line x1="790.65" y1="1634.90" x2="790.65" y2="1627.10" stroke="#000" stroke-width="2.0"/>
<text x="790.95" y="1661.00" font-size="22.4" text-anchor="middle">−0.7</text>
<line x1="885.75" y1="1634.90" x2="885.75" y2="1627.10" stroke="#000" stroke-width="2.0"/>
<text x="886.05" y="1661.00" font-size="22.4" text-anchor="middle">−0.8</text>
<line x1="980.85" y1="1634.90" x2="980.85" y2="1627.10" stroke="#000" stroke-width="2.0"/>
<text x="981.15" y="1661.00" font-size="22.4" text-anchor="middle">−0.9</text>
<line x1="1075.65" y1="1634.90" x2="1075.65" y2="1627.10" stroke="#000" stroke-width="2.0"/>
<text x="1075.95" y="1661.00" font-size="22.4" text-anchor="middle">−1.0</text>
<line x1="1169.85" y1="1634.90" x2="1169.85" y2="1627.10" stroke="#000" stroke-width="2.0"/>
<text x="1170.15" y="1661.00" font-size="22.4" text-anchor="middle">−1.1</text>
<text x="988.00" y="1685.80" font-size="23.9" text-anchor="middle"><tspan>Potential (</tspan><tspan font-style="italic">V</tspan><tspan> </tspan><tspan font-style="italic">vs.</tspan><tspan> RHE)</tspan></text>
<text transform="translate(692.60,1396.00) rotate(-90)" font-size="23.4" text-anchor="middle"><tspan>Faradaic efficiency </tspan><tspan dy="7.02" font-size="15.91">Urea</tspan><tspan dy="-7.02"> (%)</tspan></text>
</svg></body></html>
